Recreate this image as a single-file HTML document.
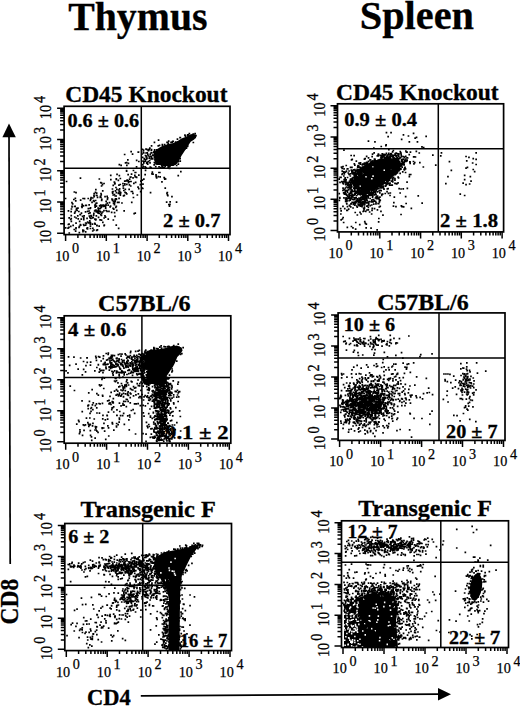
<!DOCTYPE html><html><head><meta charset="utf-8"><style>html,body{margin:0;padding:0;background:#fff;width:520px;height:707px;overflow:hidden}svg{display:block}text{font-family:"Liberation Serif",serif;stroke:#000;stroke-width:0.25px}.b{font-weight:bold;stroke-width:0.3px}</style></head><body>
<svg width="520" height="707" viewBox="0 0 520 707">
<text class="b" x="68.2" y="29.5" font-size="40" textLength="139.3" lengthAdjust="spacingAndGlyphs">Thymus</text>
<text class="b" x="359.8" y="28.6" font-size="40" textLength="114.2" lengthAdjust="spacingAndGlyphs">Spleen</text>
<path d="M155.0 162.6L153.8 156.8L155.0 151.0L159.6 147.6L164.2 145.3L168.8 144.1L173.4 143.0L178.1 140.7L181.5 138.4L186.1 136.7L190.7 134.3L194.2 133.8L196.5 136.7L194.2 139.5L190.7 141.8L188.4 145.3L186.1 148.8L183.8 152.2L181.5 155.7L179.2 160.3L176.9 163.8L173.4 166.1L163.1 166.1L159.6 164.9L157.3 164.9Z"/>
<path d="M122.5 188.2h1.7M93.0 213.4h1.7M115.4 225.1h1.7M78.2 227.4h1.7M118.2 198.4h1.7M74.4 211.7h1.7M112.2 191.5h1.7M142.1 184.2h1.7M116.0 189.3h1.7M94.1 205.4h1.7M126.0 184.4h1.7M93.3 196.6h1.7M149.7 192.6h1.7M78.8 221.3h1.7M79.5 224.6h1.7M72.3 225.4h1.7M125.6 180.8h1.7M84.7 211.8h1.7M86.7 228.9h1.7M90.0 218.5h1.7M73.7 206.5h1.7M99.9 182.7h1.7M93.9 223.3h1.7M103.1 210.7h1.7M88.4 211.0h1.7M132.6 170.5h1.7M111.8 193.2h1.7M73.4 229.5h1.7M120.3 165.4h1.7M88.3 204.8h1.7M98.5 179.0h1.7M104.2 205.4h1.7M81.2 207.3h1.7M124.3 192.4h1.7M127.3 180.5h1.7M109.9 175.4h1.7M93.1 230.0h1.7M128.8 179.2h1.7M94.8 220.0h1.7M108.7 202.6h1.7M102.2 205.3h1.7M139.5 184.6h1.7M130.1 177.0h1.7M134.3 172.5h1.7M127.8 182.7h1.7M86.7 227.8h1.7M75.2 223.1h1.7M85.5 205.5h1.7M119.9 192.5h1.7M123.0 190.5h1.7M134.8 182.3h1.7M102.4 205.2h1.7M115.1 187.5h1.7M101.6 184.6h1.7M75.7 208.3h1.7M95.0 189.6h1.7M107.4 219.1h1.7M123.9 181.2h1.7M94.3 207.2h1.7M128.7 181.5h1.7M111.1 199.0h1.7M130.2 181.5h1.7M117.6 193.4h1.7M138.0 175.2h1.7M99.8 211.8h1.7M126.3 180.0h1.7M128.3 189.3h1.7M75.2 192.7h1.7M106.3 196.4h1.7M113.6 182.1h1.7M125.7 170.7h1.7M67.6 210.8h1.7M118.9 191.3h1.7M114.6 190.8h1.7M112.6 201.4h1.7M78.0 211.5h1.7M127.3 174.7h1.7M141.3 188.2h1.7M77.4 218.9h1.7M89.1 217.7h1.7M124.2 192.3h1.7M130.5 191.5h1.7M75.4 218.0h1.7M79.2 214.5h1.7M74.8 231.2h1.7M114.2 183.4h1.7M130.9 202.3h1.7M82.1 230.3h1.7M100.8 200.4h1.7M119.5 195.2h1.7M142.0 188.5h1.7M122.1 183.7h1.7M131.5 191.5h1.7M135.8 177.3h1.7M115.3 196.0h1.7M101.0 199.4h1.7M115.5 178.9h1.7M121.1 203.0h1.7M113.5 182.0h1.7M91.9 198.0h1.7M82.7 224.5h1.7M127.4 181.5h1.7M132.6 197.5h1.7M119.5 178.5h1.7M118.1 185.2h1.7M67.2 228.2h1.7M140.0 181.1h1.7M96.1 195.5h1.7M135.5 177.0h1.7M81.3 204.3h1.7M93.3 201.3h1.7M82.2 198.5h1.7M71.2 206.9h1.7M97.3 208.2h1.7M111.6 192.0h1.7M85.6 223.4h1.7M90.2 197.7h1.7M94.6 192.4h1.7M134.4 176.9h1.7M128.6 184.9h1.7M100.5 207.2h1.7M113.6 194.6h1.7M99.7 208.2h1.7M93.3 193.7h1.7M129.5 177.2h1.7M79.9 225.2h1.7M99.4 197.4h1.7M118.2 192.0h1.7M119.7 193.5h1.7M103.2 183.5h1.7M75.1 228.7h1.7M115.6 192.7h1.7M119.4 184.5h1.7M112.2 208.3h1.7M94.8 200.5h1.7M115.4 179.3h1.7M117.9 190.0h1.7M139.8 191.6h1.7M100.8 183.0h1.7M86.8 211.3h1.7M89.3 208.5h1.7M95.5 215.8h1.7M118.1 202.3h1.7M123.3 210.8h1.7M112.5 220.0h1.7M67.5 224.5h1.7M113.9 183.9h1.7M74.9 200.8h1.7M124.0 184.9h1.7M104.1 215.8h1.7M129.9 186.0h1.7M91.6 224.2h1.7M141.5 180.2h1.7M112.4 185.4h1.7M102.0 222.3h1.7M123.5 195.4h1.7M105.2 204.5h1.7M134.0 175.4h1.7M132.1 193.3h1.7M81.5 205.1h1.7M118.5 164.6h1.7M136.5 195.0h1.7M95.8 193.2h1.7M127.6 163.4h1.7M78.5 232.7h1.7M87.5 208.7h1.7M76.3 210.4h1.7M90.5 216.4h1.7M95.1 210.2h1.7M114.4 196.0h1.7M95.5 211.8h1.7M115.9 210.4h1.7M96.7 197.3h1.7M107.3 205.1h1.7M100.4 194.8h1.7M113.0 209.2h1.7M112.7 203.4h1.7M103.2 225.7h1.7M125.2 192.9h1.7M97.5 209.9h1.7M105.2 204.4h1.7M98.9 211.1h1.7M99.8 205.2h1.7M110.8 212.4h1.7M96.0 225.4h1.7M99.2 219.8h1.7M114.3 199.7h1.7M111.5 199.9h1.7M103.3 218.0h1.7M88.9 220.8h1.7M115.6 199.4h1.7M104.8 208.2h1.7M95.9 203.2h1.7M114.9 207.3h1.7M97.4 213.1h1.7M106.8 197.9h1.7M104.7 217.1h1.7M112.3 195.0h1.7M100.0 205.8h1.7M113.6 204.7h1.7M95.6 206.1h1.7M105.3 210.5h1.7M114.2 201.2h1.7M89.7 207.8h1.7M100.6 215.5h1.7M109.3 206.8h1.7M86.8 222.0h1.7M89.5 200.3h1.7M105.2 205.2h1.7M101.3 205.3h1.7M106.5 203.1h1.7M101.9 212.0h1.7M97.5 211.6h1.7M111.8 199.7h1.7M113.7 212.6h1.7M89.5 222.7h1.7M80.4 219.1h1.7M104.0 206.2h1.7M84.9 205.4h1.7M100.0 214.6h1.7M89.2 212.9h1.7M101.0 205.5h1.7M109.7 206.1h1.7M106.2 211.4h1.7M82.9 219.7h1.7M114.1 216.3h1.7M106.6 199.3h1.7M118.8 188.8h1.7M113.7 203.0h1.7M89.6 226.1h1.7M102.4 206.3h1.7M124.5 189.4h1.7M100.1 197.4h1.7M92.8 215.2h1.7M100.7 220.1h1.7M104.7 206.3h1.7M96.5 211.2h1.7M91.7 217.9h1.7M111.6 189.0h1.7M87.8 222.9h1.7M111.7 200.5h1.7M108.1 211.4h1.7M117.5 180.4h1.7M104.2 196.7h1.7M115.4 198.9h1.7M95.2 203.3h1.7M82.9 217.9h1.7M93.8 211.0h1.7M92.4 217.4h1.7M114.8 198.9h1.7M84.8 223.0h1.7M116.7 202.4h1.7M105.3 201.3h1.7M114.3 201.5h1.7M100.9 213.4h1.7M81.7 216.3h1.7M99.6 196.4h1.7M86.1 228.4h1.7M94.3 224.2h1.7M75.5 209.8h1.7M70.4 215.6h1.7M87.4 198.5h1.7M87.9 213.5h1.7M80.6 213.2h1.7M86.2 218.3h1.7M70.6 209.0h1.7M89.6 222.8h1.7M91.9 231.0h1.7M73.9 217.0h1.7M76.9 215.8h1.7M71.1 202.6h1.7M68.4 233.0h1.7M70.4 218.6h1.7M89.6 228.5h1.7M73.8 213.2h1.7M83.7 198.6h1.7M83.1 225.5h1.7M77.1 208.1h1.7M74.3 206.4h1.7M98.8 205.8h1.7M83.3 215.8h1.7M90.0 199.2h1.7M98.6 213.3h1.7M94.5 204.6h1.7M75.2 227.9h1.7M97.7 217.4h1.7M69.9 226.4h1.7M82.6 205.8h1.7M73.0 199.5h1.7M70.3 211.7h1.7M88.5 216.0h1.7M82.9 230.7h1.7M78.6 226.3h1.7M92.7 200.7h1.7M71.2 206.4h1.7M64.8 227.8h1.7M82.0 230.2h1.7M70.5 221.3h1.7M97.0 212.4h1.7M79.6 214.7h1.7M91.2 202.3h1.7M92.0 228.4h1.7M79.8 200.2h1.7M99.0 208.6h1.7M90.2 215.5h1.7M85.4 205.4h1.7M98.3 226.2h1.7M68.1 227.4h1.7M89.5 224.2h1.7M68.2 224.2h1.7M95.1 219.4h1.7M69.8 219.5h1.7M82.1 231.6h1.7M64.7 198.5h1.7M96.2 225.6h1.7M94.4 210.4h1.7M74.5 198.3h1.7M84.8 231.9h1.7M94.1 219.1h1.7M80.9 206.5h1.7M71.8 203.8h1.7M95.8 230.4h1.7M96.6 229.9h1.7M101.9 190.9h1.7M122.7 195.9h1.7M124.0 183.8h1.7M110.0 179.6h1.7M137.9 188.6h1.7M130.7 174.2h1.7M122.4 185.9h1.7M137.2 187.1h1.7M134.9 172.5h1.7M119.2 193.9h1.7M100.2 193.5h1.7M125.9 193.9h1.7M118.5 175.7h1.7M100.7 186.0h1.7M133.0 183.4h1.7M68.3 217.9h1.7M125.8 171.1h1.7M103.5 225.2h1.7M73.5 192.0h1.7M132.2 177.8h1.7M93.1 195.7h1.7M65.7 181.5h1.7M79.6 178.1h1.7M95.6 195.3h1.7M134.4 213.2h1.7M116.2 174.4h1.7M133.3 213.7h1.7M84.8 225.1h1.7M115.5 206.4h1.7M117.8 228.4h1.7M131.7 154.2h1.7M137.4 152.2h1.7M125.8 162.6h1.7M127.0 159.9h1.7M123.8 154.5h1.7M137.7 152.0h1.7M126.0 165.4h1.7M135.8 160.3h1.7M130.3 151.7h1.7M124.7 162.9h1.7M135.7 166.8h1.7M138.0 161.5h1.7M150.7 145.9h1.7M153.6 142.4h1.7M157.7 140.1h1.7M166.2 142.4h1.7M170.2 142.4h1.7M147.2 150.0h1.7M145.2 153.0h1.7M148.5 149.4h1.7M153.5 162.5h1.7M146.4 152.9h1.7M146.2 158.0h1.7M152.7 155.2h1.7M143.4 158.5h1.7M145.8 162.9h1.7M153.8 154.2h1.7M145.5 149.1h1.7M144.2 166.8h1.7M142.3 166.6h1.7M145.1 167.7h1.7M147.4 161.6h1.7M154.8 159.5h1.7M149.4 154.4h1.7M150.2 153.0h1.7M154.3 152.6h1.7M147.9 149.7h1.7M143.5 159.1h1.7M141.8 157.3h1.7M141.9 167.5h1.7M147.5 156.0h1.7M142.2 161.1h1.7M153.8 149.9h1.7M154.4 153.2h1.7M149.2 156.6h1.7M149.2 162.9h1.7M155.1 160.9h1.7M150.5 150.4h1.7M141.4 154.0h1.7M152.0 155.2h1.7M148.8 160.6h1.7M146.2 162.3h1.7M149.0 148.2h1.7M150.4 156.3h1.7M149.4 167.2h1.7M145.1 149.0h1.7M154.2 159.6h1.7M146.4 163.3h1.7M142.4 152.0h1.7M141.6 149.4h1.7M146.9 164.1h1.7M150.2 167.7h1.7M143.0 162.9h1.7M142.9 161.3h1.7M147.8 150.5h1.7M144.5 161.1h1.7M144.6 155.5h1.7M142.0 164.6h1.7M145.3 156.8h1.7M145.8 149.4h1.7M145.1 159.5h1.7M142.7 150.1h1.7M142.9 153.0h1.7M154.0 163.0h1.7M154.5 160.5h1.7M154.9 166.7h1.7M153.3 164.8h1.7M147.0 154.3h1.7M147.5 150.7h1.7M142.7 152.4h1.7M153.4 151.5h1.7M150.3 158.9h1.7M153.9 156.9h1.7M145.9 158.9h1.7M153.1 152.1h1.7M146.0 163.1h1.7M150.7 149.6h1.7M145.5 156.0h1.7M148.4 158.2h1.7M190.9 136.1h1.7M150.8 157.1h1.7M161.6 145.9h1.7M184.1 135.1h1.7M179.2 137.6h1.7M187.7 134.9h1.7M168.0 165.5h1.7M168.6 168.4h1.7M155.9 149.8h1.7M170.4 163.8h1.7M194.3 137.5h1.7M161.5 144.6h1.7M155.3 163.9h1.7M167.4 143.1h1.7M184.6 136.1h1.7M157.2 163.4h1.7M151.9 158.9h1.7M177.5 161.7h1.7M177.4 160.8h1.7M156.5 164.1h1.7M156.9 162.9h1.7M159.9 167.5h1.7M177.5 161.6h1.7M163.5 167.4h1.7M179.4 161.1h1.7M171.3 142.2h1.7M167.4 145.2h1.7M183.9 148.8h1.7M153.5 152.6h1.7M155.5 152.5h1.7M186.5 146.3h1.7M164.4 166.5h1.7M158.7 145.4h1.7M179.5 137.7h1.7M195.1 135.5h1.7M177.3 142.0h1.7M171.9 141.3h1.7M186.7 145.7h1.7M172.3 141.3h1.7M155.4 156.6h1.7M161.3 166.7h1.7M171.5 164.5h1.7M194.6 135.8h1.7M167.8 141.1h1.7M186.8 135.2h1.7M161.9 167.2h1.7M174.4 164.0h1.7M161.0 165.3h1.7M153.4 157.0h1.7M188.8 140.2h1.7M176.6 139.2h1.7M186.8 146.1h1.7M172.2 164.5h1.7M167.2 144.5h1.7M157.4 145.9h1.7M163.8 144.7h1.7M158.2 166.8h1.7M177.5 164.1h1.7M175.8 165.5h1.7M150.9 152.9h1.7M152.9 152.4h1.7M174.6 162.9h1.7M179.3 158.6h1.7M184.2 143.9h1.7M185.6 148.2h1.7M175.2 162.2h1.7M169.1 166.3h1.7M184.8 148.2h1.7M167.8 167.1h1.7M174.8 142.1h1.7M194.3 133.7h1.7M172.5 164.7h1.7M187.1 134.9h1.7M157.5 149.7h1.7M192.5 142.5h1.7M192.4 134.1h1.7M154.1 152.9h1.7M192.3 134.5h1.7M188.5 133.5h1.7M167.1 167.0h1.7M159.0 172.5h1.7M165.8 202.1h1.7M158.1 172.5h1.7M168.0 204.5h1.7M163.9 179.2h1.7M169.1 204.3h1.7M166.6 194.9h1.7M166.1 193.3h1.7M159.3 176.8h1.7M166.5 192.5h1.7M168.6 206.1h1.7M155.8 178.0h1.7M175.7 202.2h1.7M167.0 195.7h1.7M169.3 201.9h1.7M164.4 188.2h1.7M164.1 178.6h1.7M161.1 181.8h1.7M155.3 176.6h1.7M171.1 196.7h1.7M163.3 177.6h1.7M164.8 179.0h1.7M177.4 175.6h1.7M180.0 171.7h1.7M143.0 179.1h1.7M155.2 174.8h1.7M144.3 174.7h1.7M144.7 170.3h1.7M157.4 176.7h1.7M152.2 174.1h1.7M151.5 172.2h1.7M151.1 173.8h1.7" stroke="#000" stroke-width="1.7" fill="none"/>
<rect x="64.1" y="106.3" width="165.9" height="128.3" fill="none" stroke="#000" stroke-width="1.7"/>
<path d="M141.3 106.3V234.6M64.1 168.3H230" stroke="#000" stroke-width="1.5" fill="none"/>
<path d="M65.6 234.6v6.5M64.1 233.2h-7M77.9 234.6v3.5M64.1 223.8h-4M85 234.6v3.5M64.1 218.3h-4M90.1 234.6v3.5M64.1 214.4h-4M94.1 234.6v3.5M64.1 211.4h-4M97.3 234.6v3.5M64.1 208.9h-4M100 234.6v3.5M64.1 206.8h-4M102.4 234.6v3.5M64.1 205h-4M104.5 234.6v3.5M64.1 203.4h-4M106.3 234.6v6.5M64.1 202h-7M118.6 234.6v3.5M64.1 192.6h-4M125.8 234.6v3.5M64.1 187.1h-4M130.8 234.6v3.5M64.1 183.2h-4M134.8 234.6v3.5M64.1 180.1h-4M138 234.6v3.5M64.1 177.7h-4M140.7 234.6v3.5M64.1 175.6h-4M143.1 234.6v3.5M64.1 173.8h-4M145.2 234.6v3.5M64.1 172.2h-4M147.1 234.6v6.5M64.1 170.8h-7M159.3 234.6v3.5M64.1 161.4h-4M166.5 234.6v3.5M64.1 155.9h-4M171.6 234.6v3.5M64.1 152h-4M175.5 234.6v3.5M64.1 148.9h-4M178.7 234.6v3.5M64.1 146.5h-4M181.5 234.6v3.5M64.1 144.4h-4M183.8 234.6v3.5M64.1 142.6h-4M185.9 234.6v3.5M64.1 141h-4M187.8 234.6v6.5M64.1 139.5h-7M200 234.6v3.5M64.1 130.1h-4M207.2 234.6v3.5M64.1 124.6h-4M212.3 234.6v3.5M64.1 120.7h-4M216.2 234.6v3.5M64.1 117.7h-4M219.5 234.6v3.5M64.1 115.2h-4M222.2 234.6v3.5M64.1 113.1h-4M224.6 234.6v3.5M64.1 111.3h-4M226.6 234.6v3.5M64.1 109.7h-4M228.5 234.6v6.5M64.1 108.3h-7" stroke="#000" stroke-width="1.5" fill="none"/>
<text x="55.2" y="260.5" font-size="14.2">10<tspan dx="2.6" dy="-7.4">0</tspan></text>
<text x="95.9" y="260.5" font-size="14.2">10<tspan dx="2.6" dy="-7.4">1</tspan></text>
<text x="136.7" y="260.5" font-size="14.2">10<tspan dx="2.6" dy="-7.4">2</tspan></text>
<text x="177.4" y="260.5" font-size="14.2">10<tspan dx="2.6" dy="-7.4">3</tspan></text>
<text x="218.1" y="260.5" font-size="14.2">10<tspan dx="2.6" dy="-7.4">4</tspan></text>
<text transform="translate(51.1 244.1) rotate(-90) scale(1,1.17)" font-size="14.2">10<tspan dx="2.1" dy="-5.4">0</tspan></text>
<text transform="translate(51.1 212.9) rotate(-90) scale(1,1.17)" font-size="14.2">10<tspan dx="2.1" dy="-5.4">1</tspan></text>
<text transform="translate(51.1 181.7) rotate(-90) scale(1,1.17)" font-size="14.2">10<tspan dx="2.1" dy="-5.4">2</tspan></text>
<text transform="translate(51.1 150.4) rotate(-90) scale(1,1.17)" font-size="14.2">10<tspan dx="2.1" dy="-5.4">3</tspan></text>
<text transform="translate(51.1 119.2) rotate(-90) scale(1,1.17)" font-size="14.2">10<tspan dx="2.1" dy="-5.4">4</tspan></text>
<text class="b" x="65.2" y="101.6" font-size="22.6" textLength="162.3" lengthAdjust="spacingAndGlyphs">CD45 Knockout</text>
<text class="b" x="67.4" y="127.4" font-size="18.3" textLength="71.8" lengthAdjust="spacingAndGlyphs">0.6 ± 0.6</text>
<text class="b" x="163" y="227.4" font-size="18.3" textLength="57.4" lengthAdjust="spacingAndGlyphs">2 ± 0.7</text>
<path d="M354.0 175.8L360.0 168.0L367.8 163.5L375.5 160.4L383.0 157.3L390.8 155.8L398.5 158.8L401.6 165.0L398.5 171.2L390.8 178.8L383.0 185.0L375.5 189.6L367.8 191.2L360.0 189.6L354.0 185.0Z"/>
<path d="M391.2 157.9h1.5M357.6 187.7h1.5M390.7 170.2h1.5M371.1 178.8h1.5M372.3 176.1h1.5M382.2 157.6h1.5M384.5 181.9h1.5M362.2 173.6h1.5M383.5 170.2h1.5M359.4 186.3h1.5M365.3 176.8h1.5M356.8 175.5h1.5M371.9 166.7h1.5M353.5 176.3h1.5" stroke="#fff" stroke-width="1.6" fill="none"/>
<path d="M373.4 195.0h1.7M356.1 188.7h1.7M377.3 160.7h1.7M372.0 161.5h1.7M392.0 156.0h1.7M358.4 167.0h1.7M352.8 169.9h1.7M358.2 171.1h1.7M398.8 165.5h1.7M368.0 193.3h1.7M377.1 160.8h1.7M394.4 174.6h1.7M386.1 179.4h1.7M369.6 195.4h1.7M386.8 157.7h1.7M393.9 169.9h1.7M356.1 187.5h1.7M372.0 188.6h1.7M358.2 187.9h1.7M366.9 168.1h1.7M359.1 194.2h1.7M370.6 161.5h1.7M392.4 177.4h1.7M357.5 185.4h1.7M383.8 183.1h1.7M377.3 155.9h1.7M400.4 163.9h1.7M380.8 155.6h1.7M388.6 180.5h1.7M384.3 154.7h1.7M402.2 164.6h1.7M359.6 164.2h1.7M380.9 186.9h1.7M351.3 178.3h1.7M380.1 185.8h1.7M400.0 168.9h1.7M394.1 178.5h1.7M396.1 158.1h1.7M365.6 163.3h1.7M383.8 155.4h1.7M395.2 173.9h1.7M376.2 188.1h1.7M390.7 181.2h1.7M356.7 185.8h1.7M366.5 165.7h1.7M372.2 161.6h1.7M376.7 191.9h1.7M395.7 153.3h1.7M402.2 164.4h1.7M353.7 188.3h1.7M357.3 171.6h1.7M374.4 191.9h1.7M394.1 183.3h1.7M391.5 178.6h1.7M367.8 188.4h1.7M368.1 165.1h1.7M355.3 185.2h1.7M382.0 156.1h1.7M380.9 158.4h1.7M400.2 165.8h1.7M353.4 172.9h1.7M388.0 153.3h1.7M399.6 169.1h1.7M388.7 185.1h1.7M361.4 165.0h1.7M387.4 180.2h1.7M385.8 184.5h1.7M400.9 160.0h1.7M385.0 178.3h1.7M356.3 188.5h1.7M381.4 154.8h1.7M384.8 159.9h1.7M392.5 171.8h1.7M390.8 160.5h1.7M386.5 188.9h1.7M352.2 183.3h1.7M382.8 188.4h1.7M391.5 172.8h1.7M356.7 183.0h1.7M374.6 186.2h1.7M381.0 184.9h1.7M376.5 155.9h1.7M400.9 160.5h1.7M401.3 161.3h1.7M399.3 173.4h1.7M359.5 167.6h1.7M399.2 165.1h1.7M356.1 170.5h1.7M380.7 187.8h1.7M397.5 159.4h1.7M396.9 171.3h1.7M353.8 189.0h1.7M362.7 172.2h1.7M361.7 167.6h1.7M351.8 171.2h1.7M354.6 179.5h1.7M354.1 173.3h1.7M367.7 157.9h1.7M365.1 163.9h1.7M389.4 177.7h1.7M380.5 157.9h1.7M362.4 168.3h1.7M381.0 186.9h1.7M385.5 178.4h1.7M364.5 188.0h1.7M374.8 185.8h1.7M352.1 173.8h1.7M364.3 190.5h1.7M398.5 164.3h1.7M397.3 160.2h1.7M365.0 192.7h1.7M364.5 163.8h1.7M377.9 184.5h1.7M351.2 179.7h1.7M360.2 187.5h1.7M379.6 188.0h1.7M360.7 189.7h1.7M383.7 157.4h1.7M362.8 187.1h1.7M357.2 177.8h1.7M398.4 161.7h1.7M396.6 172.9h1.7M389.2 183.2h1.7M363.7 187.4h1.7M390.7 154.9h1.7M371.8 193.1h1.7M379.0 186.7h1.7M366.5 193.1h1.7M365.2 193.6h1.7M375.6 162.4h1.7M358.8 170.8h1.7M398.2 170.7h1.7M352.3 182.3h1.7M362.2 192.8h1.7M391.8 151.9h1.7M355.0 176.2h1.7M374.0 187.6h1.7M386.7 184.0h1.7M353.8 178.7h1.7M380.2 183.5h1.7M355.9 170.9h1.7M372.6 188.7h1.7M392.5 150.5h1.7M353.9 186.4h1.7M380.1 157.3h1.7M360.6 192.3h1.7M373.1 186.6h1.7M373.7 164.7h1.7M389.6 155.7h1.7M366.1 189.3h1.7M379.5 186.5h1.7M357.6 190.9h1.7M393.5 167.0h1.7M374.2 159.4h1.7M353.9 177.2h1.7M364.2 163.3h1.7M399.3 163.9h1.7M381.1 187.3h1.7M374.7 193.2h1.7M354.9 171.0h1.7M354.5 178.3h1.7M370.1 194.8h1.7M375.0 160.8h1.7M354.9 182.0h1.7M398.9 169.7h1.7M361.8 191.4h1.7M380.3 190.7h1.7M401.1 159.9h1.7M353.3 174.8h1.7M391.2 161.1h1.7M374.3 162.5h1.7M379.5 190.3h1.7M401.0 165.0h1.7M382.9 155.6h1.7M397.9 166.8h1.7M359.2 172.9h1.7M358.1 187.7h1.7M353.3 183.4h1.7M376.7 179.4h1.7M388.5 179.8h1.7M370.4 188.1h1.7M391.9 181.9h1.7M386.6 156.4h1.7M365.8 167.6h1.7M362.6 191.3h1.7M393.7 174.6h1.7M357.2 169.9h1.7M377.9 184.9h1.7M353.6 186.5h1.7M392.2 177.6h1.7M382.0 183.2h1.7M360.2 191.8h1.7M380.5 184.7h1.7M382.3 187.1h1.7M379.2 155.4h1.7M389.5 158.1h1.7M352.9 188.2h1.7M403.9 168.0h1.7M386.4 155.2h1.7M390.1 171.9h1.7M374.9 162.7h1.7M364.8 163.2h1.7M354.5 184.0h1.7M353.4 181.2h1.7M355.3 181.7h1.7M391.4 178.4h1.7M384.4 183.3h1.7M370.0 195.2h1.7M390.4 175.4h1.7M357.0 167.2h1.7M383.0 154.3h1.7M363.5 165.0h1.7M381.5 182.7h1.7M366.6 163.2h1.7M374.2 163.5h1.7M388.0 178.4h1.7M391.8 180.7h1.7M366.6 165.3h1.7M383.5 181.5h1.7M354.0 180.2h1.7M365.3 190.0h1.7M375.6 189.8h1.7M362.8 168.8h1.7M362.5 193.4h1.7M377.6 154.2h1.7M358.4 190.0h1.7M370.9 162.0h1.7M358.0 174.4h1.7M352.0 183.7h1.7M374.0 160.7h1.7M401.5 162.5h1.7M353.6 178.6h1.7M376.2 188.9h1.7M370.3 188.9h1.7M392.0 179.1h1.7M367.3 189.6h1.7M355.6 174.6h1.7M381.8 155.2h1.7M357.4 165.5h1.7M379.7 186.7h1.7M397.7 168.6h1.7M384.7 182.7h1.7M358.4 188.4h1.7M373.1 190.7h1.7M390.3 185.1h1.7M351.3 190.2h1.7M365.8 162.3h1.7M353.3 174.6h1.7M357.4 186.7h1.7M363.4 189.7h1.7M364.5 187.5h1.7M352.7 177.7h1.7M375.5 186.6h1.7M394.1 155.4h1.7M401.3 167.2h1.7M358.5 171.0h1.7M398.8 162.6h1.7M394.1 180.1h1.7M369.0 160.0h1.7M355.5 185.6h1.7M399.2 165.8h1.7M370.5 165.2h1.7M390.6 173.2h1.7M363.7 191.3h1.7M358.3 167.6h1.7M351.0 171.8h1.7M362.2 174.1h1.7M360.1 170.3h1.7M397.3 177.2h1.7M363.9 163.2h1.7M385.1 182.8h1.7M377.8 188.6h1.7M356.4 184.7h1.7M388.7 179.8h1.7M352.3 181.5h1.7M368.4 191.5h1.7M355.4 184.0h1.7M386.2 155.7h1.7M362.1 188.5h1.7M352.9 185.2h1.7M373.6 159.1h1.7M405.1 161.5h1.7M401.3 163.6h1.7M356.8 167.0h1.7M354.8 172.9h1.7M380.8 184.4h1.7M396.0 172.1h1.7M368.2 166.0h1.7M387.2 181.1h1.7M354.2 186.4h1.7M353.0 185.3h1.7M357.9 191.7h1.7M358.8 171.8h1.7M366.9 190.9h1.7M381.7 182.0h1.7M382.0 183.8h1.7M356.1 174.1h1.7M388.5 158.2h1.7M396.4 173.0h1.7M386.7 157.7h1.7M394.8 165.4h1.7M351.1 167.3h1.7M355.5 175.2h1.7M363.4 163.4h1.7M403.2 169.4h1.7M388.5 171.1h1.7M361.6 167.1h1.7M376.8 164.0h1.7M384.8 162.5h1.7M367.6 161.4h1.7M393.4 161.7h1.7M359.2 167.4h1.7M370.7 166.9h1.7M366.0 163.6h1.7M387.0 181.1h1.7M402.5 159.0h1.7M395.2 169.8h1.7M379.0 192.8h1.7M379.2 163.7h1.7M391.6 170.1h1.7M359.0 170.1h1.7M348.2 174.4h1.7M351.4 159.4h1.7M369.7 159.8h1.7M388.2 159.7h1.7M400.3 154.6h1.7M391.6 156.4h1.7M387.7 180.0h1.7M365.2 195.5h1.7M344.3 177.8h1.7M363.9 196.2h1.7M374.3 190.0h1.7M362.5 170.2h1.7M358.1 187.4h1.7M373.6 189.5h1.7M355.9 178.5h1.7M396.0 183.8h1.7M359.7 162.8h1.7M386.9 182.9h1.7M369.7 162.0h1.7M366.7 189.1h1.7M354.4 170.6h1.7M358.4 169.8h1.7M350.3 191.2h1.7M388.2 183.3h1.7M372.2 189.8h1.7M354.2 193.9h1.7M380.9 194.7h1.7M386.0 156.9h1.7M360.5 180.3h1.7M392.7 177.4h1.7M388.6 164.1h1.7M365.9 181.1h1.7M353.4 172.7h1.7M373.8 163.5h1.7M357.7 165.7h1.7M371.0 190.2h1.7M365.5 169.0h1.7M371.3 156.6h1.7M385.6 153.3h1.7M364.9 189.5h1.7M389.1 155.0h1.7M362.8 175.2h1.7M390.8 170.1h1.7M362.4 171.0h1.7M387.3 188.7h1.7M381.4 184.4h1.7M373.0 185.6h1.7M372.1 185.4h1.7M383.2 189.2h1.7M370.3 194.9h1.7M360.9 173.4h1.7M379.3 164.0h1.7M400.0 157.7h1.7M353.3 188.4h1.7M357.8 165.9h1.7M362.6 186.7h1.7M355.7 186.2h1.7M362.3 188.1h1.7M370.7 161.4h1.7M381.7 175.7h1.7M358.2 163.1h1.7M381.4 153.9h1.7M354.3 181.8h1.7M392.4 155.4h1.7M390.0 153.9h1.7M379.1 185.5h1.7M351.2 171.2h1.7M369.8 162.5h1.7M397.9 156.1h1.7M402.9 163.5h1.7M373.3 187.8h1.7M352.1 172.4h1.7M372.2 160.8h1.7M387.8 154.8h1.7M367.7 167.6h1.7M358.0 175.2h1.7M399.4 151.5h1.7M386.3 155.6h1.7M384.7 186.1h1.7M382.7 186.0h1.7M364.3 158.6h1.7M356.7 171.8h1.7M355.9 191.6h1.7M390.8 160.6h1.7M377.0 183.5h1.7M362.6 182.6h1.7M364.9 189.3h1.7M388.0 149.6h1.7M371.7 197.1h1.7M370.4 189.9h1.7M357.8 204.9h1.7M355.9 206.0h1.7M367.4 197.8h1.7M372.9 204.2h1.7M354.4 202.1h1.7M370.5 190.8h1.7M364.5 202.6h1.7M353.1 195.2h1.7M371.9 196.2h1.7M356.9 200.9h1.7M359.8 205.1h1.7M377.3 203.5h1.7M361.5 203.6h1.7M369.3 205.6h1.7M365.3 198.3h1.7M359.1 191.8h1.7M356.4 198.9h1.7M342.8 192.9h1.7M345.5 194.1h1.7M354.8 202.9h1.7M356.4 207.1h1.7M362.2 196.0h1.7M359.2 204.4h1.7M362.4 196.7h1.7M357.8 193.8h1.7M372.7 189.2h1.7M366.3 202.3h1.7M362.4 197.7h1.7M363.7 203.4h1.7M372.8 184.4h1.7M353.1 202.9h1.7M349.7 192.0h1.7M379.1 197.2h1.7M353.8 191.1h1.7M364.8 195.8h1.7M365.2 192.6h1.7M371.0 194.6h1.7M365.5 198.7h1.7M368.3 195.3h1.7M359.1 199.9h1.7M358.2 199.7h1.7M370.9 205.0h1.7M362.4 195.4h1.7M375.2 194.7h1.7M362.6 203.9h1.7M364.9 194.7h1.7M368.5 193.3h1.7M349.2 198.3h1.7M365.7 198.6h1.7M361.0 203.3h1.7M356.5 192.1h1.7M357.0 194.3h1.7M362.5 194.8h1.7M361.9 193.0h1.7M360.7 194.3h1.7M361.9 195.2h1.7M347.2 197.8h1.7M362.5 201.9h1.7M366.4 200.4h1.7M358.5 202.5h1.7M373.9 194.7h1.7M359.4 199.0h1.7M379.8 179.9h1.7M364.9 196.9h1.7M368.8 195.3h1.7M366.0 206.2h1.7M371.5 189.3h1.7M369.1 194.9h1.7M365.3 200.4h1.7M362.7 183.2h1.7M363.7 205.0h1.7M353.9 203.2h1.7M367.9 204.0h1.7M368.4 192.6h1.7M360.1 203.7h1.7M365.5 197.6h1.7M360.4 199.9h1.7M361.3 205.0h1.7M363.0 199.4h1.7M357.5 202.1h1.7M362.8 208.3h1.7M361.4 201.7h1.7M366.2 191.3h1.7M346.5 198.8h1.7M348.8 197.0h1.7M358.2 193.3h1.7M371.6 192.8h1.7M345.2 197.9h1.7M355.9 195.5h1.7M378.1 198.9h1.7M375.1 203.9h1.7M365.6 189.2h1.7M369.7 194.7h1.7M370.5 202.0h1.7M358.3 205.6h1.7M354.2 202.4h1.7M363.9 204.1h1.7M362.8 191.7h1.7M370.0 192.6h1.7M356.6 192.5h1.7M350.5 184.1h1.7M376.4 196.9h1.7M363.6 193.0h1.7M363.3 186.9h1.7M378.4 207.0h1.7M373.7 208.6h1.7M367.3 196.6h1.7M363.0 189.2h1.7M362.0 198.2h1.7M354.7 197.6h1.7M358.4 200.2h1.7M366.0 191.2h1.7M353.9 190.4h1.7M353.0 199.7h1.7M363.2 209.4h1.7M372.2 201.8h1.7M363.9 191.7h1.7M344.8 201.3h1.7M359.2 199.9h1.7M366.8 189.8h1.7M364.3 201.5h1.7M362.4 202.8h1.7M375.9 187.4h1.7M358.6 193.5h1.7M355.7 193.0h1.7M358.6 188.9h1.7M361.7 190.4h1.7M374.2 192.2h1.7M367.0 202.6h1.7M351.0 196.0h1.7M354.6 203.6h1.7M366.3 206.0h1.7M350.0 204.0h1.7M361.2 196.8h1.7M367.8 191.2h1.7M363.1 195.8h1.7M360.8 187.9h1.7M371.3 190.3h1.7M365.6 189.6h1.7M359.2 204.7h1.7M372.5 192.4h1.7M360.2 192.6h1.7M352.6 202.4h1.7M348.1 194.5h1.7M361.2 198.8h1.7M378.7 199.9h1.7M384.4 193.5h1.7M359.3 190.2h1.7M369.3 198.5h1.7M358.2 193.0h1.7M362.8 176.8h1.7M373.3 200.7h1.7M349.8 195.4h1.7M360.0 197.4h1.7M346.2 200.8h1.7M378.5 201.3h1.7M358.1 193.5h1.7M363.9 196.0h1.7M362.9 211.2h1.7M359.9 194.0h1.7M349.6 193.1h1.7M379.4 200.3h1.7M360.6 188.0h1.7M371.2 210.4h1.7M368.3 194.4h1.7M366.1 210.0h1.7M380.9 195.4h1.7M353.7 199.4h1.7M355.7 193.2h1.7M367.9 185.3h1.7M348.9 205.8h1.7M362.3 211.5h1.7M362.1 193.9h1.7M377.9 203.7h1.7M378.2 197.5h1.7M370.5 192.4h1.7M358.2 198.0h1.7M358.2 193.6h1.7M367.8 195.4h1.7M366.9 192.8h1.7M360.6 190.8h1.7M361.5 178.8h1.7M367.3 193.2h1.7M365.1 197.1h1.7M354.6 201.9h1.7M349.2 195.5h1.7M359.2 212.4h1.7M360.0 194.0h1.7M355.2 197.9h1.7M357.1 191.0h1.7M372.6 199.7h1.7M375.3 190.9h1.7M350.4 192.1h1.7M365.9 196.1h1.7M376.7 196.0h1.7M363.6 201.3h1.7M370.8 201.3h1.7M377.5 203.7h1.7M361.4 190.5h1.7M375.6 198.6h1.7M363.4 198.5h1.7M365.1 193.5h1.7M362.2 198.3h1.7M363.4 196.1h1.7M372.1 193.3h1.7M342.1 206.3h1.7M363.6 201.5h1.7M364.5 190.2h1.7M369.5 194.3h1.7M360.9 202.5h1.7M372.2 199.5h1.7M361.6 201.9h1.7M367.2 189.8h1.7M351.5 194.4h1.7M374.7 201.3h1.7M365.7 192.4h1.7M352.6 183.8h1.7M363.8 196.3h1.7M371.0 200.0h1.7M356.0 200.5h1.7M366.0 202.9h1.7M367.7 202.8h1.7M355.5 200.4h1.7M343.9 208.6h1.7M359.8 206.1h1.7M362.4 197.8h1.7M363.7 201.2h1.7M354.0 198.4h1.7M368.1 192.1h1.7M363.4 202.3h1.7M359.5 201.4h1.7M363.3 195.3h1.7M375.2 202.7h1.7M348.5 195.9h1.7M359.1 201.4h1.7M352.0 196.8h1.7M364.2 193.7h1.7M347.8 209.2h1.7M357.6 200.5h1.7M363.6 207.0h1.7M374.6 198.0h1.7M367.5 207.5h1.7M367.9 202.3h1.7M356.4 198.8h1.7M364.6 191.9h1.7M370.4 194.4h1.7M348.4 193.7h1.7M363.8 198.2h1.7M361.2 206.6h1.7M368.7 201.5h1.7M360.6 205.5h1.7M359.8 199.5h1.7M358.9 201.7h1.7M355.3 197.6h1.7M363.6 208.4h1.7M372.5 193.8h1.7M361.1 192.5h1.7M360.2 214.0h1.7M364.7 200.2h1.7M342.9 181.7h1.7M343.5 173.9h1.7M352.2 208.0h1.7M353.1 177.5h1.7M350.7 159.9h1.7M346.0 210.4h1.7M352.6 182.9h1.7M354.7 179.0h1.7M357.0 181.3h1.7M339.0 198.1h1.7M344.8 199.3h1.7M348.4 184.8h1.7M356.2 191.2h1.7M363.0 188.5h1.7M350.1 179.5h1.7M350.6 198.7h1.7M339.2 182.4h1.7M342.2 166.7h1.7M348.7 194.9h1.7M347.9 183.2h1.7M350.4 179.1h1.7M351.2 194.5h1.7M338.3 179.1h1.7M341.9 182.8h1.7M350.0 182.3h1.7M354.0 205.2h1.7M353.9 188.7h1.7M345.2 184.0h1.7M344.2 181.4h1.7M346.6 192.1h1.7M350.4 190.5h1.7M340.6 167.1h1.7M347.2 187.8h1.7M350.5 187.2h1.7M345.6 194.9h1.7M344.3 193.4h1.7M349.8 185.1h1.7M343.4 193.8h1.7M349.4 182.3h1.7M351.5 195.6h1.7M353.6 191.4h1.7M352.2 174.0h1.7M351.5 182.2h1.7M353.8 181.8h1.7M353.9 193.7h1.7M348.2 171.0h1.7M348.6 181.3h1.7M338.9 197.5h1.7M349.7 179.0h1.7M357.2 185.7h1.7M357.3 188.9h1.7M350.5 204.0h1.7M345.6 171.1h1.7M347.9 189.8h1.7M346.3 169.0h1.7M347.8 198.1h1.7M347.4 184.5h1.7M347.5 187.1h1.7M351.3 170.5h1.7M350.3 185.0h1.7M350.2 187.8h1.7M341.0 181.6h1.7M354.5 184.7h1.7M345.4 200.3h1.7M351.4 173.3h1.7M354.8 171.5h1.7M345.7 201.2h1.7M341.6 173.5h1.7M354.3 194.6h1.7M344.4 190.7h1.7M342.1 190.3h1.7M344.4 182.5h1.7M350.0 183.7h1.7M353.5 197.9h1.7M354.7 186.6h1.7M350.6 181.9h1.7M345.3 179.8h1.7M350.6 192.7h1.7M341.3 168.5h1.7M352.3 180.4h1.7M346.8 184.3h1.7M357.1 188.7h1.7M353.5 175.9h1.7M356.6 176.5h1.7M347.8 187.1h1.7M349.5 176.0h1.7M343.3 179.6h1.7M345.9 191.0h1.7M342.5 182.0h1.7M351.5 199.4h1.7M349.2 184.9h1.7M357.8 172.7h1.7M347.5 182.7h1.7M350.5 195.5h1.7M349.1 188.7h1.7M346.3 190.3h1.7M345.4 165.5h1.7M346.9 196.3h1.7M344.4 180.0h1.7M344.7 172.2h1.7M345.6 194.0h1.7M344.2 179.0h1.7M351.6 171.1h1.7M345.6 187.0h1.7M349.6 173.9h1.7M346.7 183.1h1.7M345.8 203.3h1.7M339.3 177.3h1.7M344.4 191.9h1.7M352.6 204.4h1.7M344.6 188.0h1.7M346.2 195.3h1.7M350.9 197.3h1.7M343.8 189.6h1.7M343.0 176.0h1.7M353.9 198.5h1.7M350.1 189.0h1.7M352.8 184.8h1.7M348.4 185.3h1.7M355.9 179.8h1.7M368.5 189.9h1.7M353.3 179.0h1.7M354.5 180.7h1.7M346.7 177.5h1.7M354.2 191.2h1.7M346.8 185.2h1.7M349.9 179.8h1.7M348.9 186.5h1.7M343.5 193.3h1.7M342.2 188.2h1.7M351.0 186.7h1.7M355.1 176.8h1.7M350.4 203.5h1.7M359.5 194.9h1.7M347.0 168.9h1.7M345.6 182.2h1.7M343.1 197.9h1.7M351.2 180.7h1.7M344.9 184.7h1.7M350.9 191.8h1.7M353.8 178.5h1.7M344.4 178.7h1.7M344.0 194.2h1.7M344.6 181.2h1.7M353.4 186.0h1.7M350.2 198.1h1.7M348.5 187.5h1.7M346.3 183.7h1.7M400.8 160.0h1.7M398.9 158.3h1.7M385.0 162.0h1.7M409.6 152.2h1.7M409.2 161.8h1.7M412.6 161.5h1.7M398.7 166.9h1.7M406.2 152.2h1.7M398.4 165.3h1.7M397.9 170.3h1.7M398.4 158.7h1.7M403.7 157.2h1.7M394.5 161.5h1.7M381.8 157.1h1.7M394.6 153.5h1.7M413.1 163.8h1.7M409.0 161.8h1.7M398.2 154.0h1.7M389.1 162.3h1.7M402.2 159.4h1.7M397.6 155.4h1.7M414.6 157.0h1.7M403.3 162.7h1.7M406.2 157.9h1.7M402.8 159.3h1.7M391.4 159.0h1.7M393.2 158.4h1.7M396.3 165.6h1.7M393.8 164.5h1.7M403.6 170.0h1.7M393.4 161.8h1.7M400.6 156.1h1.7M408.4 154.6h1.7M403.4 169.5h1.7M400.1 169.1h1.7M395.4 168.6h1.7M403.1 162.2h1.7M406.8 158.0h1.7M396.8 157.7h1.7M395.2 164.4h1.7M397.3 161.6h1.7M400.7 161.3h1.7M397.2 153.8h1.7M400.1 153.1h1.7M405.3 160.3h1.7M388.7 171.4h1.7M406.3 160.1h1.7M401.1 164.5h1.7M399.2 157.6h1.7M413.6 156.8h1.7M418.4 153.0h1.7M405.6 152.2h1.7M392.1 157.0h1.7M394.1 164.1h1.7M397.4 154.6h1.7M405.4 160.2h1.7M397.2 163.5h1.7M399.7 152.7h1.7M384.1 155.0h1.7M395.7 155.8h1.7M394.3 153.9h1.7M394.2 162.6h1.7M384.9 162.1h1.7M392.6 164.5h1.7M404.9 156.4h1.7M401.9 171.8h1.7M402.4 156.6h1.7M392.0 167.8h1.7M385.6 161.0h1.7M404.6 159.0h1.7M404.2 167.3h1.7M363.3 191.5h1.7M371.4 208.4h1.7M389.5 193.0h1.7M354.0 169.5h1.7M373.3 152.9h1.7M375.2 180.4h1.7M357.1 190.0h1.7M377.9 168.5h1.7M354.4 212.5h1.7M395.5 155.6h1.7M361.6 199.4h1.7M397.6 154.7h1.7M395.1 206.7h1.7M379.1 182.1h1.7M367.6 175.7h1.7M404.7 168.9h1.7M350.5 170.2h1.7M409.3 163.3h1.7M385.8 174.7h1.7M356.5 201.3h1.7M377.8 181.5h1.7M406.1 161.0h1.7M376.4 173.0h1.7M395.3 183.7h1.7M379.4 206.3h1.7M391.4 185.2h1.7M365.5 165.7h1.7M349.9 206.8h1.7M387.6 193.4h1.7M374.1 181.6h1.7M389.7 162.2h1.7M401.1 206.7h1.7M342.6 183.9h1.7M406.2 182.1h1.7M383.7 159.3h1.7M376.7 175.6h1.7M376.0 185.8h1.7M393.5 197.1h1.7M354.9 188.3h1.7M366.6 195.6h1.7M386.5 183.6h1.7M371.9 186.6h1.7M400.5 205.9h1.7M382.2 163.8h1.7M370.8 214.0h1.7M367.5 209.9h1.7M412.8 156.8h1.7M403.4 162.6h1.7M361.9 164.2h1.7M352.2 177.6h1.7M353.3 155.6h1.7M373.4 184.5h1.7M374.5 179.0h1.7M353.5 180.7h1.7M382.1 215.1h1.7M344.0 179.6h1.7M380.5 159.6h1.7M364.4 180.8h1.7M417.4 195.8h1.7M388.9 168.3h1.7M358.2 189.5h1.7M386.2 191.7h1.7M398.3 188.7h1.7M409.9 174.5h1.7M364.9 211.4h1.7M375.8 168.0h1.7M338.4 193.7h1.7M346.6 206.6h1.7M404.7 172.5h1.7M390.5 153.5h1.7M362.9 180.6h1.7M356.3 169.4h1.7M361.8 185.7h1.7M378.4 190.8h1.7M355.2 202.1h1.7M343.2 168.9h1.7M371.7 154.1h1.7M395.3 153.0h1.7M349.1 186.7h1.7M349.4 180.4h1.7M354.6 192.8h1.7M371.2 195.1h1.7M402.4 188.9h1.7M383.3 164.6h1.7M372.7 192.1h1.7M358.9 193.3h1.7M422.5 167.0h1.7M397.7 177.8h1.7M391.1 166.9h1.7M380.1 211.4h1.7M375.2 197.2h1.7M370.0 186.6h1.7M398.7 167.9h1.7M365.5 224.1h1.7M358.8 163.3h1.7M346.5 227.4h1.7M381.8 194.1h1.7M340.2 177.3h1.7M404.8 196.6h1.7M361.8 205.0h1.7M396.1 157.8h1.7M419.0 162.6h1.7M376.9 198.6h1.7M341.2 174.5h1.7M392.1 169.2h1.7M377.4 176.8h1.7M377.3 154.7h1.7M408.5 176.7h1.7M377.3 164.5h1.7M376.1 196.5h1.7M345.9 190.9h1.7M353.5 163.8h1.7M341.4 171.2h1.7M355.8 185.4h1.7M376.9 183.8h1.7M366.8 175.9h1.7M405.3 203.5h1.7M405.0 151.0h1.7M380.0 166.4h1.7M397.2 182.9h1.7M343.2 172.2h1.7M377.3 171.7h1.7M413.9 162.6h1.7M357.0 190.4h1.7M346.6 210.4h1.7M359.6 202.3h1.7M421.3 203.2h1.7M346.0 203.8h1.7M352.6 191.4h1.7M399.3 193.0h1.7M377.1 162.8h1.7M392.3 157.2h1.7M365.5 184.8h1.7M377.2 170.9h1.7M399.9 164.3h1.7M393.0 202.7h1.7M372.0 172.3h1.7M365.8 156.3h1.7M403.3 164.9h1.7M400.2 189.0h1.7M343.2 189.3h1.7M394.6 170.3h1.7M389.2 170.6h1.7M347.4 173.0h1.7M392.6 206.2h1.7M360.7 197.4h1.7M365.8 166.3h1.7M353.7 174.7h1.7M367.6 171.8h1.7M363.0 175.3h1.7M378.6 201.8h1.7M391.2 171.3h1.7M369.2 181.6h1.7M370.7 167.7h1.7M350.9 196.6h1.7M385.2 185.3h1.7M395.3 156.2h1.7M401.7 206.5h1.7M367.2 171.7h1.7M339.8 208.6h1.7M349.7 167.3h1.7M415.5 151.3h1.7M342.9 171.9h1.7M374.7 167.2h1.7M389.2 195.5h1.7M364.6 197.5h1.7M403.7 160.9h1.7M402.8 206.9h1.7M363.5 202.0h1.7M367.7 202.9h1.7M408.7 174.6h1.7M406.5 188.3h1.7M368.9 172.5h1.7M400.2 214.5h1.7M381.5 194.2h1.7M410.5 208.4h1.7M343.1 150.1h1.7M356.5 215.0h1.7M363.6 159.1h1.7M355.5 161.2h1.7M354.8 229.2h1.7M342.8 222.5h1.7M357.1 165.9h1.7M354.0 165.1h1.7M350.3 155.5h1.7M353.1 182.7h1.7M348.6 205.3h1.7M378.0 218.5h1.7M350.6 226.5h1.7M368.8 212.0h1.7M367.2 205.6h1.7M338.5 200.3h1.7M376.6 209.8h1.7M342.3 217.5h1.7M373.4 201.1h1.7M376.3 229.8h1.7M359.4 203.8h1.7M370.2 228.2h1.7M367.9 202.2h1.7M352.1 227.8h1.7M365.3 227.8h1.7M358.9 224.7h1.7M340.0 214.0h1.7M340.3 210.9h1.7M354.9 222.5h1.7M377.8 221.9h1.7M363.0 203.5h1.7M340.3 219.9h1.7M357.2 204.0h1.7M341.6 219.0h1.7M349.3 200.2h1.7M351.3 202.3h1.7M363.9 221.7h1.7M348.3 200.6h1.7M364.5 223.4h1.7M367.6 141.2h1.7M422.8 147.5h1.7M385.6 132.7h1.7M390.2 132.6h1.7M385.3 144.8h1.7M374.1 141.9h1.7M416.6 141.8h1.7M387.3 136.6h1.7M421.1 146.8h1.7M415.7 137.3h1.7M402.6 134.9h1.7M412.7 133.3h1.7M408.5 141.9h1.7M414.3 138.2h1.7M373.0 148.0h1.7M425.3 136.4h1.7M400.8 139.4h1.7M380.4 146.5h1.7M385.0 145.6h1.7M407.6 136.0h1.7M475.3 152.9h1.7M465.2 156.5h1.7M468.1 157.3h1.7M472.4 158.7h1.7M475.3 159.4h1.7M465.9 160.9h1.7M471.8 163.0h1.7M475.3 164.5h1.7M466.6 167.4h1.7M465.2 168.1h1.7M472.4 169.5h1.7M473.8 171.7h1.7M463.8 175.3h1.7M469.5 176.7h1.7M463.8 179.6h1.7M462.3 183.2h1.7M465.2 184.7h1.7M468.8 184.0h1.7M470.2 181.1h1.7M459.4 194.1h1.7M463.8 195.5h1.7M448.6 161.6h1.7M450.5 170.3h1.7M447.1 176.7h1.7M445.0 183.7h1.7M440.6 152.9h1.7M439.9 155.8h1.7M432.0 155.1h1.7M434.9 165.2h1.7" stroke="#000" stroke-width="1.7" fill="none"/>
<rect x="337.5" y="103.8" width="166.1" height="128.1" fill="none" stroke="#000" stroke-width="1.7"/>
<path d="M438.3 103.8V231.9M337.5 148.8H503.6" stroke="#000" stroke-width="1.5" fill="none"/>
<path d="M339 231.9v6.5M337.5 230.5h-7M351.3 231.9v3.5M337.5 221.1h-4M358.5 231.9v3.5M337.5 215.6h-4M363.5 231.9v3.5M337.5 211.7h-4M367.5 231.9v3.5M337.5 208.7h-4M370.7 231.9v3.5M337.5 206.2h-4M373.5 231.9v3.5M337.5 204.2h-4M375.8 231.9v3.5M337.5 202.3h-4M377.9 231.9v3.5M337.5 200.8h-4M379.8 231.9v6.5M337.5 199.3h-7M392 231.9v3.5M337.5 189.9h-4M399.2 231.9v3.5M337.5 184.5h-4M404.3 231.9v3.5M337.5 180.6h-4M408.3 231.9v3.5M337.5 177.5h-4M411.5 231.9v3.5M337.5 175.1h-4M414.2 231.9v3.5M337.5 173h-4M416.6 231.9v3.5M337.5 171.2h-4M418.7 231.9v3.5M337.5 169.6h-4M420.6 231.9v6.5M337.5 168.2h-7M432.8 231.9v3.5M337.5 158.8h-4M440 231.9v3.5M337.5 153.3h-4M445.1 231.9v3.5M337.5 149.4h-4M449.1 231.9v3.5M337.5 146.4h-4M452.3 231.9v3.5M337.5 143.9h-4M455 231.9v3.5M337.5 141.8h-4M457.4 231.9v3.5M337.5 140h-4M459.5 231.9v3.5M337.5 138.4h-4M461.3 231.9v6.5M337.5 137h-7M473.6 231.9v3.5M337.5 127.6h-4M480.8 231.9v3.5M337.5 122.1h-4M485.9 231.9v3.5M337.5 118.2h-4M489.8 231.9v3.5M337.5 115.2h-4M493.1 231.9v3.5M337.5 112.7h-4M495.8 231.9v3.5M337.5 110.6h-4M498.1 231.9v3.5M337.5 108.8h-4M500.2 231.9v3.5M337.5 107.2h-4M502.1 231.9v6.5M337.5 105.8h-7" stroke="#000" stroke-width="1.5" fill="none"/>
<text x="328.6" y="257.8" font-size="14.2">10<tspan dx="2.6" dy="-7.4">0</tspan></text>
<text x="369.4" y="257.8" font-size="14.2">10<tspan dx="2.6" dy="-7.4">1</tspan></text>
<text x="410.2" y="257.8" font-size="14.2">10<tspan dx="2.6" dy="-7.4">2</tspan></text>
<text x="450.9" y="257.8" font-size="14.2">10<tspan dx="2.6" dy="-7.4">3</tspan></text>
<text x="491.7" y="257.8" font-size="14.2">10<tspan dx="2.6" dy="-7.4">4</tspan></text>
<text transform="translate(324.5 241.4) rotate(-90) scale(1,1.17)" font-size="14.2">10<tspan dx="2.1" dy="-5.4">0</tspan></text>
<text transform="translate(324.5 210.2) rotate(-90) scale(1,1.17)" font-size="14.2">10<tspan dx="2.1" dy="-5.4">1</tspan></text>
<text transform="translate(324.5 179.1) rotate(-90) scale(1,1.17)" font-size="14.2">10<tspan dx="2.1" dy="-5.4">2</tspan></text>
<text transform="translate(324.5 147.9) rotate(-90) scale(1,1.17)" font-size="14.2">10<tspan dx="2.1" dy="-5.4">3</tspan></text>
<text transform="translate(324.5 116.7) rotate(-90) scale(1,1.17)" font-size="14.2">10<tspan dx="2.1" dy="-5.4">4</tspan></text>
<text class="b" x="335.9" y="100.2" font-size="22.6" textLength="162.8" lengthAdjust="spacingAndGlyphs">CD45 Knockout</text>
<text class="b" x="344.2" y="125.8" font-size="18.3" textLength="72.9" lengthAdjust="spacingAndGlyphs">0.9 ± 0.4</text>
<text class="b" x="440.1" y="226.8" font-size="18.3" textLength="57.9" lengthAdjust="spacingAndGlyphs">2 ± 1.8</text>
<path d="M142.4 355.9L146.6 351.6L150.9 349.5L156.2 349.5L160.4 349.0L165.7 347.9L171.0 346.3L177.3 345.8L181.6 347.4L182.6 350.6L180.5 353.8L177.3 356.9L175.2 362.2L173.1 366.5L171.0 369.6L168.9 372.8L166.7 376.0L167.0 384.0L144.0 384.0L140.5 377.0L140.5 366.5L141.0 359.0Z"/>
<path d="M139.9 373.4h1.5M144.8 371.3h1.5M140.7 369.2h1.5M144.0 354.1h1.5M145.3 373.2h1.5M143.9 374.5h1.5M144.5 376.2h1.5M140.8 373.0h1.5M145.7 370.2h1.5M142.1 371.7h1.5M145.1 377.5h1.5M142.8 361.5h1.5M142.2 367.1h1.5M140.3 361.8h1.5" stroke="#fff" stroke-width="1.6" fill="none"/>
<path d="M109.6 363.2h1.7M125.5 366.9h1.7M104.6 364.8h1.7M108.3 358.1h1.7M120.1 364.7h1.7M127.9 373.6h1.7M108.3 367.4h1.7M113.6 355.7h1.7M132.3 369.3h1.7M105.4 353.5h1.7M118.3 375.6h1.7M134.1 358.5h1.7M95.3 357.9h1.7M113.4 365.7h1.7M126.0 361.6h1.7M120.2 356.2h1.7M98.4 372.2h1.7M117.9 362.0h1.7M94.0 370.8h1.7M146.1 369.1h1.7M100.3 361.0h1.7M129.3 362.9h1.7M109.7 366.8h1.7M97.5 364.5h1.7M132.3 365.3h1.7M124.3 353.8h1.7M130.0 363.2h1.7M125.1 363.3h1.7M126.8 360.1h1.7M141.4 360.1h1.7M116.1 364.6h1.7M135.0 360.5h1.7M127.2 363.6h1.7M120.5 364.7h1.7M118.7 377.6h1.7M121.9 365.4h1.7M108.5 370.1h1.7M119.2 354.0h1.7M136.6 368.4h1.7M111.2 366.7h1.7M118.9 362.5h1.7M141.6 356.3h1.7M114.1 361.5h1.7M142.1 365.4h1.7M158.9 360.0h1.7M143.9 352.0h1.7M120.8 359.5h1.7M125.1 355.0h1.7M111.8 355.4h1.7M141.5 353.6h1.7M99.5 370.9h1.7M143.4 368.4h1.7M116.3 360.4h1.7M110.8 362.8h1.7M126.7 356.4h1.7M110.6 355.3h1.7M125.0 366.2h1.7M144.4 357.4h1.7M125.1 367.3h1.7M127.4 360.8h1.7M115.4 366.6h1.7M133.3 370.5h1.7M125.9 358.2h1.7M118.4 360.0h1.7M128.1 370.5h1.7M151.8 372.0h1.7M126.1 374.5h1.7M109.8 368.3h1.7M123.1 368.1h1.7M109.8 366.5h1.7M145.3 364.1h1.7M116.1 371.6h1.7M129.9 351.3h1.7M111.6 364.7h1.7M136.9 369.2h1.7M110.1 366.7h1.7M117.0 365.9h1.7M117.4 365.1h1.7M126.8 363.8h1.7M119.0 368.3h1.7M133.0 370.2h1.7M124.3 364.4h1.7M133.4 368.8h1.7M121.9 365.2h1.7M125.7 365.9h1.7M132.0 359.8h1.7M138.1 356.6h1.7M120.6 372.4h1.7M104.1 363.6h1.7M135.3 362.3h1.7M117.5 360.5h1.7M119.7 369.1h1.7M160.2 359.8h1.7M107.5 353.1h1.7M127.0 370.5h1.7M134.2 363.2h1.7M112.9 360.8h1.7M125.8 366.5h1.7M141.6 366.7h1.7M153.6 370.3h1.7M123.3 373.3h1.7M89.8 362.2h1.7M136.5 374.8h1.7M129.6 352.7h1.7M116.0 361.3h1.7M121.1 364.6h1.7M144.3 367.3h1.7M139.2 365.1h1.7M144.9 366.9h1.7M123.2 360.3h1.7M124.8 364.3h1.7M120.1 364.3h1.7M131.8 367.9h1.7M141.2 358.8h1.7M140.1 355.4h1.7M136.1 368.5h1.7M126.6 362.8h1.7M129.5 355.6h1.7M111.4 356.8h1.7M97.5 364.8h1.7M97.7 356.6h1.7M108.3 366.8h1.7M114.0 361.9h1.7M118.4 359.9h1.7M110.4 363.6h1.7M139.6 359.3h1.7M134.8 356.5h1.7M162.9 362.6h1.7M131.5 365.5h1.7M134.1 358.3h1.7M104.3 362.4h1.7M112.4 372.2h1.7M133.5 369.1h1.7M129.8 363.4h1.7M142.3 367.7h1.7M134.2 360.6h1.7M105.8 360.1h1.7M121.1 354.2h1.7M134.5 362.6h1.7M152.0 367.2h1.7M112.0 359.4h1.7M118.5 367.0h1.7M137.4 364.4h1.7M122.5 366.4h1.7M138.6 361.8h1.7M137.4 361.8h1.7M110.7 358.4h1.7M111.1 371.4h1.7M101.3 377.9h1.7M140.2 365.3h1.7M120.8 370.9h1.7M124.4 372.1h1.7M121.5 371.4h1.7M141.4 363.2h1.7M121.3 364.9h1.7M115.0 363.4h1.7M120.6 363.6h1.7M121.4 362.3h1.7M135.9 359.9h1.7M102.6 355.9h1.7M107.3 354.5h1.7M105.2 368.6h1.7M117.1 364.7h1.7M107.0 359.7h1.7M123.3 374.9h1.7M121.7 360.8h1.7M118.2 358.8h1.7M141.3 367.5h1.7M103.4 363.4h1.7M119.8 364.0h1.7M116.5 364.2h1.7M123.8 363.0h1.7M102.9 370.4h1.7M102.4 358.7h1.7M131.0 357.0h1.7M95.6 360.3h1.7M112.3 365.2h1.7M122.6 372.2h1.7M135.5 363.0h1.7M149.2 378.5h1.7M110.0 365.1h1.7M102.8 364.6h1.7M109.8 357.2h1.7M98.9 369.2h1.7M117.5 354.6h1.7M82.7 361.5h1.7M132.8 356.6h1.7M113.8 370.9h1.7M84.7 371.8h1.7M134.3 356.5h1.7M68.8 365.3h1.7M89.6 365.2h1.7M102.4 364.3h1.7M115.9 371.2h1.7M86.4 362.4h1.7M109.2 362.4h1.7M138.9 366.7h1.7M98.9 357.2h1.7M79.8 358.0h1.7M127.0 366.2h1.7M111.2 367.6h1.7M107.1 364.2h1.7M131.1 357.7h1.7M136.0 357.6h1.7M73.1 357.1h1.7M67.7 356.9h1.7M96.0 367.5h1.7M123.3 362.3h1.7M110.9 360.3h1.7M109.1 360.7h1.7M106.1 364.3h1.7M82.8 369.4h1.7M67.1 372.8h1.7M81.5 374.9h1.7M102.1 372.7h1.7M65.2 370.8h1.7M131.0 359.2h1.7M128.8 357.8h1.7M135.9 360.9h1.7M94.9 356.4h1.7M114.3 366.9h1.7M128.2 369.7h1.7M116.2 358.2h1.7M136.8 360.1h1.7M121.8 365.9h1.7M139.7 368.7h1.7M119.1 368.9h1.7M86.3 357.8h1.7M101.1 370.4h1.7M112.8 367.2h1.7M127.0 361.0h1.7M77.3 369.2h1.7M105.1 367.1h1.7M86.1 357.9h1.7M115.6 372.9h1.7M85.1 365.7h1.7M109.0 358.6h1.7M118.4 375.6h1.7M135.9 355.4h1.7M75.2 364.2h1.7M140.8 365.7h1.7M134.3 360.5h1.7M144.4 364.7h1.7M132.8 368.6h1.7M142.9 363.7h1.7M134.7 365.1h1.7M142.3 370.3h1.7M137.5 365.5h1.7M142.3 355.2h1.7M133.8 361.6h1.7M129.8 373.2h1.7M132.8 370.0h1.7M131.7 366.2h1.7M135.7 361.9h1.7M136.9 358.7h1.7M128.8 365.2h1.7M143.0 365.9h1.7M142.9 361.7h1.7M137.5 362.0h1.7M130.7 364.0h1.7M137.4 364.3h1.7M143.9 367.6h1.7M141.1 358.6h1.7M137.2 351.1h1.7M126.1 379.9h1.7M133.3 355.3h1.7M140.7 362.6h1.7M128.6 369.9h1.7M140.6 361.2h1.7M138.9 373.9h1.7M140.5 361.5h1.7M138.4 364.5h1.7M129.2 365.7h1.7M143.0 370.3h1.7M132.5 372.4h1.7M135.4 364.9h1.7M135.2 371.5h1.7M129.6 366.1h1.7M130.4 372.4h1.7M128.7 365.1h1.7M138.6 373.7h1.7M136.2 369.9h1.7M140.1 373.6h1.7M132.0 369.4h1.7M137.1 356.7h1.7M139.6 368.8h1.7M146.7 363.3h1.7M132.6 364.9h1.7M141.7 370.6h1.7M139.3 357.7h1.7M136.9 368.5h1.7M132.1 372.6h1.7M132.2 366.0h1.7M130.6 359.0h1.7M129.3 363.1h1.7M137.2 370.0h1.7M136.4 361.6h1.7M144.9 350.1h1.7M127.6 357.1h1.7M125.9 366.7h1.7M138.7 361.4h1.7M127.4 367.2h1.7M139.8 354.6h1.7M138.5 350.4h1.7M137.5 371.3h1.7M146.0 371.6h1.7M138.2 354.2h1.7M143.4 377.3h1.7M136.3 366.9h1.7M141.1 373.6h1.7M135.9 373.8h1.7M131.7 375.3h1.7M135.0 367.2h1.7M142.2 371.1h1.7M136.4 383.7h1.7M134.8 351.4h1.7M131.4 372.3h1.7M144.2 358.7h1.7M131.0 361.6h1.7M135.3 369.2h1.7M133.5 371.5h1.7M133.6 360.3h1.7M145.0 356.6h1.7M135.2 361.0h1.7M133.8 369.3h1.7M133.8 369.7h1.7M138.8 361.1h1.7M137.2 380.0h1.7M128.2 356.5h1.7M134.9 370.3h1.7M141.6 367.2h1.7M139.0 363.0h1.7M139.7 370.3h1.7M130.6 371.4h1.7M132.1 363.1h1.7M136.7 371.4h1.7M134.4 367.8h1.7M132.0 364.6h1.7M135.5 362.4h1.7M138.8 385.8h1.7M81.2 400.9h1.7M133.8 413.3h1.7M92.4 402.8h1.7M94.3 438.1h1.7M84.6 424.9h1.7M110.1 404.5h1.7M106.4 415.6h1.7M114.6 381.7h1.7M108.2 403.5h1.7M123.3 405.2h1.7M117.5 372.3h1.7M148.8 400.4h1.7M102.8 428.0h1.7M85.6 418.1h1.7M88.0 426.4h1.7M87.7 424.3h1.7M89.0 418.0h1.7M104.9 439.3h1.7M107.0 425.9h1.7M102.1 415.3h1.7M131.1 381.8h1.7M102.9 388.5h1.7M140.4 397.8h1.7M101.6 403.4h1.7M115.7 380.7h1.7M115.8 423.5h1.7M110.3 392.4h1.7M87.2 405.7h1.7M113.7 391.2h1.7M95.9 407.8h1.7M107.6 412.2h1.7M83.5 425.5h1.7M134.6 391.3h1.7M147.9 400.2h1.7M125.6 386.0h1.7M79.2 431.9h1.7M81.4 411.7h1.7M99.2 403.8h1.7M116.2 415.5h1.7M132.3 409.6h1.7M121.8 415.6h1.7M115.1 364.4h1.7M97.2 432.3h1.7M111.7 423.9h1.7M101.9 377.5h1.7M111.5 422.5h1.7M90.1 408.5h1.7M138.1 397.7h1.7M96.0 393.7h1.7M110.9 409.6h1.7M90.6 436.9h1.7M111.3 407.9h1.7M77.7 420.3h1.7M116.0 415.3h1.7M94.5 405.6h1.7M111.6 402.6h1.7M87.1 405.9h1.7M116.5 394.4h1.7M106.8 419.2h1.7M99.4 386.0h1.7M116.9 391.1h1.7M122.8 413.3h1.7M134.7 434.0h1.7M89.5 430.6h1.7M105.4 368.7h1.7M103.5 378.2h1.7M103.1 423.3h1.7M118.0 386.8h1.7M90.9 440.4h1.7M94.9 428.1h1.7M98.2 403.5h1.7M118.6 419.3h1.7M96.1 431.1h1.7M101.1 379.5h1.7M159.9 428.3h1.7M107.9 436.0h1.7M111.4 401.6h1.7M89.5 424.4h1.7M127.3 391.8h1.7M127.3 401.4h1.7M126.7 394.9h1.7M112.8 406.9h1.7M89.7 435.4h1.7M125.5 386.5h1.7M88.6 401.4h1.7M87.0 422.6h1.7M111.4 422.9h1.7M130.5 410.5h1.7M91.3 389.6h1.7M111.9 373.5h1.7M112.9 412.0h1.7M95.3 430.0h1.7M87.4 408.7h1.7M75.9 424.1h1.7M119.7 415.6h1.7M97.5 395.1h1.7M121.0 394.4h1.7M118.3 374.7h1.7M98.6 413.2h1.7M101.4 428.5h1.7M96.1 413.0h1.7M107.7 427.8h1.7M115.4 377.8h1.7M115.6 390.0h1.7M122.2 405.2h1.7M128.0 419.8h1.7M126.4 399.5h1.7M130.0 393.8h1.7M130.4 381.4h1.7M94.2 430.0h1.7M118.5 418.0h1.7M92.1 423.3h1.7M118.9 411.5h1.7M92.0 409.7h1.7M125.5 406.6h1.7M101.3 427.8h1.7M101.9 396.2h1.7M115.7 426.8h1.7M112.4 402.9h1.7M87.7 405.2h1.7M135.1 394.8h1.7M101.7 395.3h1.7M115.5 358.4h1.7M127.7 385.0h1.7M83.2 430.3h1.7M115.6 426.1h1.7M122.2 387.1h1.7M137.5 393.8h1.7M89.2 413.3h1.7M108.2 400.4h1.7M90.2 411.4h1.7M119.2 372.7h1.7M120.1 390.0h1.7M121.1 372.8h1.7M104.5 419.8h1.7M108.3 403.8h1.7M103.8 431.2h1.7M140.1 390.3h1.7M129.0 417.0h1.7M132.7 386.7h1.7M93.4 419.0h1.7M88.8 425.1h1.7M114.5 378.3h1.7M106.2 415.3h1.7M91.6 404.8h1.7M101.9 418.9h1.7M126.9 415.9h1.7M118.4 394.8h1.7M117.7 395.8h1.7M125.5 399.3h1.7M111.7 408.0h1.7M137.8 374.1h1.7M109.2 402.9h1.7M109.2 396.4h1.7M122.7 393.3h1.7M122.1 377.0h1.7M121.3 385.5h1.7M133.7 388.2h1.7M134.9 387.6h1.7M119.0 386.3h1.7M140.1 396.6h1.7M113.7 381.0h1.7M115.7 389.5h1.7M122.3 388.1h1.7M106.8 400.9h1.7M124.7 393.8h1.7M126.8 393.3h1.7M112.5 398.7h1.7M131.5 390.0h1.7M126.8 382.8h1.7M117.1 382.8h1.7M123.8 388.0h1.7M132.0 390.0h1.7M132.7 395.8h1.7M129.4 397.7h1.7M121.6 390.6h1.7M118.6 403.1h1.7M122.9 401.4h1.7M120.2 405.8h1.7M137.3 403.7h1.7M139.0 383.7h1.7M122.5 389.8h1.7M115.3 395.1h1.7M125.4 384.6h1.7M129.4 393.1h1.7M119.9 396.2h1.7M112.3 402.1h1.7M122.7 396.6h1.7M120.6 383.5h1.7M129.4 402.9h1.7M116.1 409.8h1.7M142.3 386.1h1.7M125.6 381.7h1.7M123.7 386.6h1.7M127.6 395.4h1.7M124.0 385.0h1.7M137.5 385.6h1.7M120.3 395.6h1.7M112.3 375.2h1.7M124.5 390.6h1.7M129.6 388.6h1.7M130.6 389.5h1.7M142.3 405.4h1.7M122.6 396.9h1.7M118.7 393.1h1.7M117.5 395.4h1.7M124.7 401.5h1.7M100.6 385.1h1.7M78.6 433.6h1.7M95.6 403.8h1.7M81.7 435.4h1.7M78.2 421.6h1.7M87.9 392.9h1.7M117.3 424.6h1.7M135.4 403.9h1.7M73.6 390.5h1.7M128.4 429.8h1.7M90.6 407.5h1.7M128.8 415.1h1.7M94.5 426.7h1.7M133.7 403.8h1.7M118.3 422.1h1.7M122.1 403.6h1.7M69.4 386.2h1.7M95.6 426.8h1.7M123.5 424.3h1.7M91.7 425.8h1.7M113.0 430.1h1.7M79.1 429.8h1.7M98.6 384.8h1.7M82.5 424.8h1.7M139.5 405.7h1.7M182.3 347.7h1.7M140.0 354.9h1.7M177.4 344.1h1.7M147.4 382.9h1.7M144.5 350.9h1.7M140.3 361.2h1.7M179.7 354.4h1.7M164.8 377.2h1.7M141.6 383.3h1.7M143.2 354.2h1.7M168.6 375.2h1.7M167.5 384.6h1.7M162.4 386.3h1.7M153.0 347.6h1.7M156.8 350.6h1.7M172.5 346.7h1.7M141.7 372.5h1.7M141.2 376.3h1.7M144.0 355.3h1.7M141.7 364.4h1.7M150.3 350.3h1.7M157.2 348.9h1.7M140.2 366.6h1.7M167.3 370.9h1.7M138.6 368.2h1.7M175.5 346.5h1.7M167.5 379.0h1.7M138.3 365.4h1.7M163.2 346.7h1.7M153.8 348.4h1.7M156.1 382.8h1.7M181.0 353.6h1.7M160.3 345.9h1.7M166.6 346.8h1.7M171.5 370.9h1.7M140.2 374.4h1.7M153.4 349.3h1.7M166.1 382.4h1.7M158.4 383.0h1.7M147.1 381.8h1.7M171.0 372.0h1.7M158.9 347.1h1.7M157.8 351.1h1.7M178.1 347.4h1.7M149.3 383.7h1.7M155.7 383.3h1.7M148.0 385.5h1.7M159.1 385.1h1.7M169.9 347.7h1.7M159.6 385.8h1.7M164.4 377.7h1.7M178.7 350.1h1.7M175.9 361.2h1.7M146.0 384.4h1.7M160.7 348.1h1.7M153.0 348.8h1.7M167.5 346.4h1.7M156.0 348.7h1.7M168.3 346.7h1.7M172.0 346.7h1.7M148.3 353.8h1.7M173.0 345.6h1.7M141.7 372.3h1.7M140.1 382.0h1.7M166.0 385.9h1.7M140.9 357.2h1.7M149.9 350.9h1.7M172.4 363.6h1.7M171.3 369.0h1.7M144.3 383.8h1.7M150.9 382.1h1.7M165.8 378.8h1.7M142.9 370.6h1.7M144.3 352.9h1.7M140.6 356.8h1.7M164.5 346.9h1.7M138.1 374.0h1.7M146.6 351.5h1.7M140.0 368.8h1.7M147.7 385.3h1.7M157.4 436.3h1.7M168.6 441.1h1.7M153.3 432.0h1.7M166.3 431.7h1.7M162.7 431.7h1.7M157.8 400.5h1.7M157.1 438.9h1.7M153.7 436.3h1.7M163.2 427.3h1.7M161.5 420.0h1.7M161.7 420.5h1.7M157.8 436.6h1.7M166.7 405.2h1.7M160.1 424.5h1.7M156.3 402.7h1.7M164.2 411.3h1.7M167.6 410.6h1.7M164.2 428.6h1.7M167.4 423.5h1.7M158.5 433.7h1.7M166.1 407.1h1.7M164.2 423.5h1.7M160.8 386.5h1.7M158.2 404.0h1.7M164.2 435.7h1.7M160.1 410.3h1.7M158.9 384.8h1.7M166.8 410.1h1.7M158.5 406.1h1.7M167.2 386.3h1.7M154.1 427.6h1.7M154.5 419.6h1.7M155.7 433.0h1.7M161.7 433.7h1.7M165.5 425.0h1.7M159.0 391.7h1.7M158.9 437.1h1.7M155.9 419.5h1.7M163.4 431.5h1.7M161.6 432.4h1.7M160.8 429.2h1.7M155.4 433.4h1.7M158.6 403.5h1.7M157.9 428.4h1.7M164.1 403.8h1.7M159.0 390.7h1.7M160.1 384.2h1.7M155.8 406.4h1.7M161.5 386.1h1.7M171.5 425.0h1.7M163.3 390.9h1.7M148.5 426.5h1.7M162.7 384.8h1.7M164.9 408.4h1.7M163.1 435.5h1.7M155.4 398.2h1.7M164.7 411.1h1.7M155.2 425.9h1.7M157.3 423.8h1.7M153.8 436.9h1.7M157.1 417.3h1.7M159.9 397.7h1.7M163.5 438.9h1.7M161.3 414.1h1.7M163.3 419.0h1.7M163.0 389.6h1.7M168.1 384.0h1.7M161.4 426.9h1.7M156.0 400.3h1.7M163.5 422.9h1.7M159.0 404.3h1.7M160.4 439.0h1.7M166.6 437.6h1.7M164.6 401.1h1.7M159.0 419.2h1.7M154.2 386.9h1.7M163.5 402.9h1.7M161.0 386.0h1.7M173.0 403.9h1.7M162.6 417.8h1.7M162.9 441.3h1.7M153.7 428.6h1.7M160.3 418.8h1.7M158.5 396.2h1.7M165.6 439.7h1.7M161.8 434.5h1.7M160.5 384.9h1.7M160.9 439.9h1.7M155.1 432.5h1.7M164.6 395.4h1.7M156.5 421.7h1.7M155.9 410.9h1.7M154.0 419.9h1.7M151.2 428.6h1.7M165.7 416.9h1.7M162.1 388.7h1.7M153.0 431.5h1.7M156.4 400.9h1.7M168.0 411.0h1.7M159.0 394.8h1.7M153.8 432.1h1.7M158.2 396.9h1.7M156.3 387.3h1.7M160.4 436.7h1.7M157.1 393.8h1.7M169.7 420.9h1.7M170.1 429.8h1.7M163.1 395.1h1.7M157.1 392.9h1.7M162.0 431.0h1.7M162.2 429.0h1.7M155.8 399.5h1.7M155.8 407.8h1.7M159.5 432.7h1.7M166.1 426.2h1.7M162.1 391.1h1.7M161.5 434.8h1.7M169.1 441.6h1.7M162.4 417.6h1.7M154.1 404.3h1.7M156.7 400.7h1.7M163.7 387.5h1.7M154.1 387.6h1.7M163.4 399.2h1.7M156.9 386.5h1.7M162.2 423.4h1.7M165.5 394.3h1.7M156.6 438.4h1.7M165.3 407.8h1.7M162.7 392.1h1.7M163.3 433.4h1.7M161.7 388.7h1.7M166.3 410.6h1.7M163.9 404.3h1.7M160.1 423.2h1.7M161.2 433.8h1.7M158.3 403.4h1.7M161.4 435.5h1.7M157.5 416.3h1.7M156.2 411.6h1.7M170.7 392.9h1.7M157.3 397.5h1.7M169.0 415.1h1.7M159.0 392.1h1.7M155.7 383.2h1.7M161.3 415.8h1.7M160.3 412.6h1.7M161.2 426.8h1.7M163.2 435.8h1.7M168.2 440.7h1.7M159.8 414.3h1.7M162.1 407.0h1.7M163.4 393.5h1.7M164.4 398.0h1.7M163.6 394.4h1.7M161.6 425.0h1.7M155.8 404.3h1.7M161.7 403.1h1.7M163.3 396.8h1.7M163.6 399.7h1.7M156.1 441.4h1.7M156.3 407.5h1.7M153.4 405.6h1.7M160.5 388.6h1.7M152.9 395.4h1.7M161.0 407.6h1.7M157.0 419.0h1.7M156.6 400.8h1.7M160.1 409.7h1.7M156.8 386.3h1.7M160.4 431.2h1.7M161.2 433.2h1.7M167.8 413.2h1.7M157.6 402.3h1.7M159.2 436.5h1.7M165.2 425.4h1.7M159.5 425.8h1.7M153.5 396.5h1.7M163.2 405.2h1.7M165.1 391.5h1.7M166.7 400.6h1.7M165.5 390.9h1.7M157.9 417.2h1.7M162.7 434.0h1.7M164.2 409.9h1.7M153.6 403.1h1.7M163.9 423.6h1.7M163.7 398.2h1.7M162.5 434.4h1.7M158.4 440.3h1.7M162.3 394.3h1.7M164.1 416.3h1.7M160.6 396.7h1.7M167.9 393.1h1.7M157.9 393.9h1.7M162.6 409.1h1.7M156.6 428.1h1.7M161.7 391.4h1.7M153.2 437.0h1.7M162.4 409.4h1.7M163.2 384.8h1.7M166.4 398.0h1.7M156.4 416.0h1.7M167.0 402.4h1.7M149.5 396.5h1.7M168.6 432.2h1.7M165.3 412.8h1.7M164.0 422.0h1.7M157.2 412.6h1.7M162.1 388.4h1.7M153.8 402.5h1.7M158.1 400.5h1.7M149.1 409.0h1.7M162.2 409.7h1.7M162.4 421.1h1.7M160.0 417.4h1.7M159.4 420.6h1.7M165.3 419.4h1.7M154.6 424.7h1.7M164.9 409.0h1.7M161.8 405.8h1.7M156.6 419.5h1.7M157.8 393.7h1.7M161.6 419.0h1.7M162.6 414.4h1.7M157.1 431.5h1.7M168.3 403.9h1.7M155.3 392.4h1.7M160.6 420.9h1.7M161.9 440.0h1.7M155.4 418.7h1.7M167.1 403.1h1.7M159.9 388.0h1.7M160.9 405.7h1.7M156.5 402.5h1.7M166.3 419.1h1.7M157.7 432.6h1.7M164.4 421.9h1.7M161.0 411.3h1.7M163.5 436.4h1.7M161.6 392.2h1.7M158.0 413.4h1.7M165.3 430.7h1.7M166.9 428.9h1.7M158.7 387.9h1.7M165.1 393.7h1.7M161.2 411.4h1.7M155.7 428.6h1.7M150.7 406.3h1.7M158.0 407.4h1.7M164.0 407.8h1.7M164.2 412.7h1.7M159.9 415.4h1.7M156.1 395.5h1.7M153.5 401.0h1.7M172.8 397.0h1.7M160.7 417.2h1.7M157.3 406.4h1.7M165.9 389.8h1.7M165.3 434.7h1.7M162.7 411.0h1.7M165.9 420.1h1.7M151.7 386.7h1.7M152.5 412.8h1.7M167.1 437.1h1.7M153.2 401.5h1.7M161.2 428.6h1.7M167.5 426.1h1.7M162.7 435.7h1.7M164.4 392.2h1.7M165.0 390.4h1.7M158.5 435.6h1.7M160.9 400.4h1.7M161.6 418.3h1.7M161.5 435.7h1.7M158.7 431.4h1.7M157.2 411.1h1.7M160.0 418.2h1.7M165.1 383.0h1.7M163.6 386.7h1.7M161.4 384.3h1.7M157.6 431.6h1.7M160.9 440.1h1.7M161.6 393.6h1.7M161.3 436.1h1.7M164.7 437.1h1.7M161.5 403.4h1.7M157.7 433.1h1.7M167.3 423.0h1.7M164.3 388.5h1.7M160.9 413.4h1.7M167.8 438.6h1.7M153.6 403.8h1.7M161.3 436.1h1.7M157.1 393.0h1.7M165.4 436.3h1.7M152.5 412.4h1.7M157.6 391.9h1.7M158.8 433.3h1.7M158.5 426.0h1.7M161.0 428.6h1.7M159.4 407.6h1.7M156.3 432.1h1.7M160.3 415.5h1.7M156.0 427.7h1.7M156.7 393.1h1.7M163.1 386.2h1.7M160.7 418.7h1.7M152.9 424.0h1.7M163.6 419.5h1.7M158.5 414.3h1.7M162.2 396.4h1.7M160.8 409.5h1.7M152.1 438.0h1.7M169.8 408.9h1.7M164.4 412.2h1.7M157.5 384.4h1.7M157.0 422.8h1.7M167.0 382.9h1.7M156.7 388.5h1.7M158.6 422.0h1.7M157.5 419.4h1.7M162.5 416.5h1.7M164.4 437.2h1.7M159.0 429.4h1.7M170.1 430.4h1.7M165.5 433.8h1.7M159.2 435.4h1.7M156.7 397.3h1.7M170.6 392.4h1.7M160.7 433.8h1.7M161.4 402.0h1.7M157.7 395.1h1.7M169.7 413.2h1.7M160.1 397.1h1.7M159.8 440.1h1.7M161.7 423.8h1.7M169.9 400.8h1.7M160.9 419.4h1.7M158.9 417.7h1.7M166.1 428.6h1.7M162.5 398.1h1.7M153.6 401.0h1.7M162.0 405.4h1.7M155.7 440.9h1.7M158.9 398.4h1.7M166.4 406.5h1.7M159.1 416.2h1.7M159.6 394.0h1.7M161.4 425.3h1.7M153.6 404.1h1.7M160.3 400.9h1.7M154.2 428.8h1.7M166.8 391.8h1.7M158.4 391.3h1.7M165.4 397.8h1.7M156.9 415.1h1.7M160.6 399.6h1.7M165.0 413.5h1.7M164.7 438.0h1.7M157.3 393.9h1.7M158.9 402.8h1.7M154.7 384.2h1.7M163.3 383.0h1.7M160.1 428.8h1.7M168.3 440.3h1.7M158.8 402.6h1.7M159.3 430.9h1.7M154.1 391.5h1.7M155.9 428.9h1.7M166.0 437.0h1.7M174.4 429.7h1.7M153.2 417.4h1.7M164.4 403.4h1.7M163.7 391.9h1.7M161.4 417.8h1.7M164.4 427.4h1.7M159.6 417.1h1.7M160.1 435.8h1.7M158.2 411.5h1.7M162.7 404.8h1.7M154.1 407.7h1.7M163.9 406.9h1.7M158.9 405.3h1.7M162.9 409.9h1.7M160.2 421.6h1.7M157.7 440.4h1.7M162.9 419.6h1.7M163.3 423.9h1.7M155.8 411.0h1.7M165.0 416.1h1.7M159.7 426.0h1.7M160.4 431.4h1.7M160.4 396.9h1.7M157.7 391.3h1.7M152.1 392.0h1.7M168.9 433.8h1.7M155.7 425.6h1.7M157.7 413.4h1.7M159.4 386.9h1.7M162.9 388.1h1.7M165.3 420.9h1.7M156.6 401.8h1.7M162.6 425.1h1.7M162.4 408.6h1.7M162.4 400.3h1.7M169.9 429.2h1.7M164.0 424.3h1.7M158.9 422.8h1.7M156.5 415.8h1.7M161.0 405.1h1.7M160.9 425.2h1.7M166.1 412.5h1.7M154.4 400.5h1.7M163.4 429.1h1.7M154.5 423.6h1.7M157.4 436.8h1.7M158.9 401.5h1.7M154.5 398.4h1.7M165.2 392.4h1.7M156.4 394.7h1.7M154.3 395.2h1.7M153.6 395.3h1.7M169.4 392.3h1.7M157.4 387.9h1.7M157.9 387.1h1.7M157.8 393.9h1.7M166.3 391.1h1.7M159.3 391.6h1.7M163.2 385.9h1.7M147.9 387.9h1.7M148.3 389.7h1.7M169.2 384.7h1.7M161.1 384.3h1.7M151.5 401.1h1.7M158.8 395.4h1.7M156.8 394.6h1.7M169.0 394.2h1.7M156.3 390.2h1.7M150.4 395.9h1.7M154.8 393.4h1.7M176.6 390.4h1.7M165.1 394.4h1.7M162.5 397.8h1.7M160.7 390.5h1.7M146.6 395.8h1.7M167.9 395.3h1.7M163.7 393.8h1.7M143.1 381.9h1.7M154.4 384.9h1.7M159.7 386.6h1.7M169.4 395.1h1.7M157.3 391.1h1.7M158.7 398.1h1.7M166.7 382.7h1.7M143.2 396.9h1.7M153.4 395.5h1.7M167.6 383.9h1.7M168.7 395.7h1.7M155.8 387.7h1.7M161.8 391.9h1.7M157.0 393.3h1.7M168.1 378.2h1.7M170.1 395.5h1.7M167.1 391.1h1.7M153.9 395.8h1.7M156.9 388.6h1.7M167.1 397.5h1.7M159.3 389.8h1.7M162.0 398.8h1.7M147.7 389.8h1.7M146.0 396.9h1.7M162.1 393.6h1.7M159.0 384.4h1.7M165.3 394.4h1.7M168.6 390.2h1.7M148.3 390.3h1.7M152.3 395.6h1.7M161.7 401.6h1.7M171.2 387.1h1.7M160.2 394.5h1.7M145.9 386.6h1.7M155.8 398.6h1.7M154.5 384.3h1.7M164.0 382.8h1.7M146.6 389.6h1.7M163.9 391.8h1.7M160.3 391.6h1.7M160.2 399.2h1.7M148.3 380.0h1.7M159.4 394.3h1.7M165.6 391.2h1.7M165.1 390.5h1.7M159.1 383.8h1.7M157.3 404.3h1.7M162.2 386.1h1.7M166.4 404.8h1.7M169.8 399.6h1.7M164.4 386.1h1.7M162.4 392.7h1.7M166.5 390.7h1.7M162.9 386.3h1.7M148.8 379.8h1.7M149.6 399.2h1.7M160.0 395.4h1.7M171.2 398.2h1.7M155.4 397.0h1.7M155.6 389.3h1.7M174.4 391.3h1.7M177.4 392.9h1.7M161.6 394.5h1.7M169.6 395.2h1.7M156.1 397.2h1.7M167.1 400.3h1.7M166.1 397.6h1.7M164.2 399.8h1.7M153.3 406.2h1.7M165.8 387.0h1.7M156.3 394.7h1.7M169.8 384.1h1.7M155.5 388.1h1.7M162.6 390.6h1.7M166.6 389.3h1.7M152.5 399.8h1.7M147.5 393.0h1.7M153.7 399.2h1.7M161.7 390.9h1.7M172.8 402.9h1.7M153.7 385.2h1.7M164.2 393.8h1.7M162.9 378.0h1.7M165.6 384.9h1.7M175.9 397.2h1.7M156.8 401.2h1.7M164.3 393.8h1.7M157.8 384.3h1.7M156.8 388.7h1.7M161.6 391.6h1.7M164.6 390.9h1.7M157.1 395.2h1.7M163.0 385.1h1.7M166.2 377.5h1.7M151.3 391.0h1.7M161.0 391.9h1.7M152.5 400.7h1.7M144.5 405.9h1.7M159.6 395.0h1.7M156.4 393.2h1.7M163.6 392.0h1.7M168.8 387.3h1.7M171.1 393.1h1.7M148.5 388.5h1.7M157.1 390.2h1.7M159.6 390.5h1.7M159.3 393.0h1.7M152.4 390.5h1.7M166.0 390.8h1.7M158.3 389.8h1.7M164.7 398.7h1.7M144.3 395.6h1.7M163.8 381.7h1.7M168.9 398.2h1.7M142.7 400.0h1.7M157.5 393.2h1.7M156.7 386.0h1.7M161.5 392.8h1.7M176.7 395.0h1.7M164.3 392.8h1.7M157.8 391.9h1.7M155.8 389.5h1.7M158.6 393.5h1.7M155.6 395.5h1.7M152.3 390.6h1.7M152.5 395.3h1.7M162.2 389.8h1.7M177.3 401.5h1.7M148.0 384.7h1.7M172.8 394.9h1.7M151.5 394.4h1.7M157.2 383.8h1.7M155.3 396.6h1.7M159.3 408.8h1.7M163.5 391.6h1.7M160.5 385.7h1.7M160.4 386.4h1.7M157.2 379.2h1.7M162.2 395.7h1.7M169.1 391.6h1.7M165.1 418.7h1.7M154.8 410.5h1.7M169.0 425.7h1.7M150.5 434.2h1.7M155.6 435.3h1.7M163.5 406.2h1.7M153.3 438.1h1.7M160.8 398.5h1.7M162.2 382.0h1.7M166.2 438.2h1.7M176.0 422.6h1.7M168.0 431.9h1.7M158.7 439.9h1.7M163.2 420.8h1.7M160.2 397.7h1.7M149.6 396.5h1.7M148.3 397.8h1.7M175.0 407.6h1.7M162.9 390.1h1.7M138.9 396.5h1.7M171.0 439.0h1.7M157.5 394.8h1.7M153.1 429.8h1.7M164.5 390.5h1.7M163.9 436.1h1.7M154.5 437.3h1.7M167.9 387.9h1.7M160.1 382.2h1.7M164.3 410.8h1.7M154.1 393.3h1.7M170.8 434.3h1.7M146.4 426.1h1.7M163.9 416.3h1.7M154.4 382.3h1.7M172.4 380.8h1.7M170.0 428.9h1.7M166.1 440.8h1.7M153.5 394.5h1.7M156.5 428.3h1.7M149.6 416.2h1.7M160.0 394.4h1.7M153.4 408.2h1.7M167.5 430.9h1.7M147.5 397.6h1.7M160.2 432.6h1.7M157.2 431.2h1.7M163.5 415.2h1.7M156.4 395.0h1.7M164.9 402.2h1.7M147.9 424.5h1.7M159.2 427.6h1.7M173.7 425.0h1.7M163.9 413.0h1.7M162.4 433.2h1.7M177.5 382.1h1.7M155.0 397.4h1.7M169.0 439.4h1.7M151.4 418.3h1.7M155.6 398.9h1.7M169.1 391.5h1.7M153.3 402.5h1.7M162.5 434.4h1.7M164.9 396.6h1.7M171.9 415.9h1.7M179.5 416.5h1.7M158.2 401.2h1.7M177.9 396.8h1.7M154.6 408.2h1.7M160.5 394.0h1.7M163.7 413.0h1.7M157.9 419.3h1.7M167.8 426.2h1.7M173.8 437.8h1.7M169.5 383.5h1.7M162.8 409.9h1.7M146.9 427.6h1.7M167.8 412.0h1.7M155.2 389.8h1.7M155.7 414.0h1.7M149.6 417.1h1.7M171.0 432.1h1.7M158.1 403.9h1.7M145.2 441.3h1.7M147.9 413.7h1.7M156.2 439.1h1.7M169.3 435.6h1.7M145.5 382.9h1.7M160.5 392.6h1.7M169.5 407.9h1.7M160.7 403.3h1.7M161.8 411.2h1.7M162.2 422.3h1.7M171.7 427.5h1.7M165.6 428.0h1.7M157.7 402.7h1.7M162.2 402.8h1.7M169.5 430.0h1.7M160.7 434.9h1.7M166.9 388.4h1.7M154.6 428.4h1.7M164.9 399.1h1.7M175.3 391.6h1.7M154.1 415.9h1.7M147.1 384.3h1.7M160.4 382.9h1.7M161.5 421.1h1.7M149.5 437.3h1.7M166.3 399.6h1.7M143.2 416.1h1.7M156.9 437.6h1.7M165.2 424.8h1.7M161.4 429.4h1.7M141.3 394.5h1.7M163.8 418.8h1.7M154.2 416.1h1.7M156.4 383.2h1.7M155.3 411.7h1.7M156.3 404.7h1.7M163.4 428.0h1.7M164.1 386.5h1.7M164.3 413.2h1.7M158.4 438.5h1.7M151.5 397.6h1.7M163.2 393.1h1.7M156.3 435.1h1.7M164.6 415.1h1.7M142.5 412.8h1.7M167.0 423.1h1.7M163.6 420.6h1.7M162.2 433.9h1.7M152.9 422.1h1.7M162.6 422.8h1.7M155.1 404.0h1.7M145.6 422.4h1.7M154.8 395.1h1.7M159.4 402.7h1.7M179.8 431.0h1.7M155.6 416.3h1.7M160.6 384.0h1.7M167.8 436.7h1.7M156.2 384.8h1.7M165.7 403.4h1.7M159.6 410.1h1.7M151.5 437.0h1.7M142.2 433.7h1.7M155.7 407.9h1.7M162.2 401.0h1.7M170.8 412.1h1.7M170.8 420.4h1.7M160.6 425.0h1.7M170.8 388.9h1.7M168.5 429.3h1.7M171.0 385.5h1.7M152.3 395.5h1.7M165.5 415.6h1.7M157.6 393.3h1.7M178.0 392.0h1.7M177.0 384.1h1.7M168.3 434.6h1.7M167.6 405.1h1.7M154.6 428.6h1.7M163.8 414.1h1.7M148.6 389.1h1.7M163.5 412.5h1.7M160.4 412.4h1.7M150.1 428.9h1.7M156.6 414.0h1.7M154.5 399.1h1.7M168.4 389.6h1.7M163.8 403.9h1.7M172.2 411.5h1.7M178.8 391.7h1.7M163.7 426.2h1.7M153.4 393.0h1.7M178.8 410.8h1.7M147.1 403.5h1.7M145.2 434.1h1.7M155.7 382.3h1.7" stroke="#000" stroke-width="1.7" fill="none"/>
<rect x="64.2" y="315.8" width="166.6" height="127.4" fill="none" stroke="#000" stroke-width="1.7"/>
<path d="M141.9 315.8V443.2M64.2 377.6H230.8" stroke="#000" stroke-width="1.5" fill="none"/>
<path d="M65.7 443.2v6.5M64.2 441.8h-7M78 443.2v3.5M64.2 432.5h-4M85.2 443.2v3.5M64.2 427h-4M90.3 443.2v3.5M64.2 423.1h-4M94.3 443.2v3.5M64.2 420.1h-4M97.5 443.2v3.5M64.2 417.7h-4M100.3 443.2v3.5M64.2 415.6h-4M102.6 443.2v3.5M64.2 413.8h-4M104.7 443.2v3.5M64.2 412.2h-4M106.6 443.2v6.5M64.2 410.8h-7M118.9 443.2v3.5M64.2 401.5h-4M126.1 443.2v3.5M64.2 396h-4M131.2 443.2v3.5M64.2 392.1h-4M135.2 443.2v3.5M64.2 389.1h-4M138.4 443.2v3.5M64.2 386.7h-4M141.2 443.2v3.5M64.2 384.6h-4M143.5 443.2v3.5M64.2 382.8h-4M145.6 443.2v3.5M64.2 381.2h-4M147.5 443.2v6.5M64.2 379.8h-7M159.8 443.2v3.5M64.2 370.5h-4M167 443.2v3.5M64.2 365h-4M172.1 443.2v3.5M64.2 361.1h-4M176.1 443.2v3.5M64.2 358.1h-4M179.3 443.2v3.5M64.2 355.7h-4M182.1 443.2v3.5M64.2 353.6h-4M184.4 443.2v3.5M64.2 351.8h-4M186.5 443.2v3.5M64.2 350.2h-4M188.4 443.2v6.5M64.2 348.8h-7M200.7 443.2v3.5M64.2 339.5h-4M207.9 443.2v3.5M64.2 334h-4M213 443.2v3.5M64.2 330.1h-4M217 443.2v3.5M64.2 327.1h-4M220.2 443.2v3.5M64.2 324.7h-4M223 443.2v3.5M64.2 322.6h-4M225.3 443.2v3.5M64.2 320.8h-4M227.4 443.2v3.5M64.2 319.2h-4M229.3 443.2v6.5M64.2 317.8h-7" stroke="#000" stroke-width="1.5" fill="none"/>
<text x="55.3" y="469.1" font-size="14.2">10<tspan dx="2.6" dy="-7.4">0</tspan></text>
<text x="96.2" y="469.1" font-size="14.2">10<tspan dx="2.6" dy="-7.4">1</tspan></text>
<text x="137.1" y="469.1" font-size="14.2">10<tspan dx="2.6" dy="-7.4">2</tspan></text>
<text x="178" y="469.1" font-size="14.2">10<tspan dx="2.6" dy="-7.4">3</tspan></text>
<text x="218.9" y="469.1" font-size="14.2">10<tspan dx="2.6" dy="-7.4">4</tspan></text>
<text transform="translate(51.2 452.7) rotate(-90) scale(1,1.17)" font-size="14.2">10<tspan dx="2.1" dy="-5.4">0</tspan></text>
<text transform="translate(51.2 421.7) rotate(-90) scale(1,1.17)" font-size="14.2">10<tspan dx="2.1" dy="-5.4">1</tspan></text>
<text transform="translate(51.2 390.7) rotate(-90) scale(1,1.17)" font-size="14.2">10<tspan dx="2.1" dy="-5.4">2</tspan></text>
<text transform="translate(51.2 359.7) rotate(-90) scale(1,1.17)" font-size="14.2">10<tspan dx="2.1" dy="-5.4">3</tspan></text>
<text transform="translate(51.2 328.7) rotate(-90) scale(1,1.17)" font-size="14.2">10<tspan dx="2.1" dy="-5.4">4</tspan></text>
<text class="b" x="98" y="311.4" font-size="22.6" textLength="92.5" lengthAdjust="spacingAndGlyphs">C57BL/6</text>
<text class="b" x="68" y="336.1" font-size="18.3" textLength="58.5" lengthAdjust="spacingAndGlyphs">4 ± 0.6</text>
<text class="b" x="165.1" y="439.4" font-size="18.3" textLength="63.4" lengthAdjust="spacingAndGlyphs">9.1 ± 2</text>
<path d="M354.9 403.2h1.7M365.5 389.1h1.7M365.1 403.9h1.7M360.1 415.7h1.7M362.4 404.7h1.7M364.6 414.3h1.7M386.3 391.1h1.7M371.1 401.0h1.7M370.5 419.0h1.7M377.5 406.5h1.7M367.6 402.8h1.7M365.4 405.1h1.7M369.9 430.6h1.7M359.8 409.7h1.7M391.6 389.5h1.7M367.7 416.7h1.7M375.9 423.9h1.7M345.1 409.3h1.7M368.4 396.1h1.7M383.3 419.2h1.7M374.3 397.0h1.7M374.1 396.2h1.7M357.4 418.6h1.7M378.1 415.5h1.7M362.3 405.3h1.7M382.0 408.0h1.7M351.5 402.8h1.7M381.8 408.4h1.7M389.9 400.1h1.7M358.5 420.9h1.7M353.7 413.3h1.7M368.8 403.6h1.7M364.1 389.0h1.7M421.1 418.5h1.7M361.0 396.2h1.7M342.9 402.4h1.7M346.4 405.6h1.7M393.3 404.1h1.7M356.3 397.7h1.7M344.0 417.0h1.7M379.3 399.1h1.7M374.1 392.7h1.7M363.4 402.0h1.7M357.4 414.4h1.7M397.1 412.2h1.7M369.9 374.9h1.7M359.1 402.7h1.7M364.3 406.4h1.7M352.3 402.4h1.7M365.5 425.4h1.7M351.2 369.8h1.7M352.3 413.0h1.7M376.4 413.4h1.7M365.4 392.1h1.7M372.1 387.7h1.7M371.1 408.3h1.7M385.9 409.8h1.7M367.8 414.6h1.7M371.0 400.7h1.7M347.4 406.2h1.7M374.0 436.3h1.7M383.4 391.0h1.7M372.9 413.0h1.7M368.2 412.6h1.7M392.7 414.7h1.7M368.3 399.8h1.7M384.5 398.1h1.7M377.4 395.6h1.7M370.9 396.5h1.7M376.7 417.0h1.7M363.8 390.6h1.7M373.6 392.7h1.7M382.1 397.8h1.7M380.7 385.8h1.7M369.9 406.5h1.7M347.9 416.2h1.7M347.6 408.5h1.7M369.6 431.7h1.7M362.3 410.0h1.7M376.8 406.9h1.7M373.8 408.8h1.7M386.7 403.2h1.7M375.7 393.3h1.7M401.1 402.3h1.7M360.8 393.7h1.7M378.4 399.8h1.7M361.7 427.4h1.7M343.7 407.2h1.7M348.9 412.1h1.7M379.0 410.9h1.7M394.2 393.4h1.7M352.7 395.8h1.7M397.4 399.1h1.7M359.0 412.8h1.7M355.2 409.7h1.7M381.1 394.3h1.7M374.1 379.6h1.7M356.5 410.5h1.7M339.9 412.3h1.7M393.3 393.6h1.7M353.5 394.7h1.7M382.3 402.4h1.7M354.9 393.1h1.7M365.9 388.3h1.7M378.8 375.7h1.7M369.3 393.1h1.7M362.4 415.0h1.7M387.8 392.2h1.7M376.5 396.3h1.7M364.1 406.3h1.7M361.8 399.5h1.7M360.3 413.3h1.7M377.0 417.0h1.7M359.3 383.1h1.7M352.1 403.0h1.7M357.5 408.2h1.7M374.7 423.4h1.7M372.4 391.9h1.7M361.4 413.2h1.7M381.4 389.3h1.7M389.5 407.9h1.7M387.8 402.7h1.7M380.1 404.9h1.7M402.7 390.9h1.7M376.7 397.1h1.7M370.0 401.5h1.7M371.1 409.4h1.7M392.2 400.3h1.7M378.2 426.5h1.7M391.5 418.4h1.7M399.7 380.7h1.7M353.1 402.8h1.7M373.3 391.3h1.7M374.7 415.3h1.7M348.7 386.6h1.7M351.5 400.9h1.7M384.3 402.8h1.7M366.5 401.0h1.7M373.9 410.3h1.7M373.9 395.9h1.7M388.8 385.6h1.7M377.3 390.5h1.7M371.5 386.9h1.7M350.7 413.5h1.7M372.0 411.2h1.7M348.7 386.1h1.7M367.2 406.4h1.7M359.2 402.3h1.7M365.5 398.7h1.7M360.2 421.2h1.7M354.9 405.6h1.7M352.1 399.5h1.7M354.6 409.1h1.7M348.9 400.0h1.7M352.5 422.3h1.7M382.7 399.2h1.7M374.2 412.2h1.7M371.0 416.7h1.7M367.1 401.8h1.7M359.6 409.2h1.7M359.6 406.3h1.7M379.2 399.3h1.7M384.2 405.5h1.7M354.1 390.2h1.7M358.5 405.3h1.7M390.9 416.1h1.7M395.1 379.9h1.7M380.5 403.7h1.7M372.9 397.9h1.7M380.4 404.3h1.7M355.7 421.1h1.7M382.2 425.8h1.7M391.7 407.9h1.7M388.3 394.4h1.7M366.1 404.4h1.7M369.1 404.5h1.7M381.7 393.9h1.7M362.0 411.5h1.7M353.4 422.9h1.7M366.9 410.0h1.7M359.3 395.7h1.7M348.3 400.7h1.7M382.0 399.6h1.7M387.5 426.4h1.7M351.2 377.5h1.7M368.5 391.4h1.7M353.1 407.3h1.7M357.5 393.2h1.7M372.7 405.5h1.7M364.0 390.6h1.7M370.3 414.9h1.7M396.6 387.9h1.7M346.1 404.9h1.7M347.1 415.8h1.7M361.0 401.1h1.7M361.1 415.7h1.7M375.6 417.9h1.7M368.7 372.8h1.7M363.8 413.6h1.7M376.8 405.1h1.7M378.6 412.9h1.7M361.1 377.1h1.7M376.7 366.2h1.7M365.9 392.6h1.7M369.0 391.4h1.7M371.5 385.7h1.7M370.1 415.4h1.7M391.0 399.1h1.7M396.0 419.5h1.7M360.0 374.0h1.7M358.5 382.2h1.7M364.4 406.6h1.7M355.8 396.7h1.7M364.0 430.2h1.7M362.2 386.4h1.7M361.4 385.0h1.7M354.0 393.2h1.7M343.9 387.6h1.7M371.4 415.1h1.7M360.7 395.5h1.7M356.1 390.4h1.7M405.1 398.3h1.7M382.7 413.2h1.7M347.6 401.1h1.7M354.6 401.5h1.7M350.7 404.4h1.7M372.2 393.4h1.7M373.6 398.8h1.7M408.0 389.3h1.7M386.3 385.4h1.7M370.0 395.1h1.7M355.5 420.7h1.7M388.7 412.8h1.7M385.5 408.2h1.7M393.4 396.5h1.7M378.5 407.9h1.7M363.1 410.9h1.7M365.1 396.8h1.7M390.8 394.0h1.7M357.3 387.3h1.7M377.8 413.7h1.7M370.4 381.5h1.7M368.1 410.8h1.7M373.5 424.6h1.7M377.7 390.5h1.7M382.1 382.2h1.7M372.4 413.2h1.7M372.6 376.4h1.7M366.3 417.5h1.7M372.4 409.2h1.7M363.6 385.6h1.7M369.1 417.4h1.7M375.2 403.2h1.7M383.4 375.3h1.7M366.0 401.5h1.7M358.2 399.6h1.7M383.5 427.6h1.7M394.6 391.0h1.7M375.5 407.9h1.7M386.5 397.8h1.7M367.1 390.6h1.7M365.6 379.7h1.7M367.5 391.1h1.7M375.0 410.3h1.7M383.4 399.9h1.7M353.3 422.2h1.7M369.1 408.1h1.7M358.7 387.2h1.7M349.7 395.4h1.7M388.9 393.8h1.7M373.5 387.9h1.7M348.5 411.5h1.7M364.6 406.3h1.7M346.8 404.7h1.7M345.0 420.9h1.7M370.3 409.7h1.7M363.8 397.8h1.7M383.1 395.5h1.7M349.7 404.2h1.7M356.9 417.2h1.7M356.8 406.0h1.7M371.8 385.8h1.7M368.3 417.6h1.7M399.0 400.7h1.7M346.5 400.1h1.7M386.8 395.4h1.7M374.1 406.1h1.7M373.7 417.8h1.7M363.5 399.8h1.7M354.0 394.6h1.7M355.8 402.5h1.7M368.3 404.4h1.7M354.3 417.7h1.7M380.3 395.8h1.7M351.1 393.5h1.7M381.3 391.3h1.7M377.1 413.0h1.7M349.0 397.8h1.7M374.3 407.6h1.7M375.8 418.2h1.7M370.1 408.2h1.7M367.4 403.6h1.7M377.7 392.7h1.7M371.7 420.1h1.7M359.1 424.5h1.7M378.5 411.9h1.7M381.2 408.6h1.7M380.2 403.7h1.7M349.7 412.1h1.7M339.7 396.4h1.7M347.1 394.2h1.7M353.1 401.5h1.7M389.0 397.6h1.7M371.8 410.0h1.7M359.1 406.3h1.7M371.9 409.1h1.7M385.8 415.7h1.7M368.3 390.9h1.7M340.3 423.1h1.7M386.3 384.1h1.7M378.4 404.8h1.7M342.0 404.2h1.7M377.6 395.8h1.7M370.8 410.0h1.7M366.0 414.3h1.7M383.5 383.3h1.7M387.7 399.4h1.7M346.6 401.8h1.7M396.7 418.1h1.7M349.0 390.8h1.7M372.4 406.0h1.7M363.6 399.1h1.7M390.2 386.6h1.7M378.5 402.9h1.7M374.2 405.3h1.7M348.1 429.7h1.7M363.2 388.9h1.7M355.3 374.1h1.7M377.3 385.4h1.7M377.6 406.7h1.7M357.1 398.5h1.7M361.8 392.2h1.7M350.2 403.9h1.7M359.0 408.4h1.7M375.2 386.9h1.7M358.6 425.1h1.7M370.7 404.7h1.7M375.4 384.7h1.7M349.1 397.1h1.7M378.8 406.8h1.7M345.0 404.4h1.7M379.7 397.1h1.7M380.7 402.0h1.7M391.9 421.2h1.7M362.5 404.6h1.7M374.1 398.7h1.7M360.3 423.4h1.7M353.7 417.3h1.7M401.0 405.6h1.7M400.8 398.6h1.7M375.2 430.6h1.7M360.5 389.2h1.7M366.6 406.9h1.7M377.7 399.7h1.7M375.6 363.9h1.7M375.9 412.6h1.7M347.0 409.0h1.7M384.2 404.8h1.7M375.8 393.3h1.7M374.5 393.4h1.7M364.3 433.8h1.7M374.8 421.6h1.7M353.4 415.9h1.7M380.3 412.9h1.7M359.4 418.4h1.7M352.0 397.4h1.7M372.1 387.4h1.7M369.5 391.2h1.7M356.8 387.1h1.7M386.9 427.8h1.7M372.6 407.3h1.7M361.1 388.3h1.7M371.4 399.5h1.7M367.1 381.6h1.7M375.5 387.4h1.7M404.1 405.6h1.7M341.7 399.9h1.7M379.9 401.0h1.7M358.8 415.3h1.7M366.3 414.2h1.7M365.3 418.4h1.7M377.7 410.3h1.7M371.9 419.3h1.7M380.3 409.1h1.7M357.1 381.1h1.7M361.4 382.2h1.7M371.4 376.9h1.7M357.9 406.3h1.7M362.2 387.3h1.7M383.3 366.8h1.7M355.1 393.2h1.7M376.1 412.4h1.7M367.7 396.2h1.7M380.7 414.2h1.7M351.1 399.5h1.7M401.3 392.2h1.7M368.4 396.4h1.7M387.9 380.5h1.7M374.1 410.9h1.7M366.3 392.4h1.7M387.1 413.4h1.7M344.6 414.4h1.7M366.7 385.7h1.7M380.8 367.5h1.7M373.0 408.1h1.7M359.6 416.4h1.7M349.2 399.3h1.7M354.7 405.6h1.7M367.3 424.4h1.7M394.9 376.4h1.7M355.5 425.3h1.7M370.1 383.6h1.7M376.2 424.9h1.7M375.8 399.4h1.7M369.8 422.2h1.7M357.1 404.4h1.7M363.5 420.9h1.7M352.4 397.2h1.7M356.8 423.0h1.7M378.0 422.2h1.7M370.6 385.1h1.7M362.1 405.2h1.7M387.6 397.0h1.7M359.6 394.8h1.7M369.2 405.2h1.7M374.2 415.2h1.7M349.1 397.2h1.7M368.8 408.0h1.7M379.7 377.9h1.7M362.0 392.5h1.7M358.3 388.0h1.7M366.3 409.5h1.7M365.0 396.3h1.7M366.2 398.9h1.7M357.8 405.5h1.7M388.4 396.3h1.7M369.9 387.8h1.7M369.4 394.0h1.7M383.2 406.9h1.7M366.2 398.1h1.7M371.1 413.5h1.7M360.9 405.7h1.7M359.8 404.1h1.7M385.4 395.4h1.7M352.2 397.5h1.7M366.8 397.8h1.7M376.3 395.1h1.7M369.2 414.7h1.7M367.6 399.0h1.7M395.1 399.6h1.7M364.8 399.6h1.7M376.4 393.5h1.7M381.0 387.6h1.7M370.3 405.4h1.7M381.2 391.6h1.7M367.0 388.7h1.7M355.3 400.6h1.7M390.8 398.4h1.7M373.3 421.9h1.7M396.8 406.4h1.7M367.7 410.3h1.7M393.5 388.7h1.7M364.5 378.8h1.7M374.2 398.9h1.7M361.8 409.0h1.7M388.2 417.4h1.7M366.5 392.7h1.7M358.6 409.3h1.7M385.0 388.6h1.7M387.3 410.8h1.7M361.5 384.6h1.7M384.2 397.9h1.7M362.5 407.0h1.7M381.3 391.6h1.7M363.7 408.0h1.7M342.0 407.0h1.7M350.4 389.9h1.7M372.4 411.0h1.7M411.1 395.1h1.7M358.4 373.7h1.7M372.7 400.1h1.7M364.3 416.1h1.7M408.5 399.9h1.7M370.0 396.4h1.7M371.5 400.1h1.7M361.6 406.7h1.7M357.7 398.4h1.7M371.8 407.0h1.7M373.3 405.5h1.7M357.6 405.0h1.7M359.1 402.8h1.7M396.8 373.3h1.7M367.2 378.1h1.7M393.6 404.5h1.7M375.7 396.1h1.7M366.4 395.1h1.7M359.1 405.6h1.7M374.7 417.0h1.7M372.5 397.7h1.7M364.5 403.7h1.7M377.5 390.5h1.7M365.1 404.8h1.7M378.0 398.1h1.7M346.1 409.0h1.7M365.5 394.7h1.7M374.4 403.3h1.7M360.8 391.3h1.7M380.1 411.2h1.7M409.4 413.8h1.7M376.4 385.2h1.7M364.1 408.7h1.7M367.7 377.8h1.7M349.3 419.5h1.7M373.1 400.1h1.7M365.0 405.7h1.7M353.2 384.2h1.7M369.5 375.9h1.7M345.4 401.2h1.7M363.0 388.9h1.7M358.3 418.3h1.7M369.9 399.8h1.7M379.7 407.4h1.7M371.0 411.4h1.7M392.6 399.7h1.7M360.7 403.7h1.7M368.2 398.8h1.7M385.5 406.9h1.7M377.8 384.1h1.7M363.4 409.0h1.7M375.1 405.5h1.7M361.8 402.4h1.7M365.4 399.2h1.7M358.1 389.4h1.7M342.4 400.3h1.7M379.3 400.2h1.7M343.0 411.0h1.7M362.2 415.0h1.7M370.4 416.5h1.7M370.7 397.0h1.7M360.1 402.7h1.7M352.3 401.0h1.7M356.0 400.4h1.7M340.8 377.8h1.7M378.3 413.1h1.7M340.7 373.7h1.7M391.1 418.7h1.7M404.1 389.0h1.7M390.9 404.1h1.7M379.0 399.7h1.7M372.3 433.4h1.7M369.1 396.8h1.7M344.8 401.8h1.7M357.7 381.6h1.7M374.0 422.5h1.7M355.0 396.3h1.7M357.9 412.4h1.7M376.3 407.6h1.7M369.7 417.0h1.7M376.0 402.3h1.7M358.2 394.6h1.7M408.8 429.9h1.7M363.4 393.3h1.7M386.5 411.6h1.7M363.1 409.8h1.7M375.2 385.9h1.7M366.1 410.0h1.7M377.7 409.6h1.7M355.7 400.9h1.7M365.6 380.2h1.7M372.6 409.0h1.7M390.6 404.5h1.7M376.2 394.0h1.7M382.2 408.9h1.7M361.8 410.5h1.7M355.3 419.4h1.7M367.3 391.1h1.7M369.8 401.4h1.7M362.2 425.2h1.7M359.3 417.1h1.7M377.1 424.1h1.7M357.5 412.1h1.7M383.0 405.4h1.7M357.2 420.8h1.7M373.5 428.4h1.7M373.2 365.5h1.7M351.2 412.3h1.7M366.9 410.4h1.7M364.2 389.6h1.7M379.7 405.6h1.7M367.5 411.9h1.7M390.9 413.7h1.7M364.7 400.5h1.7M350.5 390.7h1.7M387.1 387.7h1.7M382.8 406.0h1.7M342.6 424.4h1.7M372.0 399.3h1.7M376.1 409.8h1.7M370.0 397.4h1.7M362.7 408.5h1.7M367.9 404.3h1.7M390.6 403.1h1.7M366.2 405.5h1.7M363.3 390.0h1.7M351.8 407.0h1.7M378.3 413.0h1.7M380.5 402.0h1.7M373.2 396.9h1.7M377.5 390.9h1.7M375.0 422.0h1.7M375.6 413.4h1.7M378.6 418.5h1.7M354.4 423.3h1.7M347.2 408.4h1.7M369.8 384.5h1.7M365.1 408.2h1.7M354.4 394.1h1.7M366.9 408.8h1.7M349.6 399.8h1.7M393.7 413.8h1.7M377.8 421.9h1.7M350.4 429.2h1.7M374.8 386.6h1.7M382.3 398.4h1.7M369.8 401.4h1.7M361.3 379.6h1.7M369.7 418.3h1.7M366.3 408.6h1.7M372.8 418.8h1.7M365.1 418.9h1.7M405.0 403.2h1.7M342.7 384.7h1.7M365.5 398.8h1.7M374.2 416.0h1.7M366.4 431.2h1.7M374.8 411.4h1.7M359.4 389.9h1.7M355.2 384.8h1.7M361.4 407.1h1.7M355.1 406.1h1.7M363.4 400.8h1.7M370.4 387.3h1.7M368.2 405.1h1.7M365.4 421.9h1.7M377.3 407.8h1.7M371.5 395.9h1.7M366.6 392.9h1.7M372.7 406.2h1.7M363.5 425.4h1.7M388.0 423.7h1.7M385.1 409.3h1.7M359.6 418.5h1.7M385.6 411.9h1.7M340.0 421.2h1.7M361.2 391.9h1.7M358.9 392.6h1.7M393.8 411.2h1.7M365.5 388.4h1.7M365.4 420.1h1.7M375.5 422.6h1.7M351.0 404.8h1.7M370.2 403.5h1.7M382.6 379.5h1.7M365.0 390.8h1.7M367.2 392.9h1.7M359.1 387.3h1.7M370.7 405.4h1.7M350.7 373.8h1.7M380.3 403.0h1.7M377.3 406.4h1.7M370.9 405.8h1.7M355.9 393.9h1.7M357.9 388.1h1.7M380.0 396.0h1.7M361.1 404.3h1.7M375.6 366.7h1.7M376.1 407.2h1.7M363.7 395.7h1.7M342.7 374.0h1.7M371.4 412.5h1.7M362.3 391.2h1.7M351.8 414.1h1.7M387.1 404.7h1.7M374.9 411.1h1.7M360.7 416.9h1.7M363.6 403.2h1.7M362.0 392.8h1.7M359.2 411.2h1.7M371.9 385.2h1.7M360.7 381.0h1.7M364.5 390.6h1.7M367.4 415.3h1.7M355.0 395.5h1.7M354.8 387.2h1.7M366.8 413.0h1.7M370.4 405.1h1.7M362.7 411.1h1.7M363.6 402.2h1.7M388.4 394.7h1.7M392.9 406.0h1.7M363.2 405.8h1.7M370.7 381.4h1.7M359.7 398.9h1.7M382.2 401.1h1.7M362.8 406.5h1.7M370.4 383.8h1.7M364.0 407.6h1.7M361.2 404.2h1.7M369.1 423.7h1.7M366.6 415.6h1.7M368.8 384.7h1.7M368.1 405.2h1.7M362.0 401.9h1.7M370.6 398.2h1.7M355.4 391.9h1.7M358.7 420.9h1.7M351.2 393.6h1.7M345.5 422.7h1.7M356.0 398.5h1.7M349.7 398.1h1.7M340.0 395.4h1.7M368.0 393.9h1.7M363.8 413.0h1.7M388.3 417.3h1.7M357.1 395.8h1.7M363.6 423.9h1.7M354.7 391.7h1.7M384.3 420.5h1.7M364.9 412.4h1.7M371.8 399.9h1.7M348.4 385.3h1.7M356.4 383.1h1.7M352.9 418.1h1.7M374.0 386.4h1.7M362.0 405.8h1.7M369.5 401.2h1.7M340.0 397.7h1.7M342.4 406.7h1.7M371.3 398.5h1.7M382.2 394.0h1.7M358.8 405.5h1.7M374.6 391.8h1.7M377.0 401.5h1.7M368.5 414.1h1.7M359.1 401.7h1.7M362.8 398.9h1.7M364.0 411.9h1.7M358.8 407.1h1.7M360.2 397.1h1.7M367.7 405.1h1.7M370.1 404.7h1.7M365.6 403.7h1.7M365.9 394.6h1.7M354.0 410.1h1.7M373.1 404.5h1.7M360.3 399.7h1.7M363.5 405.6h1.7M370.0 399.4h1.7M362.8 406.4h1.7M363.0 389.3h1.7M360.8 392.6h1.7M363.7 398.7h1.7M369.3 399.2h1.7M371.7 401.4h1.7M367.6 410.8h1.7M372.4 408.1h1.7M369.5 397.5h1.7M361.1 401.3h1.7M368.9 408.8h1.7M378.2 401.3h1.7M366.9 412.9h1.7M371.7 399.9h1.7M376.4 390.3h1.7M370.5 412.1h1.7M365.2 403.9h1.7M377.9 403.2h1.7M363.3 399.1h1.7M360.0 406.0h1.7M367.0 415.8h1.7M360.2 409.2h1.7M361.6 401.0h1.7M352.5 408.7h1.7M369.9 400.5h1.7M362.5 417.6h1.7M363.8 397.3h1.7M363.4 413.8h1.7M378.9 404.5h1.7M371.3 397.7h1.7M361.2 412.1h1.7M371.0 397.6h1.7M362.1 389.1h1.7M364.6 411.3h1.7M365.1 414.3h1.7M378.1 413.2h1.7M376.0 410.6h1.7M365.0 411.4h1.7M365.8 401.3h1.7M363.4 400.8h1.7M368.6 398.8h1.7M372.4 409.9h1.7M363.6 414.5h1.7M358.0 399.1h1.7M369.2 395.0h1.7M368.1 401.8h1.7M367.1 390.4h1.7M368.8 410.2h1.7M365.4 399.6h1.7M369.6 408.6h1.7M364.7 414.3h1.7M359.7 399.3h1.7M382.4 413.6h1.7M381.1 408.5h1.7M362.3 396.3h1.7M366.0 408.4h1.7M378.8 401.5h1.7M368.2 422.3h1.7M368.1 413.3h1.7M372.9 402.0h1.7M366.9 397.0h1.7M356.7 403.8h1.7M370.0 404.1h1.7M369.5 402.7h1.7M372.2 417.5h1.7M356.3 405.4h1.7M384.3 410.5h1.7M359.2 412.3h1.7M381.8 403.8h1.7M372.8 398.8h1.7M365.1 399.6h1.7M375.8 410.8h1.7M370.0 391.8h1.7M371.5 403.9h1.7M370.6 395.9h1.7M370.2 395.3h1.7M369.6 403.1h1.7M368.6 408.8h1.7M368.6 413.8h1.7M380.2 405.9h1.7M362.9 407.1h1.7M366.7 415.4h1.7M372.9 406.7h1.7M369.1 400.6h1.7M364.7 407.0h1.7M374.2 407.9h1.7M360.7 410.3h1.7M367.0 406.4h1.7M356.7 390.4h1.7M365.6 401.6h1.7M367.0 406.6h1.7M377.8 400.2h1.7M368.3 401.2h1.7M383.2 404.5h1.7M368.2 401.8h1.7M367.1 406.7h1.7M378.3 408.7h1.7M369.3 408.6h1.7M369.8 416.0h1.7M361.2 401.4h1.7M367.7 405.6h1.7M362.8 400.4h1.7M375.2 410.0h1.7M362.6 406.2h1.7M363.2 398.3h1.7M369.8 410.4h1.7M382.5 397.7h1.7M379.7 400.5h1.7M374.4 401.5h1.7M362.8 395.6h1.7M366.7 402.4h1.7M359.5 403.4h1.7M374.8 405.5h1.7M356.0 414.1h1.7M364.8 405.9h1.7M357.3 403.2h1.7M364.6 405.6h1.7M377.7 405.7h1.7M355.4 399.8h1.7M378.1 395.3h1.7M366.3 415.3h1.7M374.7 406.4h1.7M367.0 406.7h1.7M369.4 408.0h1.7M363.7 405.8h1.7M374.6 418.8h1.7M365.6 398.2h1.7M364.9 408.9h1.7M380.1 399.4h1.7M370.3 399.3h1.7M380.2 402.6h1.7M379.3 401.7h1.7M365.5 400.1h1.7M367.1 401.0h1.7M373.7 400.5h1.7M369.1 409.0h1.7M366.6 406.0h1.7M361.1 397.8h1.7M356.3 419.1h1.7M374.0 406.4h1.7M375.3 408.7h1.7M380.2 410.3h1.7M366.3 409.6h1.7M379.0 409.0h1.7M365.8 402.3h1.7M364.9 405.9h1.7M376.2 407.2h1.7M362.7 407.3h1.7M368.1 403.4h1.7M370.4 391.8h1.7M376.9 392.5h1.7M359.6 405.0h1.7M377.8 403.1h1.7M370.8 407.6h1.7M364.1 402.2h1.7M378.4 396.0h1.7M375.3 406.7h1.7M356.2 397.3h1.7M368.3 398.2h1.7M377.6 393.3h1.7M368.7 400.0h1.7M369.7 402.6h1.7M351.2 401.0h1.7M363.3 401.9h1.7M362.6 412.3h1.7M376.9 402.3h1.7M361.6 402.1h1.7M369.0 400.9h1.7M367.6 392.1h1.7M375.3 403.8h1.7M371.2 395.1h1.7M367.0 409.8h1.7M357.5 398.3h1.7M369.8 409.3h1.7M370.5 410.3h1.7M367.9 397.8h1.7M354.6 408.0h1.7M370.2 410.1h1.7M378.3 401.2h1.7M374.3 408.2h1.7M368.3 404.3h1.7M370.6 405.8h1.7M349.4 394.9h1.7M363.6 403.3h1.7M369.5 397.3h1.7M368.6 392.8h1.7M367.9 398.8h1.7M373.7 407.2h1.7M380.6 394.9h1.7M363.4 406.1h1.7M365.5 397.9h1.7M362.3 401.5h1.7M369.5 407.1h1.7M369.3 405.1h1.7M376.2 394.5h1.7M377.9 410.5h1.7M367.9 411.5h1.7M384.9 403.2h1.7M363.5 390.9h1.7M369.8 403.8h1.7M368.9 407.5h1.7M359.5 386.7h1.7M384.4 398.4h1.7M368.9 409.7h1.7M346.3 412.3h1.7M342.4 406.5h1.7M348.1 401.6h1.7M355.8 397.2h1.7M358.4 403.6h1.7M357.6 402.7h1.7M351.9 402.7h1.7M343.7 415.4h1.7M360.3 412.2h1.7M348.0 405.2h1.7M362.8 425.4h1.7M346.5 409.0h1.7M363.0 412.4h1.7M354.6 411.7h1.7M341.0 403.9h1.7M351.9 410.5h1.7M347.7 432.2h1.7M353.5 405.2h1.7M353.3 417.8h1.7M350.0 416.2h1.7M350.0 391.9h1.7M353.9 387.5h1.7M345.6 403.1h1.7M352.4 395.6h1.7M344.6 395.3h1.7M353.0 409.8h1.7M339.8 406.9h1.7M348.2 420.2h1.7M358.5 385.5h1.7M354.2 395.6h1.7M349.4 404.3h1.7M353.7 430.8h1.7M353.2 416.7h1.7M343.5 402.9h1.7M349.8 391.9h1.7M357.7 409.9h1.7M347.0 388.8h1.7M355.1 411.3h1.7M345.8 383.0h1.7M341.8 401.6h1.7M363.1 409.2h1.7M345.6 411.3h1.7M354.7 410.1h1.7M344.3 422.5h1.7M349.2 400.9h1.7M357.4 408.2h1.7M360.8 401.0h1.7M363.7 404.1h1.7M350.7 403.5h1.7M339.1 398.1h1.7M357.6 418.9h1.7M345.9 421.4h1.7M358.3 404.3h1.7M344.9 408.2h1.7M364.6 404.0h1.7M361.7 397.3h1.7M340.5 396.3h1.7M348.3 413.8h1.7M356.0 411.4h1.7M356.0 412.6h1.7M357.4 429.1h1.7M354.2 414.9h1.7M346.1 377.1h1.7M345.6 390.8h1.7M358.8 378.7h1.7M347.1 402.8h1.7M354.5 385.5h1.7M346.6 420.0h1.7M355.8 394.6h1.7M369.4 399.2h1.7M352.5 404.4h1.7M340.2 406.5h1.7M352.0 395.8h1.7M344.7 419.7h1.7M348.7 410.0h1.7M354.4 402.9h1.7M354.6 401.2h1.7M353.5 409.2h1.7M358.1 427.9h1.7M360.4 407.2h1.7M374.5 405.1h1.7M364.7 411.7h1.7M348.9 388.5h1.7M347.8 406.5h1.7M350.7 417.4h1.7M347.5 405.0h1.7M351.6 394.8h1.7M355.8 410.5h1.7M351.2 406.3h1.7M358.9 397.8h1.7M343.6 422.3h1.7M354.8 404.9h1.7M352.0 409.8h1.7M340.6 410.0h1.7M357.9 431.8h1.7M360.1 405.1h1.7M349.6 392.4h1.7M343.7 409.2h1.7M349.6 407.6h1.7M357.5 402.8h1.7M358.7 417.5h1.7M346.3 408.5h1.7M355.0 405.0h1.7M345.0 414.2h1.7M350.1 410.0h1.7M368.5 404.8h1.7M354.3 399.2h1.7M359.0 414.0h1.7M350.7 406.7h1.7M352.6 392.3h1.7M338.8 398.7h1.7M350.3 410.1h1.7M353.8 399.6h1.7M361.9 409.5h1.7M352.0 409.6h1.7M359.5 431.0h1.7M355.3 405.6h1.7M353.4 419.2h1.7M344.3 411.2h1.7M354.5 417.6h1.7M354.4 413.2h1.7M356.4 400.5h1.7M346.7 419.0h1.7M350.7 414.1h1.7M358.3 398.2h1.7M350.9 406.5h1.7M351.5 415.3h1.7M352.0 406.1h1.7M348.7 421.9h1.7M357.7 410.9h1.7M352.5 406.9h1.7M356.3 365.3h1.7M351.8 412.7h1.7M351.3 398.5h1.7M347.8 386.1h1.7M348.0 413.5h1.7M370.8 403.7h1.7M359.8 393.7h1.7M357.8 423.0h1.7M371.3 420.7h1.7M349.0 418.6h1.7M351.9 412.9h1.7M354.3 404.7h1.7M347.4 390.8h1.7M353.9 403.3h1.7M353.8 386.4h1.7M364.8 426.5h1.7M343.4 415.5h1.7M349.3 394.2h1.7M339.1 405.4h1.7M348.7 393.1h1.7M342.3 409.5h1.7M350.7 398.7h1.7M350.5 401.4h1.7M362.8 404.4h1.7M357.3 399.1h1.7M348.2 423.7h1.7M354.3 389.0h1.7M341.2 403.0h1.7M350.1 406.0h1.7M376.5 380.7h1.7M391.9 387.8h1.7M352.9 367.2h1.7M392.1 373.8h1.7M427.8 388.1h1.7M398.7 388.3h1.7M393.0 385.3h1.7M381.6 393.8h1.7M365.0 375.1h1.7M373.0 355.1h1.7M381.5 387.2h1.7M386.3 387.5h1.7M347.4 395.8h1.7M405.4 399.6h1.7M394.3 369.9h1.7M376.0 390.3h1.7M368.6 394.5h1.7M350.4 389.7h1.7M370.7 398.5h1.7M409.6 403.1h1.7M401.5 399.2h1.7M386.9 402.0h1.7M395.0 355.3h1.7M390.7 391.6h1.7M403.6 373.3h1.7M366.1 408.7h1.7M383.0 379.1h1.7M362.1 389.1h1.7M395.9 374.4h1.7M374.2 413.4h1.7M360.2 404.7h1.7M385.8 386.4h1.7M381.5 393.6h1.7M392.1 378.9h1.7M387.7 367.6h1.7M393.8 389.0h1.7M377.1 389.4h1.7M365.6 391.8h1.7M400.1 383.8h1.7M402.0 358.2h1.7M384.6 403.0h1.7M385.1 369.9h1.7M404.2 367.2h1.7M391.8 366.0h1.7M370.8 403.2h1.7M388.0 392.1h1.7M351.6 411.2h1.7M362.5 413.9h1.7M350.6 407.5h1.7M352.8 383.1h1.7M394.8 385.3h1.7M383.0 389.7h1.7M406.0 367.4h1.7M378.1 379.5h1.7M398.8 395.3h1.7M412.8 362.8h1.7M392.9 409.3h1.7M407.8 363.9h1.7M404.2 394.7h1.7M360.3 368.1h1.7M372.6 380.9h1.7M431.7 394.7h1.7M392.1 380.8h1.7M392.0 392.3h1.7M369.2 384.6h1.7M377.6 396.6h1.7M342.2 428.4h1.7M368.4 390.5h1.7M396.8 373.8h1.7M403.2 401.4h1.7M379.4 408.4h1.7M378.9 389.0h1.7M378.3 380.9h1.7M382.5 400.6h1.7M383.7 393.9h1.7M409.1 386.0h1.7M368.7 385.1h1.7M355.5 414.4h1.7M376.0 402.6h1.7M378.6 398.9h1.7M365.8 387.3h1.7M352.0 411.7h1.7M425.5 378.3h1.7M352.2 426.0h1.7M415.2 395.8h1.7M383.0 371.7h1.7M372.8 381.3h1.7M386.9 404.5h1.7M388.3 369.8h1.7M379.6 389.0h1.7M403.9 393.7h1.7M381.1 389.6h1.7M370.1 399.6h1.7M415.8 397.6h1.7M392.4 387.3h1.7M377.0 395.6h1.7M396.2 384.0h1.7M360.7 421.1h1.7M378.6 379.0h1.7M364.8 385.4h1.7M377.1 381.1h1.7M390.8 374.2h1.7M393.0 364.2h1.7M373.5 408.1h1.7M431.2 353.8h1.7M376.0 376.5h1.7M397.4 393.6h1.7M361.1 392.7h1.7M367.2 367.1h1.7M398.6 377.8h1.7M410.0 396.9h1.7M391.0 367.0h1.7M384.8 384.6h1.7M370.8 405.8h1.7M345.1 421.2h1.7M369.1 394.4h1.7M352.5 388.0h1.7M356.3 382.4h1.7M386.8 379.4h1.7M375.6 397.6h1.7M365.1 395.7h1.7M388.7 401.7h1.7M389.8 403.0h1.7M405.7 368.4h1.7M375.7 392.7h1.7M378.2 422.1h1.7M381.5 385.9h1.7M365.8 364.9h1.7M356.5 422.3h1.7M382.4 359.5h1.7M383.6 415.5h1.7M345.7 406.2h1.7M402.3 363.2h1.7M380.2 393.7h1.7M374.7 383.7h1.7M389.6 378.2h1.7M362.8 399.0h1.7M368.6 405.6h1.7M378.4 405.2h1.7M397.3 382.5h1.7M382.9 382.1h1.7M396.1 390.5h1.7M353.1 384.0h1.7M384.2 405.9h1.7M405.6 369.1h1.7M377.6 398.5h1.7M382.1 416.0h1.7M341.1 375.0h1.7M386.6 356.9h1.7M391.1 386.7h1.7M409.5 372.4h1.7M385.1 406.2h1.7M395.0 364.1h1.7M376.8 377.1h1.7M383.4 408.3h1.7M397.2 381.8h1.7M397.5 384.1h1.7M351.5 389.3h1.7M371.0 395.1h1.7M374.8 406.7h1.7M356.0 379.9h1.7M367.5 388.4h1.7M382.5 401.3h1.7M371.7 387.4h1.7M340.7 390.6h1.7M362.3 413.3h1.7M376.5 388.2h1.7M431.2 411.1h1.7M371.1 374.9h1.7M386.0 413.2h1.7M398.8 401.5h1.7M379.6 377.1h1.7M361.0 400.4h1.7M371.0 402.0h1.7M352.8 407.0h1.7M382.2 432.9h1.7M402.2 386.8h1.7M383.9 391.4h1.7M398.8 393.5h1.7M414.0 385.1h1.7M415.8 376.8h1.7M349.2 383.2h1.7M382.7 414.5h1.7M404.6 398.1h1.7M359.4 393.7h1.7M378.8 386.5h1.7M386.7 403.9h1.7M409.4 395.3h1.7M373.5 390.0h1.7M380.1 384.9h1.7M377.0 384.1h1.7M385.4 389.0h1.7M379.8 394.6h1.7M371.8 404.2h1.7M419.1 356.7h1.7M409.1 413.4h1.7M419.9 354.6h1.7M361.8 378.4h1.7M366.8 432.6h1.7M389.1 378.9h1.7M429.1 414.1h1.7M385.9 425.6h1.7M406.3 364.3h1.7M353.5 399.6h1.7M399.3 429.5h1.7M376.2 427.0h1.7M429.0 424.3h1.7M376.5 399.2h1.7M391.3 395.7h1.7M378.0 399.6h1.7M368.1 386.6h1.7M428.5 392.5h1.7M368.5 428.4h1.7M349.3 405.1h1.7M404.5 384.3h1.7M375.7 401.4h1.7M387.9 378.6h1.7M410.7 437.1h1.7M364.4 377.9h1.7M393.7 377.0h1.7M361.3 379.6h1.7M419.3 397.4h1.7M422.7 393.7h1.7M384.5 411.4h1.7M356.2 420.5h1.7M370.9 375.1h1.7M377.1 403.5h1.7M421.7 398.9h1.7M376.9 385.6h1.7M413.2 418.4h1.7M407.5 392.8h1.7M396.1 430.7h1.7M383.9 397.4h1.7M426.3 392.8h1.7M402.4 377.7h1.7M370.5 381.0h1.7M374.2 423.0h1.7M381.9 362.6h1.7M365.1 343.4h1.7M373.0 342.1h1.7M372.7 344.7h1.7M380.2 339.3h1.7M348.6 344.5h1.7M381.2 346.2h1.7M357.9 343.1h1.7M355.2 339.2h1.7M348.6 338.4h1.7M385.4 344.5h1.7M378.0 339.8h1.7M359.2 338.0h1.7M373.0 346.1h1.7M353.5 340.2h1.7M361.5 342.9h1.7M374.4 343.2h1.7M383.3 340.6h1.7M363.8 346.2h1.7M362.7 342.5h1.7M344.4 341.1h1.7M377.4 339.8h1.7M369.6 336.6h1.7M370.2 343.9h1.7M359.6 344.1h1.7M393.1 338.3h1.7M382.8 341.1h1.7M356.4 342.4h1.7M367.5 344.4h1.7M345.4 343.1h1.7M364.0 338.6h1.7M356.4 342.0h1.7M389.0 342.3h1.7M376.2 345.2h1.7M369.9 339.0h1.7M364.4 343.6h1.7M374.3 342.5h1.7M356.7 345.8h1.7M372.2 347.7h1.7M380.2 339.3h1.7M361.9 343.7h1.7M375.3 337.9h1.7M359.3 341.1h1.7M378.3 339.7h1.7M342.3 336.5h1.7M373.7 342.0h1.7M376.6 338.8h1.7M377.3 345.2h1.7M372.6 346.9h1.7M398.6 338.6h1.7M355.8 345.6h1.7M390.4 343.4h1.7M364.5 343.1h1.7M374.9 339.0h1.7M395.3 342.8h1.7M377.9 340.7h1.7M369.1 346.3h1.7M374.2 339.8h1.7M355.9 341.3h1.7M374.3 341.6h1.7M386.1 343.8h1.7M361.7 342.6h1.7M353.7 345.3h1.7M367.8 340.3h1.7M356.1 344.8h1.7M353.5 350.3h1.7M381.2 340.9h1.7M362.9 338.5h1.7M357.8 339.3h1.7M352.2 341.2h1.7M372.0 344.0h1.7M389.8 339.7h1.7M359.8 339.8h1.7M360.2 342.0h1.7M380.9 342.0h1.7M353.7 339.4h1.7M353.0 338.0h1.7M355.2 340.5h1.7M375.1 344.3h1.7M342.9 341.7h1.7M369.8 342.6h1.7M356.6 342.4h1.7M372.3 340.1h1.7M375.4 337.7h1.7M363.2 344.3h1.7M371.1 349.5h1.7M372.5 341.8h1.7M395.0 343.6h1.7M383.5 352.4h1.7M349.7 343.5h1.7M386.6 341.6h1.7M357.1 352.7h1.7M352.6 352.1h1.7M377.9 335.3h1.7M357.2 339.1h1.7M388.5 345.8h1.7M389.4 335.3h1.7M373.6 353.2h1.7M357.6 355.5h1.7M386.2 345.0h1.7M374.2 349.6h1.7M396.5 343.0h1.7M408.0 336.0h1.7M400.7 352.6h1.7M361.9 355.0h1.7M345.6 350.2h1.7M389.5 340.1h1.7M362.8 341.3h1.7M345.1 343.9h1.7M470.1 376.3h1.7M469.1 396.6h1.7M466.3 370.6h1.7M466.2 378.2h1.7M462.4 379.8h1.7M469.7 400.0h1.7M462.0 373.6h1.7M470.2 382.9h1.7M463.9 378.4h1.7M460.3 390.8h1.7M464.0 386.6h1.7M464.9 379.6h1.7M465.7 369.2h1.7M466.6 376.9h1.7M466.8 373.6h1.7M468.7 370.3h1.7M462.5 379.4h1.7M472.4 378.0h1.7M464.4 382.0h1.7M467.1 386.7h1.7M460.3 385.5h1.7M462.0 389.5h1.7M469.2 371.9h1.7M468.5 382.7h1.7M463.0 384.6h1.7M465.7 385.1h1.7M467.0 410.1h1.7M468.7 386.4h1.7M457.6 388.7h1.7M465.5 380.8h1.7M464.8 389.1h1.7M467.3 379.6h1.7M468.0 385.3h1.7M470.5 383.6h1.7M462.7 384.0h1.7M462.0 368.0h1.7M467.2 385.1h1.7M469.9 385.9h1.7M463.3 374.6h1.7M460.2 375.5h1.7M467.8 380.3h1.7M463.9 373.8h1.7M465.3 379.6h1.7M463.7 377.7h1.7M462.9 383.6h1.7M466.0 389.8h1.7M461.6 390.6h1.7M461.2 392.5h1.7M471.8 393.1h1.7M465.9 385.4h1.7M466.7 378.4h1.7M469.1 379.1h1.7M464.7 376.1h1.7M465.9 366.9h1.7M459.6 384.2h1.7M462.9 377.0h1.7M468.0 386.2h1.7M466.2 380.6h1.7M465.8 394.0h1.7M462.4 386.0h1.7M465.7 383.2h1.7M462.8 368.2h1.7M464.8 381.3h1.7M467.8 392.3h1.7M466.2 392.2h1.7M458.1 382.7h1.7M462.9 386.2h1.7M460.5 382.4h1.7M466.9 386.0h1.7M454.8 380.1h1.7M461.6 395.0h1.7M465.0 375.4h1.7M464.7 381.7h1.7M466.9 387.4h1.7M458.9 380.8h1.7M460.6 398.6h1.7M463.7 407.6h1.7M466.9 391.7h1.7M454.4 386.8h1.7M450.0 382.7h1.7M468.9 419.4h1.7M452.9 376.1h1.7M453.0 415.4h1.7M461.6 383.5h1.7M462.6 413.5h1.7M476.6 373.1h1.7M471.8 386.1h1.7M446.4 391.1h1.7M455.7 394.3h1.7M467.9 386.7h1.7M464.8 405.8h1.7M473.2 392.6h1.7M466.9 389.5h1.7M467.9 406.1h1.7M472.9 384.0h1.7M469.7 388.0h1.7M467.0 376.7h1.7M465.5 399.2h1.7M473.2 380.8h1.7M461.2 388.4h1.7M459.4 398.7h1.7M447.2 402.0h1.7M472.9 387.6h1.7M467.4 403.4h1.7M463.9 384.1h1.7M459.2 385.3h1.7M459.2 420.9h1.7M467.1 394.1h1.7M484.9 371.2h1.7M466.4 394.9h1.7M463.7 392.1h1.7M460.0 363.6h1.7M466.2 373.8h1.7M469.2 380.0h1.7M460.1 390.0h1.7M471.5 400.4h1.7M468.7 402.3h1.7M475.2 389.8h1.7M460.0 368.9h1.7M460.7 390.0h1.7M461.7 399.3h1.7M460.6 381.6h1.7M464.8 375.3h1.7M451.8 388.1h1.7M466.0 362.8h1.7M446.1 395.5h1.7M456.2 415.6h1.7M475.0 421.7h1.7M472.8 394.9h1.7M464.7 407.1h1.7M443.1 374.0h1.7M445.1 374.0h1.7M447.1 374.0h1.7M449.1 374.3h1.7M475.8 362.9h1.7M468.5 398.4h1.7M472.1 406.8h1.7M446.5 381.7h1.7M444.3 380.9h1.7M442.5 399.4h1.7M466.2 409.2h1.7M444.2 379.5h1.7" stroke="#000" stroke-width="1.7" fill="none"/>
<rect x="338.1" y="312.9" width="166.9" height="127.5" fill="none" stroke="#000" stroke-width="1.7"/>
<path d="M439 312.9V440.4M338.1 357.9H505" stroke="#000" stroke-width="1.5" fill="none"/>
<path d="M339.6 440.4v6.5M338.1 439h-7M351.9 440.4v3.5M338.1 429.7h-4M359.2 440.4v3.5M338.1 424.2h-4M364.3 440.4v3.5M338.1 420.3h-4M368.2 440.4v3.5M338.1 417.3h-4M371.5 440.4v3.5M338.1 414.9h-4M374.2 440.4v3.5M338.1 412.8h-4M376.6 440.4v3.5M338.1 411h-4M378.7 440.4v3.5M338.1 409.4h-4M380.6 440.4v6.5M338.1 408h-7M392.9 440.4v3.5M338.1 398.6h-4M400.1 440.4v3.5M338.1 393.2h-4M405.2 440.4v3.5M338.1 389.3h-4M409.2 440.4v3.5M338.1 386.3h-4M412.5 440.4v3.5M338.1 383.8h-4M415.2 440.4v3.5M338.1 381.8h-4M417.6 440.4v3.5M338.1 380h-4M419.7 440.4v3.5M338.1 378.4h-4M421.6 440.4v6.5M338.1 376.9h-7M433.9 440.4v3.5M338.1 367.6h-4M441.1 440.4v3.5M338.1 362.1h-4M446.2 440.4v3.5M338.1 358.3h-4M450.2 440.4v3.5M338.1 355.3h-4M453.4 440.4v3.5M338.1 352.8h-4M456.2 440.4v3.5M338.1 350.7h-4M458.6 440.4v3.5M338.1 348.9h-4M460.7 440.4v3.5M338.1 347.3h-4M462.5 440.4v6.5M338.1 345.9h-7M474.9 440.4v3.5M338.1 336.6h-4M482.1 440.4v3.5M338.1 331.1h-4M487.2 440.4v3.5M338.1 327.2h-4M491.2 440.4v3.5M338.1 324.2h-4M494.4 440.4v3.5M338.1 321.8h-4M497.2 440.4v3.5M338.1 319.7h-4M499.5 440.4v3.5M338.1 317.9h-4M501.6 440.4v3.5M338.1 316.3h-4M503.5 440.4v6.5M338.1 314.9h-7" stroke="#000" stroke-width="1.5" fill="none"/>
<text x="329.2" y="466.3" font-size="14.2">10<tspan dx="2.6" dy="-7.4">0</tspan></text>
<text x="370.2" y="466.3" font-size="14.2">10<tspan dx="2.6" dy="-7.4">1</tspan></text>
<text x="411.2" y="466.3" font-size="14.2">10<tspan dx="2.6" dy="-7.4">2</tspan></text>
<text x="452.1" y="466.3" font-size="14.2">10<tspan dx="2.6" dy="-7.4">3</tspan></text>
<text x="493.1" y="466.3" font-size="14.2">10<tspan dx="2.6" dy="-7.4">4</tspan></text>
<text transform="translate(325.1 449.9) rotate(-90) scale(1,1.17)" font-size="14.2">10<tspan dx="2.1" dy="-5.4">0</tspan></text>
<text transform="translate(325.1 418.9) rotate(-90) scale(1,1.17)" font-size="14.2">10<tspan dx="2.1" dy="-5.4">1</tspan></text>
<text transform="translate(325.1 387.8) rotate(-90) scale(1,1.17)" font-size="14.2">10<tspan dx="2.1" dy="-5.4">2</tspan></text>
<text transform="translate(325.1 356.8) rotate(-90) scale(1,1.17)" font-size="14.2">10<tspan dx="2.1" dy="-5.4">3</tspan></text>
<text transform="translate(325.1 325.8) rotate(-90) scale(1,1.17)" font-size="14.2">10<tspan dx="2.1" dy="-5.4">4</tspan></text>
<text class="b" x="377.2" y="310" font-size="22.6" textLength="91.5" lengthAdjust="spacingAndGlyphs">C57BL/6</text>
<text class="b" x="343.7" y="331.2" font-size="18.3" textLength="51.5" lengthAdjust="spacingAndGlyphs">10 ± 6</text>
<text class="b" x="446.1" y="438.1" font-size="18.3" textLength="51.4" lengthAdjust="spacingAndGlyphs">20 ± 7</text>
<path d="M157.7 556.0L163.8 552.5L173.1 550.5L182.3 548.8L189.0 547.5L195.0 545.5L199.0 544.5L197.0 548.5L191.5 555.5L187.0 564.6L182.0 575.0L180.5 585.0L180.0 600.0L179.8 620.0L179.5 650.9L168.5 650.9L168.5 630.0L169.0 610.0L169.0 598.0L166.0 588.0L161.0 580.0L156.2 574.0L154.0 566.0L154.6 558.0Z"/>
<path d="M168.7 570.4h1.5M174.4 558.5h1.5M170.2 562.1h1.5M168.3 568.0h1.5M174.6 575.3h1.5M160.1 572.9h1.5M173.2 571.4h1.5M173.8 573.6h1.5M171.5 571.1h1.5M164.5 580.4h1.5M159.2 579.1h1.5M168.2 580.4h1.5" stroke="#fff" stroke-width="1.6" fill="none"/>
<path d="M97.7 573.5h1.7M111.3 562.0h1.7M117.1 566.8h1.7M134.4 558.5h1.7M128.2 574.0h1.7M118.8 559.5h1.7M131.9 558.0h1.7M115.2 571.3h1.7M123.0 564.3h1.7M130.4 567.5h1.7M129.2 563.2h1.7M122.4 569.4h1.7M145.1 576.0h1.7M154.1 571.5h1.7M116.3 565.8h1.7M146.8 568.0h1.7M103.5 574.8h1.7M142.5 570.2h1.7M113.5 559.3h1.7M106.7 567.4h1.7M116.7 568.3h1.7M132.6 571.2h1.7M124.0 566.0h1.7M138.2 576.2h1.7M110.5 565.7h1.7M119.3 565.2h1.7M114.0 568.8h1.7M121.8 561.3h1.7M110.4 557.7h1.7M104.6 567.8h1.7M98.4 562.0h1.7M115.9 567.6h1.7M141.3 564.4h1.7M130.6 570.7h1.7M120.5 567.1h1.7M125.2 569.4h1.7M127.7 568.3h1.7M137.0 559.5h1.7M114.2 567.1h1.7M138.3 561.3h1.7M114.5 568.8h1.7M125.8 567.0h1.7M118.3 561.0h1.7M121.7 573.0h1.7M129.8 574.2h1.7M116.4 560.2h1.7M121.7 566.1h1.7M142.4 567.4h1.7M140.6 566.8h1.7M146.3 564.6h1.7M110.8 569.7h1.7M126.8 566.6h1.7M128.7 575.9h1.7M129.3 566.6h1.7M98.6 563.0h1.7M120.8 557.2h1.7M124.8 571.9h1.7M123.9 563.2h1.7M111.6 576.3h1.7M135.3 563.5h1.7M108.0 559.6h1.7M131.3 567.2h1.7M115.8 575.7h1.7M134.4 563.1h1.7M124.9 566.2h1.7M112.4 565.8h1.7M121.6 565.0h1.7M125.6 570.9h1.7M118.1 564.5h1.7M112.1 570.5h1.7M101.2 557.8h1.7M123.3 568.2h1.7M137.7 563.7h1.7M131.2 562.6h1.7M117.8 564.6h1.7M126.0 559.8h1.7M109.7 568.5h1.7M119.0 566.7h1.7M117.1 570.3h1.7M133.8 563.0h1.7M131.9 569.5h1.7M128.9 568.5h1.7M115.9 563.0h1.7M118.6 566.0h1.7M88.1 568.5h1.7M137.4 562.4h1.7M130.7 565.9h1.7M123.0 575.1h1.7M127.7 566.4h1.7M122.3 558.9h1.7M117.0 567.1h1.7M113.7 556.5h1.7M133.4 566.1h1.7M112.0 563.9h1.7M128.9 563.4h1.7M123.5 568.2h1.7M128.2 575.5h1.7M145.5 554.9h1.7M132.9 568.3h1.7M120.1 565.9h1.7M108.7 563.5h1.7M112.1 564.6h1.7M113.1 570.8h1.7M133.8 565.2h1.7M104.1 568.8h1.7M121.3 567.3h1.7M130.6 567.3h1.7M137.3 558.7h1.7M115.0 569.7h1.7M133.8 566.9h1.7M127.4 570.0h1.7M127.1 570.8h1.7M109.9 567.6h1.7M124.7 564.4h1.7M127.2 564.0h1.7M91.7 561.2h1.7M108.2 571.4h1.7M117.8 565.3h1.7M120.1 566.2h1.7M134.3 557.2h1.7M152.5 556.0h1.7M121.8 567.3h1.7M111.2 565.0h1.7M143.9 565.2h1.7M112.7 566.0h1.7M121.7 567.4h1.7M114.5 565.4h1.7M125.2 565.2h1.7M120.6 568.2h1.7M135.4 566.9h1.7M129.8 573.1h1.7M124.4 569.1h1.7M124.4 554.2h1.7M132.0 567.2h1.7M126.8 570.5h1.7M122.1 567.6h1.7M127.1 565.5h1.7M127.5 564.8h1.7M133.6 563.8h1.7M125.5 559.2h1.7M111.7 566.7h1.7M138.5 560.2h1.7M141.8 576.0h1.7M118.9 572.0h1.7M107.8 561.6h1.7M127.2 572.5h1.7M131.7 563.2h1.7M112.7 569.3h1.7M147.4 560.9h1.7M125.6 559.4h1.7M113.3 569.0h1.7M129.6 562.0h1.7M138.5 561.8h1.7M128.0 561.9h1.7M115.0 572.8h1.7M119.7 561.9h1.7M103.1 574.6h1.7M125.4 566.5h1.7M125.5 568.1h1.7M130.1 565.1h1.7M107.6 568.2h1.7M117.9 568.3h1.7M124.3 572.0h1.7M130.1 570.9h1.7M116.5 566.7h1.7M133.8 561.0h1.7M122.7 564.8h1.7M113.4 562.1h1.7M138.5 569.2h1.7M124.4 573.0h1.7M114.3 566.3h1.7M135.4 575.3h1.7M117.8 573.4h1.7M121.4 578.3h1.7M120.3 564.7h1.7M104.7 570.5h1.7M134.2 563.1h1.7M107.0 563.9h1.7M118.1 568.2h1.7M123.2 562.3h1.7M143.5 573.0h1.7M145.2 575.0h1.7M116.2 570.9h1.7M136.9 558.1h1.7M120.9 565.9h1.7M131.4 572.2h1.7M119.8 578.8h1.7M126.3 572.6h1.7M123.0 570.5h1.7M135.6 561.8h1.7M98.2 565.5h1.7M116.0 574.0h1.7M103.1 567.5h1.7M107.7 559.8h1.7M123.0 559.8h1.7M121.9 558.9h1.7M123.6 559.4h1.7M110.7 557.8h1.7M125.2 568.1h1.7M106.4 563.8h1.7M132.5 570.4h1.7M133.6 571.5h1.7M140.4 565.3h1.7M125.8 559.1h1.7M124.4 566.7h1.7M127.0 565.9h1.7M139.6 561.6h1.7M120.6 568.8h1.7M129.0 563.7h1.7M124.3 561.4h1.7M117.7 566.9h1.7M128.8 569.8h1.7M122.9 564.0h1.7M118.3 563.3h1.7M154.5 571.3h1.7M143.2 571.6h1.7M128.6 570.9h1.7M110.5 571.1h1.7M130.7 565.8h1.7M111.5 567.5h1.7M120.0 572.4h1.7M128.4 573.2h1.7M135.9 564.6h1.7M147.1 570.4h1.7M122.8 564.7h1.7M122.3 569.7h1.7M130.9 566.8h1.7M109.4 566.1h1.7M104.9 581.6h1.7M144.1 577.0h1.7M117.9 566.6h1.7M110.0 558.1h1.7M112.7 567.1h1.7M115.9 555.1h1.7M116.7 573.9h1.7M155.2 561.1h1.7M139.0 564.1h1.7M126.1 558.9h1.7M114.7 572.3h1.7M120.3 569.2h1.7M121.0 565.4h1.7M109.5 560.7h1.7M138.8 565.3h1.7M126.2 561.0h1.7M148.2 564.3h1.7M120.3 573.3h1.7M117.3 576.8h1.7M113.1 569.4h1.7M117.3 569.0h1.7M108.5 566.4h1.7M145.2 566.5h1.7M120.6 570.1h1.7M133.1 557.0h1.7M109.2 574.3h1.7M127.6 573.1h1.7M140.9 564.5h1.7M132.9 564.2h1.7M128.6 566.2h1.7M117.0 569.6h1.7M120.2 559.8h1.7M131.3 567.6h1.7M127.9 568.2h1.7M124.2 567.8h1.7M115.1 571.7h1.7M127.0 580.6h1.7M117.2 570.7h1.7M125.4 568.6h1.7M130.0 574.2h1.7M139.1 566.1h1.7M139.9 563.6h1.7M134.2 566.7h1.7M131.8 561.0h1.7M137.3 579.3h1.7M136.2 575.0h1.7M130.2 565.6h1.7M139.2 560.7h1.7M141.5 566.5h1.7M136.0 558.8h1.7M134.6 576.6h1.7M129.6 572.1h1.7M131.3 562.6h1.7M137.5 563.3h1.7M135.2 581.8h1.7M136.7 558.6h1.7M146.1 570.4h1.7M135.0 570.6h1.7M134.9 577.5h1.7M135.4 566.3h1.7M140.0 569.2h1.7M139.1 573.0h1.7M133.9 573.5h1.7M136.2 559.3h1.7M137.6 564.7h1.7M134.9 566.1h1.7M145.0 565.4h1.7M140.0 563.6h1.7M133.4 561.4h1.7M140.7 577.7h1.7M138.9 568.7h1.7M139.8 569.9h1.7M130.9 553.3h1.7M130.9 573.3h1.7M146.2 563.9h1.7M137.4 568.7h1.7M141.2 565.9h1.7M146.8 582.8h1.7M131.7 567.9h1.7M137.8 564.7h1.7M128.1 573.9h1.7M137.6 574.2h1.7M138.9 570.5h1.7M145.1 578.7h1.7M132.7 576.3h1.7M134.0 587.0h1.7M139.0 582.5h1.7M139.5 579.0h1.7M146.4 565.9h1.7M133.4 571.3h1.7M127.9 568.8h1.7M140.9 555.3h1.7M139.8 570.3h1.7M133.8 558.7h1.7M135.3 565.6h1.7M140.6 574.9h1.7M133.6 584.5h1.7M139.4 562.7h1.7M142.2 559.0h1.7M133.0 569.0h1.7M142.3 564.1h1.7M137.2 567.6h1.7M131.4 567.3h1.7M127.6 580.0h1.7M128.4 578.1h1.7M136.3 564.7h1.7M137.4 574.5h1.7M137.5 584.0h1.7M139.3 583.8h1.7M145.0 583.8h1.7M135.7 576.1h1.7M133.3 569.6h1.7M135.1 580.4h1.7M134.2 579.6h1.7M142.7 570.6h1.7M139.3 579.5h1.7M141.2 562.7h1.7M141.1 571.7h1.7M136.4 574.6h1.7M133.5 564.7h1.7M142.4 555.5h1.7M139.6 572.4h1.7M131.0 562.8h1.7M136.1 587.7h1.7M144.7 568.8h1.7M127.4 568.4h1.7M129.2 566.5h1.7M131.0 564.5h1.7M138.4 556.9h1.7M141.7 565.5h1.7M142.9 574.8h1.7M140.7 564.8h1.7M73.1 565.2h1.7M87.8 567.9h1.7M87.9 565.3h1.7M70.6 566.8h1.7M103.9 564.0h1.7M94.0 565.6h1.7M79.1 567.1h1.7M83.9 569.6h1.7M77.9 566.5h1.7M68.9 563.9h1.7M105.0 566.0h1.7M99.0 566.1h1.7M104.9 564.1h1.7M97.6 568.1h1.7M92.0 566.2h1.7M90.0 568.6h1.7M80.0 565.5h1.7M105.3 559.9h1.7M73.0 566.3h1.7M89.7 567.3h1.7M103.1 566.5h1.7M99.4 565.0h1.7M85.1 568.7h1.7M77.8 563.1h1.7M104.6 559.4h1.7M105.1 565.8h1.7M71.0 563.5h1.7M76.8 567.0h1.7M80.1 568.2h1.7M102.1 569.8h1.7M79.3 566.8h1.7M71.7 566.5h1.7M98.2 562.3h1.7M91.9 564.8h1.7M73.8 566.2h1.7M97.9 567.2h1.7M78.1 566.0h1.7M70.1 567.0h1.7M92.8 564.7h1.7M68.4 564.7h1.7M81.1 570.0h1.7M71.3 562.3h1.7M80.9 563.8h1.7M82.5 562.6h1.7M106.6 566.1h1.7M91.1 568.3h1.7M103.3 566.2h1.7M69.8 566.2h1.7M90.6 567.7h1.7M80.2 566.9h1.7M69.6 566.7h1.7M67.4 564.5h1.7M95.3 566.4h1.7M72.8 567.4h1.7M84.5 566.3h1.7M93.4 567.1h1.7M140.1 573.0h1.7M89.5 560.1h1.7M109.8 567.4h1.7M83.1 572.0h1.7M69.8 581.7h1.7M133.2 560.9h1.7M77.1 565.6h1.7M139.8 563.2h1.7M91.7 568.0h1.7M89.2 570.8h1.7M105.6 571.0h1.7M108.8 556.5h1.7M102.5 559.7h1.7M93.9 566.3h1.7M131.2 558.0h1.7M108.1 581.9h1.7M86.5 576.3h1.7M121.2 572.6h1.7M121.3 572.5h1.7M95.4 563.0h1.7M67.5 569.3h1.7M127.7 568.3h1.7M125.0 567.7h1.7M133.6 565.2h1.7M98.2 557.7h1.7M117.4 579.4h1.7M139.5 574.9h1.7M84.2 562.0h1.7M84.6 576.8h1.7M125.9 568.5h1.7M130.1 559.6h1.7M111.4 565.4h1.7M115.7 564.9h1.7M119.3 573.2h1.7M127.6 598.9h1.7M122.2 596.2h1.7M127.8 601.6h1.7M122.7 596.6h1.7M125.7 606.5h1.7M130.7 596.8h1.7M135.3 596.6h1.7M128.2 594.9h1.7M126.3 601.5h1.7M136.1 585.4h1.7M133.1 594.1h1.7M135.4 605.9h1.7M123.5 594.9h1.7M131.8 594.7h1.7M126.7 602.7h1.7M129.5 593.9h1.7M134.0 596.8h1.7M115.8 607.2h1.7M128.0 601.3h1.7M130.0 592.1h1.7M123.1 592.1h1.7M122.8 599.9h1.7M130.7 592.7h1.7M123.6 600.0h1.7M128.5 601.3h1.7M128.5 601.2h1.7M142.0 591.4h1.7M130.6 600.5h1.7M136.5 594.0h1.7M132.8 601.4h1.7M141.2 596.9h1.7M120.8 595.0h1.7M120.2 598.1h1.7M141.9 592.9h1.7M122.6 599.9h1.7M133.6 605.6h1.7M124.1 590.3h1.7M123.9 608.4h1.7M117.1 602.3h1.7M125.2 593.4h1.7M124.9 584.3h1.7M128.5 606.8h1.7M127.9 588.4h1.7M111.8 603.1h1.7M136.8 599.8h1.7M125.6 602.6h1.7M131.6 601.1h1.7M141.6 587.6h1.7M130.6 594.7h1.7M128.6 597.5h1.7M127.4 594.4h1.7M129.7 595.1h1.7M139.6 584.0h1.7M123.2 596.0h1.7M132.3 596.4h1.7M144.3 586.8h1.7M145.0 609.6h1.7M131.8 586.5h1.7M120.9 602.0h1.7M127.1 597.3h1.7M128.7 597.1h1.7M127.0 588.3h1.7M130.6 603.1h1.7M127.7 602.0h1.7M138.8 593.4h1.7M132.2 595.3h1.7M120.8 598.8h1.7M142.8 589.8h1.7M126.2 597.3h1.7M123.5 602.0h1.7M121.9 597.8h1.7M130.5 595.8h1.7M126.1 603.4h1.7M137.6 601.7h1.7M135.4 599.1h1.7M123.4 597.5h1.7M136.1 604.9h1.7M127.4 603.2h1.7M130.4 601.4h1.7M131.0 595.4h1.7M114.9 600.3h1.7M133.7 591.3h1.7M130.0 601.8h1.7M127.7 598.6h1.7M128.3 595.5h1.7M118.6 610.9h1.7M142.7 594.3h1.7M134.2 603.8h1.7M128.7 601.1h1.7M137.2 595.5h1.7M127.5 601.9h1.7M125.1 592.7h1.7M134.7 612.0h1.7M113.8 598.3h1.7M124.8 589.1h1.7M123.0 592.0h1.7M134.6 598.5h1.7M132.8 609.4h1.7M126.9 591.4h1.7M139.3 589.6h1.7M130.2 591.3h1.7M130.5 586.3h1.7M135.7 601.6h1.7M127.5 585.6h1.7M135.1 581.6h1.7M129.3 584.7h1.7M134.0 603.9h1.7M136.5 597.5h1.7M136.1 588.4h1.7M136.7 591.3h1.7M128.9 586.2h1.7M124.2 598.7h1.7M119.3 599.3h1.7M128.8 598.3h1.7M131.2 605.3h1.7M143.1 591.6h1.7M128.3 598.2h1.7M136.0 596.5h1.7M137.4 592.7h1.7M135.6 593.3h1.7M138.4 584.5h1.7M128.2 598.8h1.7M131.4 601.5h1.7M122.5 595.4h1.7M123.0 593.3h1.7M139.0 587.8h1.7M129.3 608.9h1.7M121.9 599.2h1.7M122.7 595.8h1.7M134.7 596.2h1.7M136.8 592.4h1.7M89.6 629.2h1.7M82.9 617.7h1.7M117.4 593.1h1.7M84.6 621.0h1.7M85.9 643.7h1.7M95.8 630.1h1.7M96.4 614.9h1.7M92.3 633.8h1.7M126.6 590.3h1.7M96.0 634.6h1.7M127.5 609.5h1.7M113.5 600.2h1.7M73.4 631.0h1.7M106.6 615.3h1.7M132.1 596.8h1.7M126.1 611.1h1.7M140.1 610.1h1.7M97.4 639.6h1.7M126.3 599.7h1.7M124.3 585.3h1.7M132.2 610.2h1.7M110.8 605.5h1.7M113.7 623.6h1.7M126.1 583.7h1.7M114.3 616.1h1.7M100.6 628.0h1.7M129.2 583.0h1.7M92.9 609.0h1.7M145.3 602.6h1.7M70.3 624.7h1.7M101.7 606.6h1.7M79.6 629.0h1.7M115.9 609.8h1.7M127.2 609.3h1.7M127.5 622.1h1.7M89.5 637.4h1.7M121.7 597.7h1.7M124.8 601.2h1.7M113.8 623.1h1.7M110.7 605.9h1.7M91.6 636.3h1.7M101.3 616.1h1.7M100.7 596.2h1.7M81.4 627.8h1.7M144.7 605.8h1.7M81.3 629.8h1.7M114.1 617.4h1.7M115.2 623.7h1.7M141.4 598.9h1.7M104.4 614.9h1.7M103.7 587.5h1.7M117.6 605.0h1.7M79.7 629.0h1.7M114.0 588.2h1.7M136.1 595.1h1.7M148.5 605.4h1.7M135.0 595.8h1.7M124.9 615.8h1.7M126.3 617.2h1.7M112.8 614.2h1.7M92.4 634.2h1.7M99.2 625.2h1.7M91.5 638.3h1.7M117.5 622.2h1.7M146.2 602.1h1.7M98.1 594.3h1.7M109.2 614.7h1.7M84.2 633.4h1.7M129.9 599.1h1.7M96.4 626.8h1.7M98.3 610.8h1.7M143.9 602.9h1.7M106.4 605.1h1.7M115.9 619.4h1.7M90.2 639.2h1.7M112.8 635.6h1.7M89.9 619.2h1.7M86.9 640.0h1.7M111.7 636.9h1.7M126.2 587.5h1.7M133.2 588.3h1.7M108.8 615.8h1.7M113.1 592.8h1.7M87.5 647.7h1.7M105.2 622.9h1.7M114.6 602.0h1.7M97.4 617.3h1.7M100.9 627.2h1.7M120.9 597.4h1.7M101.9 627.6h1.7M132.0 601.3h1.7M133.0 586.7h1.7M148.6 604.7h1.7M88.3 624.0h1.7M118.4 610.7h1.7M110.3 608.8h1.7M96.1 626.7h1.7M96.1 614.7h1.7M94.5 631.6h1.7M103.9 618.8h1.7M129.4 600.9h1.7M129.5 597.8h1.7M76.2 623.4h1.7M120.6 619.0h1.7M134.5 600.4h1.7M65.6 594.5h1.7M90.0 630.9h1.7M110.6 584.3h1.7M88.3 632.4h1.7M91.0 646.2h1.7M100.7 642.0h1.7M118.4 618.7h1.7M130.9 606.6h1.7M86.0 624.1h1.7M89.0 644.8h1.7M81.6 632.5h1.7M109.3 608.1h1.7M116.5 622.9h1.7M92.6 633.9h1.7M75.1 626.4h1.7M82.6 624.3h1.7M113.9 616.2h1.7M143.7 603.5h1.7M126.7 597.5h1.7M124.5 619.4h1.7M139.3 591.5h1.7M130.1 610.7h1.7M122.4 615.0h1.7M85.1 632.1h1.7M130.0 606.7h1.7M86.7 637.1h1.7M115.9 605.7h1.7M106.2 605.2h1.7M127.5 610.9h1.7M105.4 596.5h1.7M102.8 626.2h1.7M112.4 602.9h1.7M107.8 628.1h1.7M109.4 616.5h1.7M129.4 606.3h1.7M104.5 615.1h1.7M132.0 591.1h1.7M78.8 630.4h1.7M85.9 620.9h1.7M122.1 589.0h1.7M126.7 613.7h1.7M121.3 615.0h1.7M108.2 593.8h1.7M100.1 608.2h1.7M71.7 623.2h1.7M118.8 614.8h1.7M90.6 597.4h1.7M76.2 609.2h1.7M116.7 605.4h1.7M110.9 640.8h1.7M80.6 598.1h1.7M136.5 608.1h1.7M124.5 640.3h1.7M121.8 590.9h1.7M84.9 604.4h1.7M81.7 604.6h1.7M99.3 594.5h1.7M121.8 638.7h1.7M66.2 635.6h1.7M110.2 635.1h1.7M105.1 620.8h1.7M124.6 613.7h1.7M100.2 622.1h1.7M95.4 622.6h1.7M139.9 617.0h1.7M128.7 616.1h1.7M94.4 622.5h1.7M73.7 610.3h1.7M91.5 639.4h1.7M115.5 601.2h1.7M92.0 604.8h1.7M78.2 637.7h1.7M117.0 630.8h1.7M156.4 557.6h1.7M146.1 555.4h1.7M151.4 580.1h1.7M146.4 563.5h1.7M146.4 572.7h1.7M144.3 567.1h1.7M147.9 569.1h1.7M148.2 582.6h1.7M147.1 598.0h1.7M145.4 577.2h1.7M151.8 562.7h1.7M155.9 595.8h1.7M153.9 574.2h1.7M149.8 567.3h1.7M147.6 577.8h1.7M144.5 586.6h1.7M147.4 563.9h1.7M148.1 577.9h1.7M141.6 566.9h1.7M152.1 595.2h1.7M150.4 573.3h1.7M150.2 597.0h1.7M150.7 576.0h1.7M152.0 556.7h1.7M153.4 589.6h1.7M156.4 590.6h1.7M150.9 575.6h1.7M151.7 569.8h1.7M142.7 559.8h1.7M150.6 588.2h1.7M141.6 579.9h1.7M146.5 569.6h1.7M142.5 560.3h1.7M145.3 575.2h1.7M151.1 583.1h1.7M148.7 569.5h1.7M150.1 565.9h1.7M147.9 580.2h1.7M152.7 568.9h1.7M151.7 557.0h1.7M148.4 585.0h1.7M156.7 566.1h1.7M146.7 594.3h1.7M149.9 568.4h1.7M144.4 577.2h1.7M149.9 592.9h1.7M147.4 579.4h1.7M142.8 575.6h1.7M141.9 585.9h1.7M153.1 554.9h1.7M145.3 593.2h1.7M155.9 557.0h1.7M145.9 595.3h1.7M151.0 569.5h1.7M141.3 580.1h1.7M148.9 555.0h1.7M141.3 563.8h1.7M144.4 563.0h1.7M141.9 571.7h1.7M147.6 595.6h1.7M142.4 581.0h1.7M151.4 575.9h1.7M144.9 591.8h1.7M150.4 562.0h1.7M156.0 561.0h1.7M151.2 570.2h1.7M147.0 585.8h1.7M149.7 561.9h1.7M155.7 558.0h1.7M149.3 573.9h1.7M149.7 566.9h1.7M151.6 585.6h1.7M152.3 594.0h1.7M150.3 579.8h1.7M150.5 592.0h1.7M147.6 582.9h1.7M142.0 578.6h1.7M148.7 559.1h1.7M146.0 564.2h1.7M144.6 596.8h1.7M147.2 555.9h1.7M145.1 574.3h1.7M150.0 590.2h1.7M157.0 556.9h1.7M144.9 592.2h1.7M146.2 597.5h1.7M154.8 589.8h1.7M152.9 563.1h1.7M149.5 581.2h1.7M149.7 559.9h1.7M153.6 591.0h1.7M153.6 573.4h1.7M155.7 591.9h1.7M141.5 589.8h1.7M154.0 574.2h1.7M148.9 574.5h1.7M145.3 555.8h1.7M149.7 585.5h1.7M152.6 567.9h1.7M156.7 558.8h1.7M143.6 596.0h1.7M142.7 583.3h1.7M143.1 560.7h1.7M151.2 585.8h1.7M156.7 593.1h1.7M144.6 587.7h1.7M156.2 590.4h1.7M145.7 595.1h1.7M141.7 561.5h1.7M141.2 583.0h1.7M142.7 578.6h1.7M149.4 593.7h1.7M148.0 587.9h1.7M143.9 595.6h1.7M145.3 594.9h1.7M152.1 568.3h1.7M154.9 591.8h1.7M155.5 561.3h1.7M146.2 564.3h1.7M157.0 568.6h1.7M144.2 594.8h1.7M155.0 559.5h1.7M144.6 565.4h1.7M143.9 570.1h1.7M145.8 578.8h1.7M154.9 597.1h1.7M142.7 582.0h1.7M150.3 571.0h1.7M156.6 580.8h1.7M150.1 597.9h1.7M145.1 557.3h1.7M150.6 577.3h1.7M143.1 585.5h1.7M143.6 557.7h1.7M152.6 597.6h1.7M152.1 577.8h1.7M148.8 585.8h1.7M141.5 590.8h1.7M143.6 572.4h1.7M142.1 565.8h1.7M146.0 555.8h1.7M145.1 591.5h1.7M155.1 566.5h1.7M153.3 562.7h1.7M148.5 554.0h1.7M143.5 567.3h1.7M153.5 593.6h1.7M156.5 555.9h1.7M144.5 589.5h1.7M144.0 586.3h1.7M156.1 592.6h1.7M147.0 586.4h1.7M151.5 569.9h1.7M142.1 577.5h1.7M150.7 556.6h1.7M150.9 584.9h1.7M155.4 585.3h1.7M150.1 569.6h1.7M149.0 564.0h1.7M146.5 556.3h1.7M144.3 566.1h1.7M147.7 567.8h1.7M148.6 590.2h1.7M155.6 554.0h1.7M143.6 573.0h1.7M147.4 564.2h1.7M155.0 593.5h1.7M146.0 567.8h1.7M147.3 564.6h1.7M152.0 580.2h1.7M146.7 567.1h1.7M154.5 582.8h1.7M146.2 568.5h1.7M154.0 566.2h1.7M153.3 568.9h1.7M153.3 575.8h1.7M146.1 588.3h1.7M149.8 591.3h1.7M143.8 576.1h1.7M142.0 559.1h1.7M151.1 561.6h1.7M155.8 565.5h1.7M154.6 566.9h1.7M141.2 582.5h1.7M152.9 595.2h1.7M141.7 563.8h1.7M153.0 566.7h1.7M156.3 578.0h1.7M156.0 586.1h1.7M144.3 555.4h1.7M146.2 584.6h1.7M151.4 586.5h1.7M155.2 561.9h1.7M153.7 559.1h1.7M156.3 562.8h1.7M145.8 574.3h1.7M154.2 585.6h1.7M156.2 566.1h1.7M148.2 560.2h1.7M146.5 587.4h1.7M141.4 565.7h1.7M147.7 571.3h1.7M144.5 567.4h1.7M155.9 588.3h1.7M144.5 595.2h1.7M156.7 582.9h1.7M153.7 565.6h1.7M151.1 572.2h1.7M148.3 582.1h1.7M151.0 595.3h1.7M144.0 573.7h1.7M148.4 580.6h1.7M141.4 565.2h1.7M155.2 581.1h1.7M146.6 591.0h1.7M147.8 575.8h1.7M141.3 560.8h1.7M149.1 560.0h1.7M148.2 554.5h1.7M145.9 560.9h1.7M168.6 606.3h1.7M182.3 550.1h1.7M160.4 582.0h1.7M178.8 643.0h1.7M181.8 548.2h1.7M169.6 646.2h1.7M179.9 579.3h1.7M165.5 624.1h1.7M160.9 555.2h1.7M167.2 629.5h1.7M168.8 629.8h1.7M165.3 585.1h1.7M190.8 554.1h1.7M179.1 595.7h1.7M170.4 551.9h1.7M170.6 552.9h1.7M166.4 552.2h1.7M197.1 548.7h1.7M163.9 588.8h1.7M164.8 588.9h1.7M179.7 589.6h1.7M169.2 643.9h1.7M178.3 629.6h1.7M179.8 582.1h1.7M152.9 559.7h1.7M154.0 565.4h1.7M153.3 557.6h1.7M174.7 549.3h1.7M179.7 579.3h1.7M182.1 574.5h1.7M182.9 552.4h1.7M190.4 556.4h1.7M155.3 566.9h1.7M180.5 614.0h1.7M184.5 572.6h1.7M179.0 546.0h1.7M156.0 568.8h1.7M166.5 626.9h1.7M180.5 646.1h1.7M152.5 554.7h1.7M166.1 593.2h1.7M181.2 581.5h1.7M178.3 598.4h1.7M158.1 558.2h1.7M186.4 548.1h1.7M188.4 548.8h1.7M167.9 605.6h1.7M168.8 602.5h1.7M180.4 616.2h1.7M168.1 646.6h1.7M180.2 612.2h1.7M195.8 546.6h1.7M151.2 563.1h1.7M177.0 549.2h1.7M184.9 545.1h1.7M197.7 543.4h1.7M179.5 649.0h1.7M166.1 641.0h1.7M177.2 599.9h1.7M159.6 577.6h1.7M162.3 583.7h1.7M167.3 552.4h1.7M166.1 629.5h1.7M167.6 620.7h1.7M178.8 637.0h1.7M177.7 636.6h1.7M196.8 547.6h1.7M181.2 595.0h1.7M155.5 572.2h1.7M181.1 587.8h1.7M189.3 547.1h1.7M189.2 548.4h1.7M164.3 587.4h1.7M173.0 549.1h1.7M194.6 544.8h1.7M198.8 544.8h1.7M182.8 568.9h1.7M173.9 552.7h1.7M155.6 577.2h1.7M154.9 573.8h1.7M168.1 645.1h1.7M184.8 570.3h1.7M164.9 588.6h1.7M177.6 634.6h1.7M171.4 593.9h1.7M166.8 602.9h1.7M168.0 551.0h1.7M166.0 590.5h1.7M176.4 622.6h1.7M178.3 587.6h1.7M163.4 552.6h1.7M165.1 553.1h1.7M160.6 553.0h1.7M156.2 555.9h1.7M186.2 570.8h1.7M178.7 630.2h1.7M162.2 583.8h1.7M164.1 588.9h1.7M180.7 585.6h1.7M177.4 645.1h1.7M164.2 591.0h1.7M178.7 629.0h1.7M179.2 601.2h1.7M191.1 563.4h1.7M178.1 639.4h1.7M187.6 557.5h1.7M180.4 582.9h1.7M179.5 645.8h1.7M152.5 558.5h1.7M168.4 634.4h1.7M167.4 612.2h1.7M174.2 551.5h1.7M168.0 645.2h1.7M184.0 548.0h1.7M163.1 555.1h1.7M179.1 585.3h1.7M168.3 634.9h1.7M178.3 598.0h1.7M178.3 639.4h1.7M178.3 637.3h1.7M182.2 572.6h1.7M160.7 583.1h1.7M181.2 581.5h1.7M184.1 548.3h1.7M185.5 569.5h1.7M166.9 599.2h1.7M157.1 554.6h1.7M176.1 625.6h1.7M169.8 602.6h1.7M159.6 556.0h1.7M181.8 608.7h1.7M167.0 625.6h1.7M187.8 565.4h1.7M179.7 548.2h1.7M185.7 545.9h1.7M185.2 547.6h1.7M178.8 584.0h1.7M169.2 631.6h1.7M179.2 643.4h1.7M167.3 639.0h1.7M197.7 544.0h1.7M198.7 547.4h1.7M189.2 547.1h1.7M197.2 544.7h1.7M196.8 546.2h1.7M189.1 550.4h1.7M201.7 545.3h1.7M191.9 554.2h1.7M191.4 550.3h1.7M188.1 553.5h1.7M193.4 545.7h1.7M198.5 544.7h1.7M196.8 546.1h1.7M190.8 551.5h1.7M196.4 546.2h1.7M186.0 550.4h1.7M193.0 543.3h1.7M199.1 545.9h1.7M201.3 546.5h1.7M191.2 550.2h1.7M189.3 552.8h1.7M194.3 546.9h1.7M196.4 543.4h1.7M187.5 548.3h1.7M197.9 543.6h1.7M191.3 545.3h1.7M195.9 547.6h1.7M191.0 546.6h1.7M196.9 543.3h1.7M193.9 553.1h1.7M190.0 547.5h1.7M199.6 544.9h1.7M191.0 550.6h1.7M192.3 549.2h1.7M192.0 549.9h1.7M194.0 548.4h1.7M192.5 546.1h1.7M192.9 551.3h1.7M189.4 546.8h1.7M185.4 552.1h1.7M163.1 600.7h1.7M170.7 624.7h1.7M180.4 647.4h1.7M171.5 611.0h1.7M162.4 628.7h1.7M181.8 618.3h1.7M166.6 614.1h1.7M162.8 624.5h1.7M178.4 645.3h1.7M178.1 601.5h1.7M171.2 627.6h1.7M174.4 623.7h1.7M179.0 636.0h1.7M172.5 620.8h1.7M173.7 621.6h1.7M159.6 612.7h1.7M179.9 645.1h1.7M174.2 635.7h1.7M175.6 643.4h1.7M166.9 597.2h1.7M171.1 604.3h1.7M171.4 641.0h1.7M167.4 639.4h1.7M165.5 613.5h1.7M183.1 604.4h1.7M169.0 620.7h1.7M161.8 615.0h1.7M171.1 642.8h1.7M171.8 632.7h1.7M189.2 595.0h1.7M167.9 617.9h1.7M178.3 608.6h1.7M172.6 597.1h1.7M184.5 610.6h1.7M168.5 614.5h1.7M173.6 645.6h1.7M184.3 618.9h1.7M175.2 635.8h1.7M173.8 596.8h1.7M178.0 606.9h1.7M171.1 606.7h1.7M156.4 611.5h1.7M166.8 609.3h1.7M165.5 649.0h1.7M176.2 613.3h1.7M171.4 629.5h1.7M169.6 635.3h1.7M176.6 620.0h1.7M181.6 599.0h1.7M173.6 631.1h1.7M173.7 605.1h1.7M167.1 635.5h1.7M181.7 613.7h1.7M174.7 633.2h1.7M154.1 644.1h1.7M183.2 631.0h1.7M167.7 605.5h1.7M167.8 610.5h1.7M161.7 645.5h1.7M175.7 633.7h1.7M164.5 635.9h1.7M168.2 641.9h1.7M170.6 632.9h1.7M176.2 638.7h1.7M174.5 633.1h1.7M170.5 648.7h1.7M181.1 627.0h1.7M155.9 642.2h1.7M166.8 620.6h1.7M175.8 647.3h1.7M160.7 613.6h1.7M172.2 608.2h1.7M165.3 613.4h1.7M183.2 619.4h1.7M172.9 632.0h1.7M161.9 647.4h1.7M179.1 626.5h1.7M165.7 621.6h1.7M164.7 633.6h1.7M189.2 605.6h1.7M179.0 602.9h1.7M182.5 645.3h1.7M172.8 611.1h1.7M174.7 635.7h1.7M172.6 644.4h1.7M172.8 607.6h1.7M158.0 634.9h1.7M178.9 617.8h1.7M172.3 626.5h1.7M184.8 643.7h1.7M180.3 646.7h1.7M175.2 635.3h1.7M169.9 642.2h1.7M178.4 601.4h1.7M166.3 601.6h1.7M176.7 601.6h1.7M164.7 613.7h1.7M171.7 643.9h1.7M177.9 620.8h1.7M176.4 643.3h1.7M169.9 642.8h1.7M162.6 596.3h1.7M173.6 618.3h1.7M155.4 625.9h1.7M172.8 627.9h1.7M163.6 640.5h1.7M174.9 602.8h1.7M161.6 606.2h1.7M193.6 596.9h1.7M182.6 604.2h1.7M177.9 607.5h1.7M173.5 595.4h1.7M176.4 626.2h1.7M177.0 596.7h1.7M174.0 637.9h1.7M180.7 641.8h1.7M169.0 644.8h1.7M172.8 602.5h1.7M173.3 639.9h1.7M182.2 618.2h1.7M182.3 640.2h1.7M169.3 632.3h1.7M162.5 634.6h1.7M184.3 620.5h1.7M166.9 648.4h1.7M166.7 627.6h1.7M180.4 633.6h1.7M176.7 645.0h1.7M175.4 633.0h1.7M163.4 581.1h1.7M163.9 588.9h1.7M155.9 597.1h1.7M169.4 583.5h1.7M163.0 596.2h1.7M158.4 591.5h1.7M156.6 586.8h1.7M163.2 584.1h1.7M163.0 580.2h1.7M156.7 585.5h1.7M163.0 599.8h1.7M163.9 596.0h1.7M159.1 583.0h1.7M156.7 577.3h1.7M161.9 575.4h1.7M155.2 597.9h1.7M170.8 580.7h1.7M165.8 583.8h1.7M157.6 593.5h1.7M167.4 581.3h1.7M168.9 597.4h1.7M169.2 577.7h1.7M159.7 583.2h1.7M157.0 577.8h1.7M165.3 599.1h1.7M156.1 576.7h1.7M168.6 579.9h1.7M165.9 585.2h1.7M157.6 587.8h1.7M167.9 594.2h1.7M157.5 583.3h1.7M169.1 585.1h1.7M167.3 580.9h1.7M167.4 577.7h1.7M162.7 583.3h1.7M155.8 589.7h1.7M167.5 585.3h1.7M164.5 599.0h1.7M162.3 585.8h1.7M167.5 583.4h1.7M166.1 599.2h1.7M158.7 577.5h1.7M157.5 579.4h1.7M168.0 594.7h1.7M155.8 575.3h1.7M161.9 586.4h1.7M159.9 599.5h1.7M170.9 591.0h1.7M156.5 576.6h1.7M171.1 589.6h1.7M163.0 587.9h1.7M165.8 575.1h1.7M170.0 591.2h1.7M159.0 593.6h1.7M164.9 591.4h1.7M164.1 586.8h1.7M156.5 578.4h1.7M163.7 583.8h1.7M169.4 581.5h1.7M163.2 576.9h1.7M164.4 587.5h1.7M155.9 599.2h1.7M165.5 596.3h1.7M158.8 583.1h1.7M170.5 576.8h1.7M165.4 599.4h1.7M166.4 577.0h1.7M170.1 599.8h1.7M162.7 583.6h1.7M165.0 578.0h1.7M165.3 631.5h1.7M160.1 639.2h1.7M161.2 645.1h1.7M162.4 633.4h1.7M164.7 629.7h1.7M167.8 636.1h1.7M167.4 604.1h1.7M162.1 637.0h1.7M165.3 619.2h1.7M165.2 619.9h1.7M161.9 644.5h1.7M166.8 646.9h1.7M164.4 627.0h1.7M165.7 645.8h1.7M161.6 632.4h1.7M164.6 640.2h1.7M163.0 603.1h1.7M163.8 621.8h1.7M162.4 647.3h1.7M165.7 633.0h1.7M163.2 636.7h1.7M163.0 615.4h1.7M162.8 636.2h1.7M165.1 603.8h1.7M164.3 632.6h1.7M165.6 648.5h1.7M168.2 619.3h1.7M165.8 615.3h1.7M163.6 609.4h1.7M163.6 608.5h1.7M166.1 602.7h1.7M170.6 640.0h1.7M167.3 620.1h1.7M162.7 641.4h1.7M163.3 626.5h1.7M165.7 630.3h1.7M167.6 601.8h1.7M170.7 606.3h1.7M163.4 628.9h1.7M166.9 630.5h1.7M162.5 634.4h1.7M167.1 620.2h1.7M166.1 638.0h1.7M165.5 621.6h1.7M163.9 601.1h1.7M163.7 623.7h1.7M160.9 600.2h1.7M168.2 603.8h1.7M162.2 605.9h1.7M166.9 637.3h1.7M161.5 617.6h1.7M166.7 631.8h1.7M165.0 607.1h1.7M163.3 641.7h1.7M167.6 634.4h1.7M166.6 606.9h1.7M161.5 624.0h1.7M167.9 639.5h1.7M166.8 613.5h1.7M166.9 631.8h1.7M163.3 640.1h1.7M163.9 647.8h1.7M165.8 635.9h1.7M164.2 630.7h1.7M162.9 642.9h1.7M163.7 609.3h1.7M165.9 625.6h1.7M165.1 626.9h1.7M163.7 646.6h1.7M164.9 627.8h1.7M164.0 608.1h1.7M168.1 629.5h1.7M165.0 643.2h1.7M163.3 622.8h1.7M165.9 629.9h1.7M163.3 629.8h1.7M161.8 639.7h1.7M166.2 638.3h1.7M162.7 620.5h1.7M164.0 621.7h1.7M163.8 640.2h1.7M149.3 600.0h1.7M160.6 587.1h1.7M175.8 634.3h1.7M155.8 617.9h1.7M151.9 605.9h1.7M173.5 619.2h1.7M166.3 609.2h1.7M183.9 588.4h1.7M175.4 601.0h1.7M172.7 585.9h1.7M186.1 633.8h1.7M152.7 606.0h1.7M162.6 591.9h1.7M149.8 613.8h1.7M163.8 644.9h1.7M158.6 587.9h1.7M188.2 637.5h1.7M166.8 611.4h1.7M149.7 629.9h1.7M173.7 644.6h1.7M156.3 619.3h1.7M165.2 646.2h1.7M167.5 593.3h1.7M166.1 586.4h1.7M189.1 625.2h1.7M159.5 600.3h1.7M179.2 644.3h1.7M144.9 603.1h1.7M174.0 616.6h1.7M172.7 636.9h1.7M182.4 627.1h1.7M173.3 616.3h1.7" stroke="#000" stroke-width="1.7" fill="none"/>
<rect x="64.8" y="523.5" width="166.7" height="127.1" fill="none" stroke="#000" stroke-width="1.7"/>
<path d="M142.7 523.5V650.6M64.8 585.2H231.5" stroke="#000" stroke-width="1.5" fill="none"/>
<path d="M66.3 650.6v6.5M64.8 649.2h-7M78.6 650.6v3.5M64.8 639.9h-4M85.8 650.6v3.5M64.8 634.4h-4M90.9 650.6v3.5M64.8 630.6h-4M94.9 650.6v3.5M64.8 627.6h-4M98.1 650.6v3.5M64.8 625.1h-4M100.9 650.6v3.5M64.8 623.1h-4M103.3 650.6v3.5M64.8 621.3h-4M105.4 650.6v3.5M64.8 619.7h-4M107.2 650.6v6.5M64.8 618.3h-7M119.5 650.6v3.5M64.8 609h-4M126.8 650.6v3.5M64.8 603.5h-4M131.9 650.6v3.5M64.8 599.7h-4M135.8 650.6v3.5M64.8 596.7h-4M139.1 650.6v3.5M64.8 594.2h-4M141.8 650.6v3.5M64.8 592.1h-4M144.2 650.6v3.5M64.8 590.3h-4M146.3 650.6v3.5M64.8 588.8h-4M148.1 650.6v6.5M64.8 587.4h-7M160.5 650.6v3.5M64.8 578h-4M167.7 650.6v3.5M64.8 572.6h-4M172.8 650.6v3.5M64.8 568.7h-4M176.8 650.6v3.5M64.8 565.7h-4M180 650.6v3.5M64.8 563.3h-4M182.7 650.6v3.5M64.8 561.2h-4M185.1 650.6v3.5M64.8 559.4h-4M187.2 650.6v3.5M64.8 557.8h-4M189.1 650.6v6.5M64.8 556.4h-7M201.4 650.6v3.5M64.8 547.1h-4M208.6 650.6v3.5M64.8 541.7h-4M213.7 650.6v3.5M64.8 537.8h-4M217.7 650.6v3.5M64.8 534.8h-4M220.9 650.6v3.5M64.8 532.4h-4M223.7 650.6v3.5M64.8 530.3h-4M226 650.6v3.5M64.8 528.5h-4M228.1 650.6v3.5M64.8 526.9h-4M230 650.6v6.5M64.8 525.5h-7" stroke="#000" stroke-width="1.5" fill="none"/>
<text x="55.9" y="676.5" font-size="14.2">10<tspan dx="2.6" dy="-7.4">0</tspan></text>
<text x="96.8" y="676.5" font-size="14.2">10<tspan dx="2.6" dy="-7.4">1</tspan></text>
<text x="137.7" y="676.5" font-size="14.2">10<tspan dx="2.6" dy="-7.4">2</tspan></text>
<text x="178.7" y="676.5" font-size="14.2">10<tspan dx="2.6" dy="-7.4">3</tspan></text>
<text x="219.6" y="676.5" font-size="14.2">10<tspan dx="2.6" dy="-7.4">4</tspan></text>
<text transform="translate(51.8 660.1) rotate(-90) scale(1,1.17)" font-size="14.2">10<tspan dx="2.1" dy="-5.4">0</tspan></text>
<text transform="translate(51.8 629.2) rotate(-90) scale(1,1.17)" font-size="14.2">10<tspan dx="2.1" dy="-5.4">1</tspan></text>
<text transform="translate(51.8 598.2) rotate(-90) scale(1,1.17)" font-size="14.2">10<tspan dx="2.1" dy="-5.4">2</tspan></text>
<text transform="translate(51.8 567.3) rotate(-90) scale(1,1.17)" font-size="14.2">10<tspan dx="2.1" dy="-5.4">3</tspan></text>
<text transform="translate(51.8 536.4) rotate(-90) scale(1,1.17)" font-size="14.2">10<tspan dx="2.1" dy="-5.4">4</tspan></text>
<text class="b" x="80.6" y="517.1" font-size="22.6" textLength="135.2" lengthAdjust="spacingAndGlyphs">Transgenic F</text>
<text class="b" x="68.2" y="543" font-size="18.3" textLength="41.2" lengthAdjust="spacingAndGlyphs">6 ± 2</text>
<text class="b" x="179.8" y="646.7" font-size="18.3" textLength="47.4" lengthAdjust="spacingAndGlyphs">16 ± 7</text>
<path d="M344.0 606.0L350.0 602.0L358.0 598.0L368.0 594.0L378.0 592.0L388.0 593.0L395.0 598.0L398.0 608.0L396.0 620.0L397.0 635.0L398.0 648.0L344.0 648.0Z"/>
<ellipse cx="476.0" cy="587.0" rx="6.0" ry="13.5" transform="rotate(8.0 476.0 587.0)"/>
<path d="M351.0 643.0h1.5M351.8 641.7h1.5M352.4 647.7h1.5M349.0 630.7h1.5M351.1 626.2h1.5M348.4 638.2h1.5M356.2 630.7h1.5M355.6 614.3h1.5M344.8 608.8h1.5M348.0 603.3h1.5M350.8 641.6h1.5M352.8 617.1h1.5M349.0 640.1h1.5M354.7 624.6h1.5M347.5 644.4h1.5M353.9 640.3h1.5M347.6 627.5h1.5M350.6 613.9h1.5M356.3 627.4h1.5M359.2 639.3h1.5M343.5 628.1h1.5M347.9 637.7h1.5M356.3 606.7h1.5M358.1 624.4h1.5M356.6 629.2h1.5M345.7 623.9h1.5M357.6 621.1h1.5M346.3 614.5h1.5M346.8 612.0h1.5M349.3 620.5h1.5M350.9 645.9h1.5M343.8 619.2h1.5M347.2 644.6h1.5M349.0 608.4h1.5M357.1 607.5h1.5M352.8 631.6h1.5M358.3 616.8h1.5M353.3 615.7h1.5M344.0 640.3h1.5M357.5 643.7h1.5M345.1 636.7h1.5M354.9 630.4h1.5M352.8 647.0h1.5M349.3 629.0h1.5M356.4 621.1h1.5M350.1 641.4h1.5M348.5 632.0h1.5M346.1 633.5h1.5M356.4 612.8h1.5M354.8 647.4h1.5M352.1 600.9h1.5M351.6 642.3h1.5M352.8 604.9h1.5M353.5 613.5h1.5M358.1 602.7h1.5M356.2 610.6h1.5M353.6 631.5h1.5M344.6 610.3h1.5M354.3 628.6h1.5M350.1 617.3h1.5M351.8 639.9h1.5M344.3 630.0h1.5M349.4 630.0h1.5M343.3 624.7h1.5M344.0 614.1h1.5M351.0 620.1h1.5M353.4 628.7h1.5M354.1 642.4h1.5M357.3 602.4h1.5M354.3 603.1h1.5M356.6 647.8h1.5M352.5 613.6h1.5M352.7 625.9h1.5M356.5 604.9h1.5M352.5 619.2h1.5M346.4 617.0h1.5M351.8 613.9h1.5M356.8 632.3h1.5M359.2 644.3h1.5M350.0 642.3h1.5M349.6 614.5h1.5M353.9 604.1h1.5M344.4 645.2h1.5M346.7 625.0h1.5M350.6 625.2h1.5M357.0 640.8h1.5M351.6 626.8h1.5M354.1 636.5h1.5M358.6 618.4h1.5M349.8 607.1h1.5M383.5 592.7h1.5M355.3 619.2h1.5M374.5 630.8h1.5M376.1 622.2h1.5M372.4 608.0h1.5M389.1 605.7h1.5M362.0 631.0h1.5M351.1 631.4h1.5M377.6 616.1h1.5M346.6 621.6h1.5M352.3 619.3h1.5M389.3 625.2h1.5M396.4 639.0h1.5M393.9 626.8h1.5M383.1 606.6h1.5M390.8 616.3h1.5M368.3 620.9h1.5M374.4 608.2h1.5M393.3 606.7h1.5M389.8 610.1h1.5M378.8 640.8h1.5M376.4 606.7h1.5M368.7 615.9h1.5M364.1 623.5h1.5M346.9 622.2h1.5M360.4 620.3h1.5M386.5 644.4h1.5M377.0 609.6h1.5M366.4 627.9h1.5M356.7 619.9h1.5M379.2 637.6h1.5M356.7 615.2h1.5M357.2 603.3h1.5M383.9 602.4h1.5M346.9 620.0h1.5M355.8 646.2h1.5M361.7 646.9h1.5M379.3 596.1h1.5M345.3 610.6h1.5M392.4 601.9h1.5M393.2 639.2h1.5M391.4 637.9h1.5M375.5 604.2h1.5M357.3 616.9h1.5M350.2 614.6h1.5M362.7 595.8h1.5M394.7 647.5h1.5M389.2 639.9h1.5M387.6 625.8h1.5M363.0 598.9h1.5M355.1 626.2h1.5M369.3 621.3h1.5M350.9 633.6h1.5M371.0 628.6h1.5M382.8 595.6h1.5M364.5 634.9h1.5M377.0 619.9h1.5M377.0 593.2h1.5M347.1 629.0h1.5M388.2 622.0h1.5" stroke="#fff" stroke-width="1.6" fill="none"/>
<path d="M381.7 634.3h1.7M383.9 593.9h1.7M351.3 611.5h1.7M346.6 600.8h1.7M395.0 626.0h1.7M363.7 597.4h1.7M393.0 637.7h1.7M398.4 620.6h1.7M361.4 619.2h1.7M361.9 619.6h1.7M398.7 636.1h1.7M343.3 611.0h1.7M363.7 621.1h1.7M343.9 606.2h1.7M347.1 609.6h1.7M398.7 633.0h1.7M358.2 619.1h1.7M350.3 601.8h1.7M385.8 636.0h1.7M383.5 643.5h1.7M360.6 615.2h1.7M381.2 635.3h1.7M348.8 605.2h1.7M399.2 619.3h1.7M393.8 598.2h1.7M369.0 627.7h1.7M397.5 617.7h1.7M376.5 630.8h1.7M369.8 626.9h1.7M357.0 619.3h1.7M394.6 616.9h1.7M382.7 594.2h1.7M355.1 616.4h1.7M393.5 603.6h1.7M397.5 644.1h1.7M391.6 620.6h1.7M394.3 597.1h1.7M383.7 639.1h1.7M353.6 613.5h1.7M388.0 640.7h1.7M360.0 617.9h1.7M389.9 638.6h1.7M377.9 630.2h1.7M362.5 621.0h1.7M369.1 625.0h1.7M393.6 599.2h1.7M356.8 598.2h1.7M392.4 606.1h1.7M367.7 618.6h1.7M342.0 603.1h1.7M345.1 608.3h1.7M392.1 596.3h1.7M343.8 609.6h1.7M365.5 597.6h1.7M356.1 614.9h1.7M373.4 629.0h1.7M362.0 617.8h1.7M399.9 637.4h1.7M350.0 602.6h1.7M347.2 605.2h1.7M391.0 590.6h1.7M369.2 591.6h1.7M380.6 639.1h1.7M398.7 643.6h1.7M346.7 598.6h1.7M389.6 645.1h1.7M351.3 610.4h1.7M347.4 615.6h1.7M380.0 589.9h1.7M383.4 591.8h1.7M379.3 593.8h1.7M343.6 600.4h1.7M383.7 594.3h1.7M358.3 615.8h1.7M346.1 600.0h1.7M364.7 596.5h1.7M371.7 626.5h1.7M396.6 613.8h1.7M399.6 636.2h1.7M365.4 590.6h1.7M383.8 633.0h1.7M391.0 626.7h1.7M362.6 620.8h1.7M392.6 610.0h1.7M371.3 591.0h1.7M397.5 623.3h1.7M370.2 591.6h1.7M351.1 603.4h1.7M364.4 591.2h1.7M389.5 642.6h1.7M396.8 636.8h1.7M388.3 595.0h1.7M365.3 623.7h1.7M365.3 619.6h1.7M393.4 626.3h1.7M396.0 622.5h1.7M371.5 593.2h1.7M393.0 633.1h1.7M345.5 606.2h1.7M395.9 630.0h1.7M359.2 618.6h1.7M378.5 630.9h1.7M355.8 603.2h1.7M361.1 595.6h1.7M359.3 595.9h1.7M378.6 590.5h1.7M397.7 636.7h1.7M380.8 631.6h1.7M363.5 622.2h1.7M367.9 623.1h1.7M396.2 604.5h1.7M361.3 619.1h1.7M388.1 640.7h1.7M373.9 595.6h1.7M396.5 626.3h1.7M352.1 612.4h1.7M362.6 619.0h1.7M372.5 627.2h1.7M381.6 630.9h1.7M372.8 628.6h1.7M358.7 602.8h1.7M387.9 635.3h1.7M398.4 628.0h1.7M358.5 598.7h1.7M350.9 598.8h1.7M387.3 595.9h1.7M370.7 622.7h1.7M349.6 599.6h1.7M383.3 596.0h1.7M396.3 613.5h1.7M396.0 604.0h1.7M397.6 630.0h1.7M392.2 635.3h1.7M389.6 642.6h1.7M367.6 592.6h1.7M355.3 617.1h1.7M390.9 596.7h1.7M400.8 619.8h1.7M346.4 611.1h1.7M361.1 622.3h1.7M365.2 620.4h1.7M344.7 601.2h1.7M361.4 623.9h1.7M355.7 599.3h1.7M397.2 605.1h1.7M388.4 642.5h1.7M365.5 627.8h1.7M371.6 597.3h1.7M358.0 615.8h1.7M384.6 594.3h1.7M398.1 601.9h1.7M397.5 635.3h1.7M397.4 617.0h1.7M398.0 631.1h1.7M368.4 625.4h1.7M361.2 619.9h1.7M344.1 604.3h1.7M352.0 618.2h1.7M397.0 612.2h1.7M350.4 600.3h1.7M395.6 601.8h1.7M395.2 596.2h1.7M393.1 645.4h1.7M395.2 640.7h1.7M352.2 599.1h1.7M390.6 594.2h1.7M387.9 642.2h1.7M388.4 589.0h1.7M400.5 635.2h1.7M371.0 623.2h1.7M397.1 637.8h1.7M382.6 636.5h1.7M359.1 617.8h1.7M363.5 596.0h1.7M381.7 635.5h1.7M356.9 594.2h1.7M394.7 636.2h1.7M381.3 592.3h1.7M379.7 591.6h1.7M383.5 596.1h1.7M393.0 594.7h1.7M357.5 616.6h1.7M365.3 622.3h1.7M394.3 610.3h1.7M392.3 592.2h1.7M361.7 621.2h1.7M388.2 642.2h1.7M393.2 642.1h1.7M389.5 645.6h1.7M390.2 639.9h1.7M398.5 608.1h1.7M399.6 613.6h1.7M391.7 599.9h1.7M395.4 613.4h1.7M353.4 610.7h1.7M392.7 623.0h1.7M395.9 604.8h1.7M389.0 642.9h1.7M374.7 632.9h1.7M363.2 596.9h1.7M355.3 602.9h1.7M367.5 628.1h1.7M391.3 628.6h1.7M392.3 600.6h1.7M357.0 619.9h1.7M364.7 595.8h1.7M343.3 605.0h1.7M397.6 598.5h1.7M386.1 596.7h1.7M365.1 620.6h1.7M359.5 617.9h1.7M374.6 628.7h1.7M395.6 604.4h1.7M354.5 610.0h1.7M393.2 603.2h1.7M373.1 591.2h1.7M353.8 612.8h1.7M394.3 629.5h1.7M395.0 631.9h1.7M343.7 605.8h1.7M395.4 606.0h1.7M343.0 604.6h1.7M360.9 594.1h1.7M399.0 611.6h1.7M372.0 592.8h1.7M367.7 622.2h1.7M380.4 592.9h1.7M384.0 642.9h1.7M357.1 597.5h1.7M377.2 634.9h1.7M355.3 596.0h1.7M363.4 598.4h1.7M386.7 592.4h1.7M347.5 599.8h1.7M388.5 641.0h1.7M368.0 590.5h1.7M373.5 631.3h1.7M346.1 609.3h1.7M378.9 594.5h1.7M392.7 628.3h1.7M396.2 630.0h1.7M390.9 640.6h1.7M385.3 590.1h1.7M344.8 602.8h1.7M348.1 601.5h1.7M380.6 634.3h1.7M395.3 601.4h1.7M394.0 623.0h1.7M397.8 639.9h1.7M390.5 636.1h1.7M367.3 626.4h1.7M398.7 636.8h1.7M399.9 602.7h1.7M415.0 589.6h1.7M352.1 583.7h1.7M369.0 589.7h1.7M413.3 588.8h1.7M409.4 594.1h1.7M399.3 587.0h1.7M354.6 597.2h1.7M371.0 589.8h1.7M355.1 582.7h1.7M406.3 597.4h1.7M360.8 591.6h1.7M389.5 592.3h1.7M374.3 587.9h1.7M350.9 586.3h1.7M346.4 587.3h1.7M345.1 588.1h1.7M353.6 587.0h1.7M391.6 583.6h1.7M373.2 583.3h1.7M395.8 594.1h1.7M361.2 595.1h1.7M351.5 583.5h1.7M384.9 592.8h1.7M373.1 596.5h1.7M392.2 590.8h1.7M355.2 586.3h1.7M403.4 589.5h1.7M347.1 589.8h1.7M348.8 583.9h1.7M383.4 582.4h1.7M349.5 586.1h1.7M343.5 592.5h1.7M383.3 583.7h1.7M357.6 584.5h1.7M360.9 590.6h1.7M379.9 584.9h1.7M399.2 597.4h1.7M347.7 585.2h1.7M373.9 599.3h1.7M378.2 593.7h1.7M363.3 582.6h1.7M403.1 583.2h1.7M361.4 595.0h1.7M383.6 596.2h1.7M376.6 591.2h1.7M355.2 597.7h1.7M394.6 587.5h1.7M351.9 593.5h1.7M363.8 593.5h1.7M416.0 595.7h1.7M403.9 588.1h1.7M402.5 583.9h1.7M369.0 595.1h1.7M370.5 595.7h1.7M389.7 592.0h1.7M392.3 588.9h1.7M359.9 588.4h1.7M348.6 594.5h1.7M395.4 589.4h1.7M367.7 583.2h1.7M412.4 598.7h1.7M375.6 587.5h1.7M347.6 586.1h1.7M418.6 589.7h1.7M363.5 583.6h1.7M357.7 598.5h1.7M356.9 598.4h1.7M386.6 593.7h1.7M363.6 582.0h1.7M402.6 596.1h1.7M409.9 589.9h1.7M395.3 585.4h1.7M416.0 584.2h1.7M344.0 585.1h1.7M411.0 587.7h1.7M405.0 584.4h1.7M365.3 586.0h1.7M411.9 600.0h1.7M398.8 585.6h1.7M392.5 594.1h1.7M346.9 591.7h1.7M350.7 585.9h1.7M360.8 595.3h1.7M354.4 586.4h1.7M406.8 589.1h1.7M389.7 592.3h1.7M389.3 583.0h1.7M406.8 585.0h1.7M373.1 587.1h1.7M384.3 591.2h1.7M353.0 588.2h1.7M384.0 596.2h1.7M362.9 590.7h1.7M357.1 593.4h1.7M413.5 585.5h1.7M368.3 595.0h1.7M382.7 587.0h1.7M403.4 594.2h1.7M376.7 583.2h1.7M346.5 582.5h1.7M363.5 588.7h1.7M392.7 596.6h1.7M405.9 599.4h1.7M358.6 594.0h1.7M346.6 593.4h1.7M391.9 592.3h1.7M396.9 584.6h1.7M345.2 597.1h1.7M370.4 595.3h1.7M343.8 589.9h1.7M401.4 598.8h1.7M396.6 599.4h1.7M364.3 587.7h1.7M368.8 590.1h1.7M371.8 588.6h1.7M346.5 596.4h1.7M392.2 586.8h1.7M363.2 590.8h1.7M376.0 596.2h1.7M413.3 591.4h1.7M399.5 590.5h1.7M379.6 599.5h1.7M354.5 582.6h1.7M371.4 588.8h1.7M418.5 584.2h1.7M372.1 585.8h1.7M398.8 596.9h1.7M415.4 587.6h1.7M372.8 598.6h1.7M404.0 584.5h1.7M374.5 590.6h1.7M350.7 597.4h1.7M404.6 596.0h1.7M380.0 591.9h1.7M386.9 588.2h1.7M356.9 583.0h1.7M407.7 597.9h1.7M345.4 596.2h1.7M396.0 591.3h1.7M417.3 586.3h1.7M376.9 595.8h1.7M380.2 592.3h1.7M409.6 593.8h1.7M406.8 597.0h1.7M401.8 583.4h1.7M378.8 598.9h1.7M406.9 588.0h1.7M357.8 591.6h1.7M366.9 592.7h1.7M351.6 598.7h1.7M418.0 599.6h1.7M380.9 589.5h1.7M389.4 595.2h1.7M357.2 584.4h1.7M380.3 589.5h1.7M408.0 589.4h1.7M418.1 585.3h1.7M345.8 593.5h1.7M343.2 582.3h1.7M347.2 592.4h1.7M387.1 587.7h1.7M355.3 585.9h1.7M398.8 586.2h1.7M393.7 584.8h1.7M347.3 592.8h1.7M382.7 594.1h1.7M408.2 587.7h1.7M413.9 595.9h1.7M406.6 582.8h1.7M402.9 595.7h1.7M415.9 589.7h1.7M361.2 586.1h1.7M395.3 584.5h1.7M389.7 598.9h1.7M409.8 583.0h1.7M346.2 590.1h1.7M395.9 589.8h1.7M392.5 587.4h1.7M379.1 594.9h1.7M370.0 583.2h1.7M406.9 586.5h1.7M374.1 590.0h1.7M382.9 586.6h1.7M346.2 593.6h1.7M411.1 591.1h1.7M388.6 595.5h1.7M346.0 589.6h1.7M344.9 592.9h1.7M372.2 599.7h1.7M395.4 583.9h1.7M354.8 591.3h1.7M407.8 598.4h1.7M399.9 602.6h1.7M373.4 588.3h1.7M400.5 596.9h1.7M387.5 592.9h1.7M343.5 589.0h1.7M382.7 594.8h1.7M384.3 596.0h1.7M366.6 587.4h1.7M380.0 589.0h1.7M375.3 584.7h1.7M364.2 595.3h1.7M372.9 590.3h1.7M397.5 589.6h1.7M395.9 586.7h1.7M367.5 593.2h1.7M378.3 596.5h1.7M375.7 600.0h1.7M390.5 587.3h1.7M386.2 587.6h1.7M392.3 581.1h1.7M392.4 589.0h1.7M405.9 591.2h1.7M389.7 596.9h1.7M395.0 590.3h1.7M371.3 585.7h1.7M373.6 590.3h1.7M402.4 588.0h1.7M391.0 596.6h1.7M397.8 598.1h1.7M371.3 592.7h1.7M397.5 603.7h1.7M371.6 584.2h1.7M373.2 593.8h1.7M388.6 586.4h1.7M375.3 592.0h1.7M396.6 595.7h1.7M358.5 596.5h1.7M382.2 593.3h1.7M397.0 590.9h1.7M376.3 592.5h1.7M359.7 585.3h1.7M390.8 586.7h1.7M395.2 589.3h1.7M384.0 594.0h1.7M397.8 585.3h1.7M378.2 590.1h1.7M384.8 583.5h1.7M395.7 583.3h1.7M388.8 598.6h1.7M404.6 594.8h1.7M400.2 586.6h1.7M403.0 589.8h1.7M370.4 586.5h1.7M391.7 598.1h1.7M363.9 586.6h1.7M392.7 583.5h1.7M393.4 583.0h1.7M384.3 593.1h1.7M373.5 596.0h1.7M381.2 589.7h1.7M392.0 591.0h1.7M391.6 592.2h1.7M402.2 594.5h1.7M367.9 602.3h1.7M390.8 590.6h1.7M381.1 589.8h1.7M401.6 591.6h1.7M402.5 588.6h1.7M399.4 593.5h1.7M409.3 595.7h1.7M381.9 591.6h1.7M410.8 594.1h1.7M380.6 588.3h1.7M392.9 597.5h1.7M389.3 587.8h1.7M414.8 593.7h1.7M397.4 585.8h1.7M387.7 587.3h1.7M356.6 591.3h1.7M380.2 591.4h1.7M380.3 588.6h1.7M369.5 596.8h1.7M387.6 591.6h1.7M358.5 589.3h1.7M399.8 589.9h1.7M411.4 602.9h1.7M372.9 594.2h1.7M411.4 600.5h1.7M390.1 593.8h1.7M377.9 585.8h1.7M364.2 590.3h1.7M385.0 592.4h1.7M399.3 592.4h1.7M383.2 587.0h1.7M387.4 597.6h1.7M382.1 593.8h1.7M355.1 590.5h1.7M366.8 591.4h1.7M366.2 594.3h1.7M406.6 591.9h1.7M388.2 598.8h1.7M373.7 592.8h1.7M381.1 602.5h1.7M379.2 597.1h1.7M389.9 585.5h1.7M388.5 594.2h1.7M388.3 587.6h1.7M380.1 593.0h1.7M384.4 589.4h1.7M395.6 593.5h1.7M384.1 589.7h1.7M386.7 593.5h1.7M416.2 589.5h1.7M390.0 594.5h1.7M396.5 599.3h1.7M386.2 585.8h1.7M364.9 579.9h1.7M377.9 586.6h1.7M361.7 593.6h1.7M390.3 591.8h1.7M365.3 586.4h1.7M366.2 586.9h1.7M381.9 592.9h1.7M376.9 587.5h1.7M357.5 588.0h1.7M392.9 588.0h1.7M363.1 591.7h1.7M393.2 593.5h1.7M377.3 594.2h1.7M393.2 592.2h1.7M369.1 591.8h1.7M382.7 591.8h1.7M380.4 598.8h1.7M378.9 588.5h1.7M361.3 586.3h1.7M390.5 590.0h1.7M406.3 591.7h1.7M395.6 598.9h1.7M367.9 590.6h1.7M370.9 583.5h1.7M372.6 595.2h1.7M374.0 593.5h1.7M404.6 601.8h1.7M380.0 586.8h1.7M376.8 596.4h1.7M403.7 585.8h1.7M379.8 587.6h1.7M379.7 597.6h1.7M401.0 581.5h1.7M377.2 589.3h1.7M388.1 586.9h1.7M378.7 592.8h1.7M385.1 589.5h1.7M392.3 590.0h1.7M361.9 584.1h1.7M364.3 588.3h1.7M383.1 587.3h1.7M368.9 588.2h1.7M413.6 621.3h1.7M416.9 617.5h1.7M411.6 612.3h1.7M398.3 611.4h1.7M409.5 638.9h1.7M410.6 612.3h1.7M399.9 629.1h1.7M408.6 625.6h1.7M406.5 602.7h1.7M407.3 624.8h1.7M411.9 635.3h1.7M412.7 626.2h1.7M418.7 605.2h1.7M415.4 629.4h1.7M401.9 610.2h1.7M400.8 605.8h1.7M405.8 615.9h1.7M409.8 637.6h1.7M395.9 632.2h1.7M410.2 631.3h1.7M397.1 614.6h1.7M408.5 639.7h1.7M413.6 615.8h1.7M396.9 619.2h1.7M416.2 636.1h1.7M413.8 607.0h1.7M408.5 624.0h1.7M411.7 604.7h1.7M417.2 606.8h1.7M399.5 613.6h1.7M412.2 637.3h1.7M407.9 612.0h1.7M414.4 623.2h1.7M406.7 635.1h1.7M401.3 623.5h1.7M406.0 621.6h1.7M402.8 638.1h1.7M408.5 613.2h1.7M413.3 618.8h1.7M400.2 609.6h1.7M396.9 621.2h1.7M414.6 616.9h1.7M402.7 621.6h1.7M408.1 602.9h1.7M404.8 613.6h1.7M407.5 614.9h1.7M408.8 638.7h1.7M416.0 639.8h1.7M401.1 598.5h1.7M407.9 632.7h1.7M410.6 627.1h1.7M400.8 635.9h1.7M398.8 622.0h1.7M414.6 632.7h1.7M408.2 615.5h1.7M408.3 616.4h1.7M404.8 611.8h1.7M410.2 638.8h1.7M409.4 628.9h1.7M409.0 629.0h1.7M400.2 628.3h1.7M405.8 608.4h1.7M416.1 609.2h1.7M418.4 637.0h1.7M397.0 599.3h1.7M417.0 611.2h1.7M400.2 635.4h1.7M414.2 600.2h1.7M418.1 604.5h1.7M408.8 604.8h1.7M404.8 613.5h1.7M413.0 598.2h1.7M408.9 606.6h1.7M406.1 613.6h1.7M406.2 608.6h1.7M404.9 638.4h1.7M403.1 612.8h1.7M414.2 606.9h1.7M413.2 605.1h1.7M403.9 601.1h1.7M402.7 633.4h1.7M400.8 619.8h1.7M408.1 610.8h1.7M415.1 599.1h1.7M417.4 624.6h1.7M409.9 598.1h1.7M401.3 627.2h1.7M414.4 636.6h1.7M417.9 600.5h1.7M414.5 618.8h1.7M401.9 618.5h1.7M419.1 618.9h1.7M413.8 632.3h1.7M401.6 639.0h1.7M411.8 603.7h1.7M399.2 611.0h1.7M396.7 639.7h1.7M404.8 624.5h1.7M417.1 632.0h1.7M406.1 619.5h1.7M402.8 637.6h1.7M416.7 613.0h1.7M416.3 614.8h1.7M418.8 637.1h1.7M399.9 614.0h1.7M398.4 618.1h1.7M409.9 607.8h1.7M398.7 623.9h1.7M414.3 627.9h1.7M406.1 614.6h1.7M403.1 614.2h1.7M412.4 626.0h1.7M409.3 620.9h1.7M399.9 623.8h1.7M398.6 612.0h1.7M404.4 637.7h1.7M396.0 632.0h1.7M400.0 635.7h1.7M411.9 623.9h1.7M398.2 638.5h1.7M405.3 630.0h1.7M404.8 600.0h1.7M405.7 625.2h1.7M414.0 630.5h1.7M409.8 615.0h1.7M396.7 598.1h1.7M407.7 618.0h1.7M405.7 612.5h1.7M408.1 619.6h1.7M400.0 598.5h1.7M418.3 565.8h1.7M367.7 564.8h1.7M398.5 569.5h1.7M406.2 580.4h1.7M383.6 564.6h1.7M411.9 572.6h1.7M409.1 571.5h1.7M414.9 578.0h1.7M422.4 564.5h1.7M379.3 572.7h1.7M366.7 568.5h1.7M409.9 581.3h1.7M402.3 570.1h1.7M419.9 571.7h1.7M407.4 565.9h1.7M364.2 572.9h1.7M380.8 582.2h1.7M343.2 576.0h1.7M406.6 568.0h1.7M397.1 571.2h1.7M356.0 572.1h1.7M347.1 575.4h1.7M375.1 573.5h1.7M389.5 568.0h1.7M367.7 572.7h1.7M348.5 577.8h1.7M360.9 582.6h1.7M372.4 578.0h1.7M363.9 573.8h1.7M354.1 572.3h1.7M346.8 572.8h1.7M421.6 567.7h1.7M366.4 564.9h1.7M352.7 578.2h1.7M407.5 570.3h1.7M369.6 576.3h1.7M415.9 579.1h1.7M356.5 582.5h1.7M345.5 578.2h1.7M372.1 577.8h1.7M365.2 564.0h1.7M344.6 565.0h1.7M365.4 579.2h1.7M419.6 564.8h1.7M384.4 576.0h1.7M350.7 564.2h1.7M416.6 566.2h1.7M411.0 569.6h1.7M402.7 568.2h1.7M395.1 570.5h1.7M406.2 566.0h1.7M384.4 576.1h1.7M384.3 574.6h1.7M408.9 568.7h1.7M392.4 575.0h1.7M369.7 565.0h1.7M347.6 576.6h1.7M382.8 567.6h1.7M348.4 569.6h1.7M407.3 582.0h1.7M421.3 619.0h1.7M420.0 565.9h1.7M433.4 594.7h1.7M430.9 611.5h1.7M426.8 600.0h1.7M439.1 594.2h1.7M434.8 600.4h1.7M427.8 640.3h1.7M437.4 620.6h1.7M434.3 576.4h1.7M425.5 613.0h1.7M432.0 592.0h1.7M439.1 632.0h1.7M423.8 616.4h1.7M421.9 627.4h1.7M428.5 602.4h1.7M435.6 630.5h1.7M394.0 552.3h1.7M423.3 540.0h1.7M425.2 544.7h1.7M376.4 544.2h1.7M408.5 542.0h1.7M393.8 548.9h1.7M408.0 547.0h1.7M357.7 541.1h1.7M426.5 546.8h1.7M418.6 541.8h1.7M380.8 555.7h1.7M401.1 544.9h1.7M376.2 545.9h1.7M400.1 546.1h1.7M387.2 541.1h1.7M369.6 551.2h1.7M392.4 541.8h1.7M409.8 544.5h1.7M367.6 546.7h1.7M387.3 546.0h1.7M363.3 549.2h1.7M406.2 541.4h1.7M407.3 545.3h1.7M370.7 546.1h1.7M442.6 541.0h1.7M408.4 545.5h1.7M347.8 543.4h1.7M381.3 546.6h1.7M406.5 544.9h1.7M381.9 543.8h1.7M397.6 539.6h1.7M391.7 541.2h1.7M363.9 542.6h1.7M407.9 544.0h1.7M394.0 541.9h1.7M369.3 544.8h1.7M394.4 544.1h1.7M386.1 547.1h1.7M359.2 547.8h1.7M375.4 547.5h1.7M408.7 545.7h1.7M392.7 540.9h1.7M384.2 548.9h1.7M377.7 549.7h1.7M392.6 549.4h1.7M411.1 549.9h1.7M403.7 543.9h1.7M410.2 541.7h1.7M387.5 546.6h1.7M382.6 547.2h1.7M427.3 544.6h1.7M381.3 550.5h1.7M395.5 545.8h1.7M386.2 539.1h1.7M387.1 546.6h1.7M369.9 537.4h1.7M400.2 548.1h1.7M376.5 546.7h1.7M361.7 550.3h1.7M408.6 536.9h1.7M416.5 543.8h1.7M393.4 542.5h1.7M384.5 549.4h1.7M364.2 545.0h1.7M362.2 548.7h1.7M388.0 547.9h1.7M367.4 549.4h1.7M391.4 545.8h1.7M381.4 541.1h1.7M381.1 545.7h1.7M367.3 539.7h1.7M385.3 552.0h1.7M415.6 549.8h1.7M409.1 546.2h1.7M411.8 542.3h1.7M397.9 548.3h1.7M367.2 541.4h1.7M393.1 548.2h1.7M386.7 552.3h1.7M383.1 556.6h1.7M369.0 541.8h1.7M350.6 548.2h1.7M407.7 543.5h1.7M395.4 544.3h1.7M367.9 547.9h1.7M402.8 544.6h1.7M375.3 546.6h1.7M377.6 547.6h1.7M393.4 547.3h1.7M379.7 547.1h1.7M378.3 549.2h1.7M370.6 546.8h1.7M373.3 546.2h1.7M348.6 544.6h1.7M389.8 543.2h1.7M365.9 549.6h1.7M386.1 541.6h1.7M406.2 545.6h1.7M410.2 552.0h1.7M397.9 538.8h1.7M420.0 543.1h1.7M403.7 547.5h1.7M432.6 542.0h1.7M407.9 543.9h1.7M377.0 540.9h1.7M382.5 544.3h1.7M351.3 550.8h1.7M376.2 547.4h1.7M392.6 546.0h1.7M366.6 547.3h1.7M394.6 546.7h1.7M372.8 547.8h1.7M354.0 546.9h1.7M401.3 548.5h1.7M373.1 547.0h1.7M365.0 539.1h1.7M395.5 546.5h1.7M382.7 547.1h1.7M402.5 545.0h1.7M382.8 545.9h1.7M408.5 544.5h1.7M383.8 546.1h1.7M396.6 546.1h1.7M379.4 546.3h1.7M409.5 546.2h1.7M414.8 546.2h1.7M393.0 544.6h1.7M362.4 545.8h1.7M381.4 541.7h1.7M397.9 545.6h1.7M383.6 543.2h1.7M383.7 552.3h1.7M386.7 545.2h1.7M371.5 543.9h1.7M380.9 543.1h1.7M394.3 542.7h1.7M367.9 543.1h1.7M417.9 543.6h1.7M380.6 547.3h1.7M404.4 546.5h1.7M386.8 540.9h1.7M360.0 547.0h1.7M390.1 545.0h1.7M370.4 543.3h1.7M392.7 552.9h1.7M393.5 544.4h1.7M399.1 547.0h1.7M367.3 550.3h1.7M431.4 539.4h1.7M409.0 545.3h1.7M361.4 543.3h1.7M365.1 537.8h1.7M383.9 542.3h1.7M413.1 547.7h1.7M379.7 542.5h1.7M370.6 544.4h1.7M400.2 544.5h1.7M403.0 546.9h1.7M420.7 546.8h1.7M382.0 543.7h1.7M410.6 540.7h1.7M387.4 546.8h1.7M372.7 544.0h1.7M372.2 552.0h1.7M374.8 543.3h1.7M369.4 547.5h1.7M377.4 550.4h1.7M389.7 541.8h1.7M441.9 544.7h1.7M396.3 545.8h1.7M357.0 548.1h1.7M411.2 544.1h1.7M364.2 539.5h1.7M422.6 548.2h1.7M407.8 549.7h1.7M363.9 542.8h1.7M399.1 543.0h1.7M390.6 542.9h1.7M424.8 551.0h1.7M364.4 551.6h1.7M377.8 541.4h1.7M421.1 543.5h1.7M421.7 552.0h1.7M401.3 541.3h1.7M409.3 552.3h1.7M367.2 552.6h1.7M384.5 544.5h1.7M399.5 539.4h1.7M391.0 549.9h1.7M375.3 544.2h1.7M376.4 546.2h1.7M395.4 546.6h1.7M401.5 544.5h1.7M392.9 550.3h1.7M368.2 546.8h1.7M409.7 548.9h1.7M372.8 548.1h1.7M394.4 544.2h1.7M391.1 541.8h1.7M407.7 549.9h1.7M417.9 541.5h1.7M389.5 547.0h1.7M400.5 543.1h1.7M365.1 545.0h1.7M409.4 542.3h1.7M390.0 549.7h1.7M385.7 544.9h1.7M409.5 542.2h1.7M384.9 545.5h1.7M387.0 545.9h1.7M393.5 548.0h1.7M384.0 544.6h1.7M368.6 546.9h1.7M366.4 543.3h1.7M377.7 548.1h1.7M394.1 549.8h1.7M364.3 553.0h1.7M426.9 538.1h1.7M379.3 554.7h1.7M365.5 548.8h1.7M410.8 538.7h1.7M413.5 552.4h1.7M399.9 542.4h1.7M369.2 544.4h1.7M397.3 549.8h1.7M403.6 544.4h1.7M409.3 547.0h1.7M393.5 548.3h1.7M417.6 546.5h1.7M363.6 546.8h1.7M398.9 547.8h1.7M381.0 550.0h1.7M419.8 547.7h1.7M370.5 548.6h1.7M402.5 542.5h1.7M415.4 545.4h1.7M395.6 548.7h1.7M382.1 544.6h1.7M381.0 543.9h1.7M377.9 548.8h1.7M362.4 549.9h1.7M396.6 547.0h1.7M377.3 552.7h1.7M379.4 542.8h1.7M379.6 544.6h1.7M389.7 548.5h1.7M381.5 546.0h1.7M371.7 536.6h1.7M385.8 545.3h1.7M399.4 545.9h1.7M390.7 546.4h1.7M364.8 547.4h1.7M396.8 544.0h1.7M362.1 545.8h1.7M392.5 549.2h1.7M378.9 542.2h1.7M388.4 547.8h1.7M369.4 551.7h1.7M366.3 541.0h1.7M408.8 547.6h1.7M391.9 550.9h1.7M375.6 543.1h1.7M408.1 546.0h1.7M383.4 550.5h1.7M368.8 545.6h1.7M403.0 549.0h1.7M386.6 545.9h1.7M350.9 541.0h1.7M357.4 539.4h1.7M346.8 549.5h1.7M400.8 540.5h1.7M357.2 548.2h1.7M405.3 542.7h1.7M380.6 546.5h1.7M418.7 543.9h1.7M383.5 542.9h1.7M373.9 543.9h1.7M369.0 544.1h1.7M404.3 544.3h1.7M396.1 550.4h1.7M377.1 546.6h1.7M378.7 544.7h1.7M383.7 544.0h1.7M394.9 548.1h1.7M365.7 550.8h1.7M427.6 541.5h1.7M416.9 546.0h1.7M348.9 545.7h1.7M399.4 545.8h1.7M377.3 543.7h1.7M372.6 546.6h1.7M391.8 548.4h1.7M399.5 545.7h1.7M406.1 547.7h1.7M413.7 544.9h1.7M397.8 544.4h1.7M374.4 547.4h1.7M378.5 541.5h1.7M400.7 546.2h1.7M374.5 542.9h1.7M355.5 547.8h1.7M381.4 546.1h1.7M353.2 542.7h1.7M377.7 543.1h1.7M366.8 538.3h1.7M359.0 545.4h1.7M365.8 551.2h1.7M390.0 544.8h1.7M401.3 546.7h1.7M439.2 549.8h1.7M371.2 540.2h1.7M356.5 545.7h1.7M418.0 550.3h1.7M399.7 543.3h1.7M344.5 548.7h1.7M386.8 550.4h1.7M374.5 551.6h1.7M386.0 541.7h1.7M397.9 543.9h1.7M417.1 541.0h1.7M378.9 549.9h1.7M354.3 546.4h1.7M389.2 538.1h1.7M404.4 555.4h1.7M346.9 545.5h1.7M423.2 547.8h1.7M369.1 551.1h1.7M387.9 554.2h1.7M355.4 541.1h1.7M360.6 542.0h1.7M387.3 542.5h1.7M389.3 551.1h1.7M351.5 545.7h1.7M373.2 549.8h1.7M401.6 544.8h1.7M388.5 554.6h1.7M389.1 544.5h1.7M376.1 549.4h1.7M400.9 552.9h1.7M382.8 546.0h1.7M374.6 554.6h1.7M402.5 554.3h1.7M396.6 540.7h1.7M368.6 546.0h1.7M356.4 549.0h1.7M413.3 555.9h1.7M359.0 553.5h1.7M418.7 550.6h1.7M383.8 545.2h1.7M409.9 549.8h1.7M365.1 548.9h1.7M411.3 550.5h1.7M421.8 550.7h1.7M368.2 550.5h1.7M362.6 553.1h1.7M357.1 547.2h1.7M369.3 547.9h1.7M419.7 555.4h1.7M395.3 546.9h1.7M371.7 555.6h1.7M412.6 538.3h1.7M378.4 553.6h1.7M374.0 553.9h1.7M398.8 539.6h1.7M364.0 551.1h1.7M394.3 547.9h1.7M358.2 551.0h1.7M422.7 547.2h1.7M399.3 546.1h1.7M344.8 555.8h1.7M396.9 540.4h1.7M346.0 541.5h1.7M355.7 555.7h1.7M396.9 554.7h1.7M364.5 553.3h1.7M351.8 544.6h1.7M347.6 540.3h1.7M344.9 552.2h1.7M360.9 544.9h1.7M368.1 539.7h1.7M358.0 545.0h1.7M363.0 548.8h1.7M379.6 540.4h1.7M384.3 551.4h1.7M425.1 554.2h1.7M425.1 539.5h1.7M374.3 550.4h1.7M371.0 550.6h1.7M417.8 554.5h1.7M378.0 553.2h1.7M392.0 540.2h1.7M400.0 538.1h1.7M424.0 539.2h1.7M375.0 540.5h1.7M345.3 551.5h1.7M409.3 544.0h1.7M404.4 554.7h1.7M370.6 541.7h1.7M416.0 554.5h1.7M372.9 549.9h1.7M345.7 547.7h1.7M363.9 539.7h1.7M419.1 551.5h1.7M400.3 555.2h1.7M390.4 548.2h1.7M344.3 546.0h1.7M363.5 542.8h1.7M412.7 540.2h1.7M409.7 552.2h1.7M405.5 543.0h1.7M369.5 552.2h1.7M385.6 544.3h1.7M411.7 548.7h1.7M414.9 551.4h1.7M435.3 557.6h1.7M376.7 538.3h1.7M350.4 553.4h1.7M376.1 547.4h1.7M353.9 555.8h1.7M395.6 539.7h1.7M403.1 540.6h1.7M392.8 546.4h1.7M413.1 560.4h1.7M383.8 551.5h1.7M372.1 547.5h1.7M372.7 552.9h1.7M392.2 553.0h1.7M396.5 548.9h1.7M435.6 546.6h1.7M374.1 554.5h1.7M400.2 543.4h1.7M369.9 555.7h1.7M385.7 555.2h1.7M455.9 529.4h1.7M472.7 557.2h1.7M471.3 526.4h1.7M475.8 529.6h1.7M489.8 545.3h1.7M464.5 552.4h1.7M455.9 548.0h1.7M472.6 532.5h1.7M484.8 581.7h1.7M482.5 596.6h1.7M477.1 575.1h1.7M467.7 610.7h1.7M480.9 582.2h1.7M474.7 576.7h1.7M477.2 593.6h1.7M473.4 595.7h1.7M479.5 566.4h1.7M474.1 576.7h1.7M470.3 596.2h1.7M469.0 599.1h1.7M481.0 590.0h1.7M476.6 573.7h1.7M477.6 578.6h1.7M482.4 567.0h1.7M473.7 583.0h1.7M470.8 595.4h1.7M465.5 576.0h1.7M468.4 601.4h1.7M471.6 576.4h1.7M484.0 591.2h1.7M474.4 587.0h1.7M467.0 602.5h1.7M470.0 604.1h1.7M470.8 570.0h1.7M473.2 572.8h1.7M469.2 572.2h1.7M475.1 588.4h1.7M474.5 597.8h1.7M480.4 579.3h1.7M479.0 558.1h1.7M476.2 593.3h1.7M472.1 578.2h1.7M476.3 592.0h1.7M474.4 599.3h1.7M475.1 592.4h1.7M473.1 594.8h1.7M477.1 594.5h1.7M466.9 616.0h1.7M474.8 586.8h1.7M471.7 569.4h1.7M471.7 593.4h1.7M473.9 576.9h1.7M463.8 593.0h1.7M464.5 600.0h1.7M473.4 599.4h1.7M477.2 560.2h1.7M473.0 584.0h1.7M480.0 601.0h1.7M479.9 583.9h1.7M471.1 603.3h1.7M474.2 583.3h1.7M477.2 607.3h1.7M468.2 587.8h1.7M468.1 588.4h1.7M474.9 594.0h1.7M478.2 575.0h1.7M472.2 598.3h1.7M477.1 597.2h1.7M468.7 591.7h1.7M476.6 581.3h1.7M480.7 571.2h1.7M482.4 588.4h1.7M488.5 571.7h1.7M470.6 584.9h1.7M469.8 584.0h1.7M470.4 578.5h1.7M475.1 577.3h1.7M475.0 578.9h1.7M477.5 587.7h1.7M475.8 592.2h1.7M471.3 602.2h1.7M467.8 593.6h1.7M466.7 583.5h1.7M479.5 565.6h1.7M477.1 584.4h1.7M466.5 597.9h1.7M471.9 578.4h1.7M478.2 579.3h1.7M467.8 587.3h1.7M476.3 588.7h1.7M478.9 573.8h1.7M471.5 588.2h1.7M469.8 581.2h1.7M474.1 583.4h1.7M474.7 583.7h1.7M483.7 575.5h1.7M477.2 581.8h1.7M477.8 573.5h1.7M477.4 601.9h1.7M475.6 588.2h1.7M472.2 596.6h1.7M484.3 572.6h1.7M469.0 575.8h1.7M466.0 585.7h1.7M466.9 574.6h1.7M479.4 589.2h1.7M473.8 587.7h1.7M471.1 585.3h1.7M484.7 575.6h1.7M477.9 575.9h1.7M470.4 614.2h1.7M479.4 584.2h1.7M471.7 596.3h1.7M475.3 587.5h1.7M471.1 597.1h1.7M478.9 584.7h1.7M480.4 599.0h1.7M473.7 601.4h1.7M472.2 596.2h1.7M469.3 592.8h1.7M471.1 571.6h1.7M473.0 592.5h1.7M471.7 591.8h1.7M480.0 583.0h1.7M474.8 581.8h1.7M474.6 589.1h1.7M475.4 602.4h1.7M477.7 605.0h1.7M473.7 591.9h1.7M476.8 575.6h1.7M481.8 595.8h1.7M475.3 571.1h1.7M483.8 591.8h1.7M471.5 598.8h1.7M474.4 589.0h1.7M482.6 593.5h1.7M470.9 576.9h1.7M471.8 584.6h1.7M475.9 593.4h1.7M464.0 607.4h1.7M470.9 586.6h1.7M472.9 596.0h1.7M476.3 606.2h1.7M467.8 587.1h1.7M477.1 575.1h1.7M477.4 612.7h1.7M472.3 586.3h1.7M473.3 593.1h1.7M473.7 597.0h1.7M466.9 605.5h1.7M475.7 576.8h1.7M476.1 588.6h1.7M486.9 560.1h1.7M473.9 557.1h1.7M483.5 576.5h1.7M474.8 590.4h1.7M481.8 579.0h1.7M476.4 585.3h1.7M473.1 594.4h1.7M482.4 565.4h1.7M483.1 581.8h1.7M475.0 571.2h1.7M481.8 589.4h1.7M477.4 561.1h1.7M477.3 570.5h1.7M483.4 579.9h1.7M478.3 582.1h1.7M475.6 580.6h1.7M476.2 609.6h1.7M468.7 583.7h1.7M468.4 598.8h1.7M474.3 562.0h1.7M474.6 590.6h1.7M470.9 608.2h1.7M468.7 575.9h1.7M471.0 638.8h1.7M466.1 576.2h1.7M469.5 609.0h1.7M471.0 584.9h1.7M454.7 591.1h1.7M483.1 613.7h1.7M468.4 587.5h1.7M464.7 589.0h1.7M458.9 614.4h1.7M466.8 575.3h1.7M464.2 598.5h1.7M486.2 608.9h1.7M478.8 610.7h1.7M476.3 562.1h1.7M474.1 610.8h1.7M476.7 624.7h1.7M471.3 602.4h1.7M462.5 598.9h1.7M487.7 601.2h1.7M477.6 626.8h1.7M479.1 624.0h1.7M479.9 597.2h1.7M469.0 610.3h1.7M477.4 611.8h1.7M470.1 608.3h1.7M481.5 622.3h1.7M464.9 603.2h1.7M468.4 621.0h1.7M482.6 602.2h1.7M478.6 638.1h1.7M468.1 576.8h1.7M470.9 636.1h1.7M481.8 618.8h1.7M472.9 602.4h1.7M473.9 598.7h1.7M477.0 610.8h1.7M468.7 602.7h1.7M463.8 600.6h1.7M495.2 570.1h1.7M484.0 611.1h1.7M486.0 599.4h1.7M469.2 634.6h1.7M455.2 621.2h1.7M473.0 567.6h1.7M448.6 619.8h1.7M476.3 634.5h1.7M469.4 575.6h1.7M490.5 634.3h1.7M474.7 580.4h1.7M448.0 632.5h1.7" stroke="#000" stroke-width="1.7" fill="none"/>
<rect x="341.5" y="520.8" width="167" height="126.7" fill="none" stroke="#000" stroke-width="1.7"/>
<path d="M440.8 520.8V647.5M341.5 562.3H508.5" stroke="#000" stroke-width="1.5" fill="none"/>
<path d="M343 647.5v6.5M341.5 646.1h-7M355.3 647.5v3.5M341.5 636.8h-4M362.6 647.5v3.5M341.5 631.4h-4M367.7 647.5v3.5M341.5 627.5h-4M371.7 647.5v3.5M341.5 624.6h-4M374.9 647.5v3.5M341.5 622.1h-4M377.6 647.5v3.5M341.5 620h-4M380 647.5v3.5M341.5 618.3h-4M382.1 647.5v3.5M341.5 616.7h-4M384 647.5v6.5M341.5 615.3h-7M396.3 647.5v3.5M341.5 606h-4M403.6 647.5v3.5M341.5 600.6h-4M408.7 647.5v3.5M341.5 596.7h-4M412.7 647.5v3.5M341.5 593.7h-4M415.9 647.5v3.5M341.5 591.3h-4M418.6 647.5v3.5M341.5 589.2h-4M421 647.5v3.5M341.5 587.4h-4M423.1 647.5v3.5M341.5 585.9h-4M425 647.5v6.5M341.5 584.5h-7M437.3 647.5v3.5M341.5 575.2h-4M444.6 647.5v3.5M341.5 569.7h-4M449.7 647.5v3.5M341.5 565.9h-4M453.7 647.5v3.5M341.5 562.9h-4M456.9 647.5v3.5M341.5 560.5h-4M459.6 647.5v3.5M341.5 558.4h-4M462 647.5v3.5M341.5 556.6h-4M464.1 647.5v3.5M341.5 555h-4M466 647.5v6.5M341.5 553.6h-7M478.3 647.5v3.5M341.5 544.3h-4M485.6 647.5v3.5M341.5 538.9h-4M490.7 647.5v3.5M341.5 535.1h-4M494.7 647.5v3.5M341.5 532.1h-4M497.9 647.5v3.5M341.5 529.6h-4M500.6 647.5v3.5M341.5 527.6h-4M503 647.5v3.5M341.5 525.8h-4M505.1 647.5v3.5M341.5 524.2h-4M507 647.5v6.5M341.5 522.8h-7" stroke="#000" stroke-width="1.5" fill="none"/>
<text x="332.6" y="673.4" font-size="14.2">10<tspan dx="2.6" dy="-7.4">0</tspan></text>
<text x="373.6" y="673.4" font-size="14.2">10<tspan dx="2.6" dy="-7.4">1</tspan></text>
<text x="414.6" y="673.4" font-size="14.2">10<tspan dx="2.6" dy="-7.4">2</tspan></text>
<text x="455.6" y="673.4" font-size="14.2">10<tspan dx="2.6" dy="-7.4">3</tspan></text>
<text x="496.6" y="673.4" font-size="14.2">10<tspan dx="2.6" dy="-7.4">4</tspan></text>
<text transform="translate(328.5 657) rotate(-90) scale(1,1.17)" font-size="14.2">10<tspan dx="2.1" dy="-5.4">0</tspan></text>
<text transform="translate(328.5 626.2) rotate(-90) scale(1,1.17)" font-size="14.2">10<tspan dx="2.1" dy="-5.4">1</tspan></text>
<text transform="translate(328.5 595.4) rotate(-90) scale(1,1.17)" font-size="14.2">10<tspan dx="2.1" dy="-5.4">2</tspan></text>
<text transform="translate(328.5 564.5) rotate(-90) scale(1,1.17)" font-size="14.2">10<tspan dx="2.1" dy="-5.4">3</tspan></text>
<text transform="translate(328.5 533.7) rotate(-90) scale(1,1.17)" font-size="14.2">10<tspan dx="2.1" dy="-5.4">4</tspan></text>
<text class="b" x="358.3" y="515.5" font-size="22.6" textLength="133.5" lengthAdjust="spacingAndGlyphs">Transgenic F</text>
<text class="b" x="347.6" y="538.4" font-size="18.3" textLength="49.9" lengthAdjust="spacingAndGlyphs">12 ± 7</text>
<text class="b" x="449.1" y="643.6" font-size="18.3" textLength="51.1" lengthAdjust="spacingAndGlyphs">22 ± 7</text>
<path d="M9 136L10.2 564" stroke="#000" stroke-width="1.7" fill="none"/>
<path d="M9 123.6L15.8 137.3H2.4Z" fill="#000"/>
<text class="b" transform="translate(18.2 624.4) rotate(-90)" font-size="24.5" textLength="45.6" lengthAdjust="spacingAndGlyphs">CD8</text>
<text class="b" x="87" y="704.5" font-size="23" textLength="43.7" lengthAdjust="spacingAndGlyphs">CD4</text>
<path d="M140.8 695.8L439 694.2" stroke="#000" stroke-width="1.7" fill="none"/>
<path d="M451 694.2L438 687.9V700.6Z" fill="#000"/>
</svg></body></html>
